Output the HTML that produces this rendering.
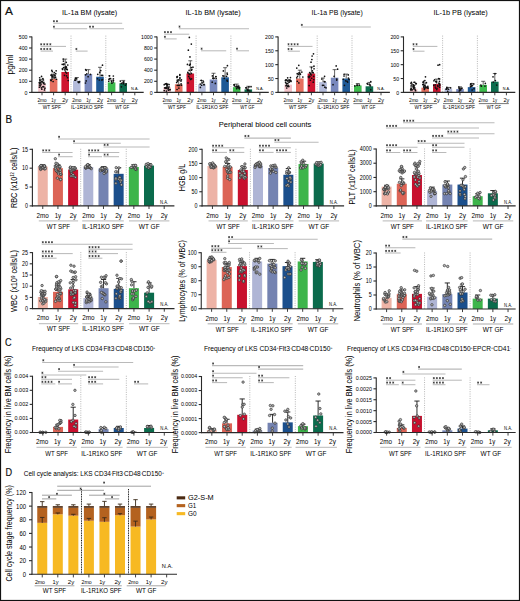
<!DOCTYPE html>
<html><head><meta charset="utf-8"><style>
html,body{margin:0;padding:0;background:#fff;}
svg{display:block;}
text{font-family:"Liberation Sans",sans-serif;}
</style></head><body>
<svg width="520" height="601" viewBox="0 0 520 601" font-family="Liberation Sans, sans-serif">
<rect x="0" y="0" width="520" height="601" fill="#fff"/>
<text x="5" y="14.6" font-size="11.6" fill="#111" textLength="7.9" lengthAdjust="spacingAndGlyphs" style="stroke:#111;stroke-width:0.2">A</text>
<text x="5.6" y="122.9" font-size="11.6" fill="#111" textLength="6.6" lengthAdjust="spacingAndGlyphs" style="stroke:#111;stroke-width:0.2">B</text>
<text x="5" y="346.4" font-size="11.6" fill="#111" textLength="6.6" lengthAdjust="spacingAndGlyphs" style="stroke:#111;stroke-width:0.2">C</text>
<text x="5.6" y="476.4" font-size="11.6" fill="#111" textLength="6.6" lengthAdjust="spacingAndGlyphs" style="stroke:#111;stroke-width:0.2">D</text>
<line x1="71" y1="35.6" x2="71" y2="92.4" stroke="#aaaaaa" stroke-width="0.85" stroke-dasharray="1 1.3"/>
<line x1="105.8" y1="35.6" x2="105.8" y2="92.4" stroke="#aaaaaa" stroke-width="0.85" stroke-dasharray="1 1.3"/>
<rect x="38.2" y="83.52" width="7.6" height="8.88" fill="#F4C3C9"/>
<rect x="49.8" y="78.86" width="7.6" height="13.54" fill="#E66F5F"/>
<rect x="61.4" y="71.98" width="7.6" height="20.42" fill="#CF1530"/>
<rect x="73" y="80.63" width="7.6" height="11.77" fill="#B4BCDB"/>
<rect x="84.6" y="74.09" width="7.6" height="18.31" fill="#7888BD"/>
<rect x="96.2" y="76.75" width="7.6" height="15.65" fill="#1E5996"/>
<rect x="107.8" y="82.41" width="7.6" height="9.99" fill="#3DBB4C"/>
<rect x="119.4" y="83.3" width="7.6" height="9.1" fill="#0D6C4D"/>
<line x1="42" y1="83.52" x2="42" y2="79.3" stroke="#222" stroke-width="0.7"/>
<line x1="40" y1="79.3" x2="44" y2="79.3" stroke="#222" stroke-width="0.7"/>
<line x1="53.6" y1="78.86" x2="53.6" y2="75.53" stroke="#222" stroke-width="0.7"/>
<line x1="51.6" y1="75.53" x2="55.6" y2="75.53" stroke="#222" stroke-width="0.7"/>
<line x1="65.2" y1="71.98" x2="65.2" y2="59.1" stroke="#222" stroke-width="0.7"/>
<line x1="63.2" y1="59.1" x2="67.2" y2="59.1" stroke="#222" stroke-width="0.7"/>
<line x1="76.8" y1="80.63" x2="76.8" y2="77.53" stroke="#222" stroke-width="0.7"/>
<line x1="74.8" y1="77.53" x2="78.8" y2="77.53" stroke="#222" stroke-width="0.7"/>
<line x1="88.4" y1="74.09" x2="88.4" y2="69.65" stroke="#222" stroke-width="0.7"/>
<line x1="86.4" y1="69.65" x2="90.4" y2="69.65" stroke="#222" stroke-width="0.7"/>
<line x1="100" y1="76.75" x2="100" y2="67.31" stroke="#222" stroke-width="0.7"/>
<line x1="98" y1="67.31" x2="102" y2="67.31" stroke="#222" stroke-width="0.7"/>
<line x1="111.6" y1="82.41" x2="111.6" y2="80.19" stroke="#222" stroke-width="0.7"/>
<line x1="109.6" y1="80.19" x2="113.6" y2="80.19" stroke="#222" stroke-width="0.7"/>
<line x1="123.2" y1="83.3" x2="123.2" y2="80.41" stroke="#222" stroke-width="0.7"/>
<line x1="121.2" y1="80.41" x2="125.2" y2="80.41" stroke="#222" stroke-width="0.7"/>
<circle cx="44.49" cy="89.96" r="0.85" fill="#111"/>
<circle cx="41.82" cy="89.17" r="0.85" fill="#111"/>
<circle cx="44.92" cy="88.2" r="0.85" fill="#111"/>
<circle cx="41.38" cy="87.82" r="0.85" fill="#111"/>
<circle cx="39.4" cy="87.15" r="0.85" fill="#111"/>
<circle cx="42.79" cy="86.87" r="0.85" fill="#111"/>
<circle cx="43.69" cy="86.69" r="0.85" fill="#111"/>
<circle cx="40.6" cy="85.8" r="0.85" fill="#111"/>
<circle cx="39.49" cy="85.07" r="0.85" fill="#111"/>
<circle cx="40.98" cy="84.16" r="0.85" fill="#111"/>
<circle cx="44.82" cy="84.05" r="0.85" fill="#111"/>
<circle cx="43.57" cy="83.57" r="0.85" fill="#111"/>
<circle cx="39.68" cy="83.49" r="0.85" fill="#111"/>
<circle cx="40.46" cy="82.85" r="0.85" fill="#111"/>
<circle cx="39.57" cy="82.79" r="0.85" fill="#111"/>
<circle cx="39.32" cy="82.62" r="0.85" fill="#111"/>
<circle cx="43.81" cy="82.39" r="0.85" fill="#111"/>
<circle cx="40.04" cy="82.17" r="0.85" fill="#111"/>
<circle cx="42.36" cy="81.97" r="0.85" fill="#111"/>
<circle cx="41.68" cy="81.53" r="0.85" fill="#111"/>
<circle cx="40.12" cy="80.62" r="0.85" fill="#111"/>
<circle cx="43.41" cy="80" r="0.85" fill="#111"/>
<circle cx="39.76" cy="79.93" r="0.85" fill="#111"/>
<circle cx="42.87" cy="78.5" r="0.85" fill="#111"/>
<circle cx="39.67" cy="77.76" r="0.85" fill="#111"/>
<circle cx="41.52" cy="76.45" r="0.85" fill="#111"/>
<circle cx="53.12" cy="81.51" r="0.85" fill="#111"/>
<circle cx="51.19" cy="80.53" r="0.85" fill="#111"/>
<circle cx="50.8" cy="80.09" r="0.85" fill="#111"/>
<circle cx="56.41" cy="79.26" r="0.85" fill="#111"/>
<circle cx="52.01" cy="79.12" r="0.85" fill="#111"/>
<circle cx="54.84" cy="77.98" r="0.85" fill="#111"/>
<circle cx="52.12" cy="77.6" r="0.85" fill="#111"/>
<circle cx="55.57" cy="77.19" r="0.85" fill="#111"/>
<circle cx="54.19" cy="77" r="0.85" fill="#111"/>
<circle cx="52.34" cy="76.16" r="0.85" fill="#111"/>
<circle cx="51.63" cy="75.86" r="0.85" fill="#111"/>
<circle cx="54.94" cy="75.29" r="0.85" fill="#111"/>
<circle cx="50.98" cy="75.07" r="0.85" fill="#111"/>
<circle cx="51.95" cy="74.39" r="0.85" fill="#111"/>
<circle cx="53.96" cy="74.24" r="0.85" fill="#111"/>
<circle cx="55.74" cy="73.66" r="0.85" fill="#111"/>
<circle cx="54.29" cy="72.51" r="0.85" fill="#111"/>
<circle cx="52.26" cy="71.61" r="0.85" fill="#111"/>
<circle cx="56.14" cy="70.81" r="0.85" fill="#111"/>
<circle cx="51.8" cy="70.33" r="0.85" fill="#111"/>
<circle cx="68.2" cy="80.52" r="0.85" fill="#111"/>
<circle cx="67.51" cy="77.64" r="0.85" fill="#111"/>
<circle cx="66.59" cy="75.9" r="0.85" fill="#111"/>
<circle cx="64.52" cy="75.32" r="0.85" fill="#111"/>
<circle cx="66.63" cy="73.11" r="0.85" fill="#111"/>
<circle cx="65.69" cy="72.09" r="0.85" fill="#111"/>
<circle cx="64.84" cy="69.86" r="0.85" fill="#111"/>
<circle cx="67.26" cy="69.71" r="0.85" fill="#111"/>
<circle cx="62.67" cy="69.4" r="0.85" fill="#111"/>
<circle cx="66.72" cy="69.18" r="0.85" fill="#111"/>
<circle cx="62.34" cy="68.74" r="0.85" fill="#111"/>
<circle cx="65.82" cy="68.34" r="0.85" fill="#111"/>
<circle cx="65.08" cy="68.06" r="0.85" fill="#111"/>
<circle cx="63.56" cy="67.65" r="0.85" fill="#111"/>
<circle cx="66.41" cy="67.18" r="0.85" fill="#111"/>
<circle cx="65.18" cy="67.11" r="0.85" fill="#111"/>
<circle cx="65.9" cy="66.64" r="0.85" fill="#111"/>
<circle cx="67.76" cy="65.01" r="0.85" fill="#111"/>
<circle cx="63.72" cy="64.54" r="0.85" fill="#111"/>
<circle cx="62.23" cy="64.3" r="0.85" fill="#111"/>
<circle cx="63.99" cy="63.9" r="0.85" fill="#111"/>
<circle cx="66.28" cy="62.28" r="0.85" fill="#111"/>
<circle cx="63.39" cy="61.09" r="0.85" fill="#111"/>
<circle cx="63.19" cy="59.11" r="0.85" fill="#111"/>
<circle cx="78.85" cy="82.55" r="0.85" fill="#111"/>
<circle cx="78.92" cy="82.15" r="0.85" fill="#111"/>
<circle cx="78.08" cy="81.89" r="0.85" fill="#111"/>
<circle cx="79.54" cy="81.67" r="0.85" fill="#111"/>
<circle cx="75.44" cy="80.2" r="0.85" fill="#111"/>
<circle cx="74.79" cy="80.06" r="0.85" fill="#111"/>
<circle cx="76.5" cy="78.66" r="0.85" fill="#111"/>
<circle cx="75.43" cy="78.46" r="0.85" fill="#111"/>
<circle cx="85.48" cy="83" r="0.85" fill="#111"/>
<circle cx="86.19" cy="80.89" r="0.85" fill="#111"/>
<circle cx="88.13" cy="76.63" r="0.85" fill="#111"/>
<circle cx="85.51" cy="74.84" r="0.85" fill="#111"/>
<circle cx="90.4" cy="74.46" r="0.85" fill="#111"/>
<circle cx="86.8" cy="73.78" r="0.85" fill="#111"/>
<circle cx="86.22" cy="70.34" r="0.85" fill="#111"/>
<circle cx="85.65" cy="69.55" r="0.85" fill="#111"/>
<circle cx="99.35" cy="80" r="0.85" fill="#111"/>
<circle cx="101.77" cy="79.99" r="0.85" fill="#111"/>
<circle cx="102.47" cy="79.55" r="0.85" fill="#111"/>
<circle cx="97.49" cy="78.75" r="0.85" fill="#111"/>
<circle cx="102.63" cy="75.38" r="0.85" fill="#111"/>
<circle cx="101.35" cy="75.37" r="0.85" fill="#111"/>
<circle cx="97.75" cy="74.37" r="0.85" fill="#111"/>
<circle cx="99.72" cy="72.38" r="0.85" fill="#111"/>
<circle cx="100.76" cy="70.62" r="0.85" fill="#111"/>
<circle cx="102.49" cy="65.16" r="0.85" fill="#111"/>
<circle cx="111.91" cy="83.14" r="0.85" fill="#111"/>
<circle cx="113.23" cy="82.01" r="0.85" fill="#111"/>
<circle cx="111.52" cy="81.47" r="0.85" fill="#111"/>
<circle cx="108.73" cy="81.27" r="0.85" fill="#111"/>
<circle cx="113.48" cy="80.59" r="0.85" fill="#111"/>
<circle cx="108.95" cy="79.45" r="0.85" fill="#111"/>
<circle cx="113.42" cy="78.78" r="0.85" fill="#111"/>
<circle cx="109.61" cy="78.72" r="0.85" fill="#111"/>
<circle cx="110.6" cy="78.5" r="0.85" fill="#111"/>
<circle cx="113.35" cy="76" r="0.85" fill="#111"/>
<circle cx="109.41" cy="75.86" r="0.85" fill="#111"/>
<circle cx="109.46" cy="75.74" r="0.85" fill="#111"/>
<circle cx="121.43" cy="86.8" r="0.85" fill="#111"/>
<circle cx="125.33" cy="85.26" r="0.85" fill="#111"/>
<circle cx="126.05" cy="83.81" r="0.85" fill="#111"/>
<circle cx="123.35" cy="83.64" r="0.85" fill="#111"/>
<circle cx="123.64" cy="83.47" r="0.85" fill="#111"/>
<circle cx="121.38" cy="83.28" r="0.85" fill="#111"/>
<circle cx="123.42" cy="82.6" r="0.85" fill="#111"/>
<circle cx="123.22" cy="82.4" r="0.85" fill="#111"/>
<circle cx="123.84" cy="81.79" r="0.85" fill="#111"/>
<circle cx="120.33" cy="81.07" r="0.85" fill="#111"/>
<line x1="31.9" y1="36.4" x2="31.9" y2="92.9" stroke="#2a2a2a" stroke-width="1.1"/>
<line x1="31.4" y1="92.4" x2="143.7" y2="92.4" stroke="#2a2a2a" stroke-width="1.1"/>
<line x1="29.1" y1="92.4" x2="31.9" y2="92.4" stroke="#2a2a2a" stroke-width="1.1"/>
<text x="27.5" y="94.56" font-size="6" text-anchor="end" textLength="2.9" lengthAdjust="spacingAndGlyphs">0</text>
<line x1="29.1" y1="81.3" x2="31.9" y2="81.3" stroke="#2a2a2a" stroke-width="1.1"/>
<text x="27.5" y="83.46" font-size="6" text-anchor="end" textLength="8.7" lengthAdjust="spacingAndGlyphs">100</text>
<line x1="29.1" y1="70.2" x2="31.9" y2="70.2" stroke="#2a2a2a" stroke-width="1.1"/>
<text x="27.5" y="72.36" font-size="6" text-anchor="end" textLength="8.7" lengthAdjust="spacingAndGlyphs">200</text>
<line x1="29.1" y1="59.1" x2="31.9" y2="59.1" stroke="#2a2a2a" stroke-width="1.1"/>
<text x="27.5" y="61.26" font-size="6" text-anchor="end" textLength="8.7" lengthAdjust="spacingAndGlyphs">300</text>
<line x1="29.1" y1="48" x2="31.9" y2="48" stroke="#2a2a2a" stroke-width="1.1"/>
<text x="27.5" y="50.16" font-size="6" text-anchor="end" textLength="8.7" lengthAdjust="spacingAndGlyphs">400</text>
<line x1="29.1" y1="36.9" x2="31.9" y2="36.9" stroke="#2a2a2a" stroke-width="1.1"/>
<text x="27.5" y="39.06" font-size="6" text-anchor="end" textLength="8.7" lengthAdjust="spacingAndGlyphs">500</text>
<line x1="42" y1="92.4" x2="42" y2="95.3" stroke="#2a2a2a" stroke-width="0.9"/>
<line x1="53.6" y1="92.4" x2="53.6" y2="95.3" stroke="#2a2a2a" stroke-width="0.9"/>
<line x1="65.2" y1="92.4" x2="65.2" y2="95.3" stroke="#2a2a2a" stroke-width="0.9"/>
<line x1="76.8" y1="92.4" x2="76.8" y2="95.3" stroke="#2a2a2a" stroke-width="0.9"/>
<line x1="88.4" y1="92.4" x2="88.4" y2="95.3" stroke="#2a2a2a" stroke-width="0.9"/>
<line x1="100" y1="92.4" x2="100" y2="95.3" stroke="#2a2a2a" stroke-width="0.9"/>
<line x1="111.6" y1="92.4" x2="111.6" y2="95.3" stroke="#2a2a2a" stroke-width="0.9"/>
<line x1="123.2" y1="92.4" x2="123.2" y2="95.3" stroke="#2a2a2a" stroke-width="0.9"/>
<line x1="134.8" y1="92.4" x2="134.8" y2="95.3" stroke="#2a2a2a" stroke-width="0.9"/>
<text x="42" y="101.7" font-size="6" text-anchor="middle" textLength="9.2" lengthAdjust="spacingAndGlyphs">2mo</text>
<text x="53.6" y="101.7" font-size="6" text-anchor="middle" textLength="4.5" lengthAdjust="spacingAndGlyphs">1y</text>
<text x="65.2" y="101.7" font-size="6" text-anchor="middle" textLength="5.9" lengthAdjust="spacingAndGlyphs">2y</text>
<text x="76.8" y="101.7" font-size="6" text-anchor="middle" textLength="9.2" lengthAdjust="spacingAndGlyphs">2mo</text>
<text x="88.4" y="101.7" font-size="6" text-anchor="middle" textLength="4.5" lengthAdjust="spacingAndGlyphs">1y</text>
<text x="100" y="101.7" font-size="6" text-anchor="middle" textLength="5.9" lengthAdjust="spacingAndGlyphs">2y</text>
<text x="111.6" y="101.7" font-size="6" text-anchor="middle" textLength="9.2" lengthAdjust="spacingAndGlyphs">2mo</text>
<text x="123.2" y="101.7" font-size="6" text-anchor="middle" textLength="4.5" lengthAdjust="spacingAndGlyphs">1y</text>
<text x="134.8" y="101.7" font-size="6" text-anchor="middle" textLength="5.9" lengthAdjust="spacingAndGlyphs">2y</text>
<line x1="38.2" y1="103.6" x2="65.5" y2="103.6" stroke="#4a4a4a" stroke-width="0.75"/>
<text x="51.85" y="109" font-size="5.3" text-anchor="middle" textLength="18.1" lengthAdjust="spacingAndGlyphs">WT SPF</text>
<line x1="71.4" y1="103.6" x2="103" y2="103.6" stroke="#4a4a4a" stroke-width="0.75"/>
<text x="87.2" y="109" font-size="5.3" text-anchor="middle" textLength="32.3" lengthAdjust="spacingAndGlyphs">IL-1R1KO SPF</text>
<line x1="107.2" y1="103.6" x2="137.2" y2="103.6" stroke="#4a4a4a" stroke-width="0.75"/>
<text x="122.2" y="109" font-size="5.3" text-anchor="middle" textLength="14" lengthAdjust="spacingAndGlyphs">WT GF</text>
<text x="134.8" y="90.2" font-size="4.2" text-anchor="middle" textLength="7.4" lengthAdjust="spacingAndGlyphs">N.A.</text>
<line x1="53.3" y1="23.3" x2="122.2" y2="23.3" stroke="#bababa" stroke-width="1.05"/>
<path d="M53.9 20.15V22.25M52.99 20.68L54.81 21.72M52.99 21.72L54.81 20.68" stroke="#333" stroke-width="0.7" fill="none"/>
<path d="M56.95 20.15V22.25M56.04 20.68L57.86 21.72M56.04 21.72L57.86 20.68" stroke="#333" stroke-width="0.7" fill="none"/>
<line x1="53.3" y1="28.8" x2="87.2" y2="28.8" stroke="#bababa" stroke-width="1.05"/>
<path d="M53.9 25.65V27.75M52.99 26.18L54.81 27.22M52.99 27.22L54.81 26.18" stroke="#333" stroke-width="0.7" fill="none"/>
<line x1="89.4" y1="28.8" x2="124" y2="28.8" stroke="#bababa" stroke-width="1.05"/>
<path d="M90 25.65V27.75M89.09 26.18L90.91 27.22M89.09 27.22L90.91 26.18" stroke="#333" stroke-width="0.7" fill="none"/>
<path d="M93.05 25.65V27.75M92.14 26.18L93.96 27.22M92.14 27.22L93.96 26.18" stroke="#333" stroke-width="0.7" fill="none"/>
<line x1="40.6" y1="46.4" x2="66" y2="46.4" stroke="#bababa" stroke-width="1.05"/>
<path d="M41.2 43.25V45.35M40.29 43.77L42.11 44.82M40.29 44.82L42.11 43.77" stroke="#333" stroke-width="0.7" fill="none"/>
<path d="M44.25 43.25V45.35M43.34 43.77L45.16 44.82M43.34 44.82L45.16 43.77" stroke="#333" stroke-width="0.7" fill="none"/>
<path d="M47.3 43.25V45.35M46.39 43.77L48.21 44.82M46.39 44.82L48.21 43.77" stroke="#333" stroke-width="0.7" fill="none"/>
<path d="M50.35 43.25V45.35M49.44 43.77L51.26 44.82M49.44 44.82L51.26 43.77" stroke="#333" stroke-width="0.7" fill="none"/>
<line x1="40.6" y1="51.1" x2="53" y2="51.1" stroke="#bababa" stroke-width="1.05"/>
<path d="M41.2 47.95V50.05M40.29 48.48L42.11 49.52M40.29 49.52L42.11 48.48" stroke="#333" stroke-width="0.7" fill="none"/>
<path d="M44.25 47.95V50.05M43.34 48.48L45.16 49.52M43.34 49.52L45.16 48.48" stroke="#333" stroke-width="0.7" fill="none"/>
<path d="M47.3 47.95V50.05M46.39 48.48L48.21 49.52M46.39 49.52L48.21 48.48" stroke="#333" stroke-width="0.7" fill="none"/>
<path d="M50.35 47.95V50.05M49.44 48.48L51.26 49.52M49.44 49.52L51.26 48.48" stroke="#333" stroke-width="0.7" fill="none"/>
<line x1="75.8" y1="51.1" x2="87.6" y2="51.1" stroke="#bababa" stroke-width="1.05"/>
<path d="M76.4 47.95V50.05M75.49 48.48L77.31 49.52M75.49 49.52L77.31 48.48" stroke="#333" stroke-width="0.7" fill="none"/>
<text x="89.6" y="14.6" font-size="7.3" text-anchor="middle" textLength="55" lengthAdjust="spacingAndGlyphs">IL-1a BM (lysate)</text>
<text x="12.8" y="64.4" font-size="9" text-anchor="middle" textLength="20" lengthAdjust="spacingAndGlyphs" transform="rotate(-90 12.8 64.4)">pg/ml</text>
<line x1="196.1" y1="35.6" x2="196.1" y2="92.4" stroke="#aaaaaa" stroke-width="0.85" stroke-dasharray="1 1.3"/>
<line x1="230.9" y1="35.6" x2="230.9" y2="92.4" stroke="#aaaaaa" stroke-width="0.85" stroke-dasharray="1 1.3"/>
<rect x="163.3" y="87.18" width="7.6" height="5.22" fill="#F4C3C9"/>
<rect x="174.9" y="84.3" width="7.6" height="8.1" fill="#E66F5F"/>
<rect x="186.5" y="73.53" width="7.6" height="18.87" fill="#CF1530"/>
<rect x="198.1" y="84.3" width="7.6" height="8.1" fill="#B4BCDB"/>
<rect x="209.7" y="79.52" width="7.6" height="12.88" fill="#7888BD"/>
<rect x="221.3" y="77.3" width="7.6" height="15.1" fill="#1E5996"/>
<rect x="232.9" y="87.18" width="7.6" height="5.22" fill="#3DBB4C"/>
<rect x="244.5" y="89.4" width="7.6" height="3" fill="#0D6C4D"/>
<line x1="167.1" y1="87.18" x2="167.1" y2="84.08" stroke="#222" stroke-width="0.7"/>
<line x1="165.1" y1="84.08" x2="169.1" y2="84.08" stroke="#222" stroke-width="0.7"/>
<line x1="178.7" y1="84.3" x2="178.7" y2="80.47" stroke="#222" stroke-width="0.7"/>
<line x1="176.7" y1="80.47" x2="180.7" y2="80.47" stroke="#222" stroke-width="0.7"/>
<line x1="190.3" y1="73.53" x2="190.3" y2="60.77" stroke="#222" stroke-width="0.7"/>
<line x1="188.3" y1="60.77" x2="192.3" y2="60.77" stroke="#222" stroke-width="0.7"/>
<line x1="201.9" y1="84.3" x2="201.9" y2="80.47" stroke="#222" stroke-width="0.7"/>
<line x1="199.9" y1="80.47" x2="203.9" y2="80.47" stroke="#222" stroke-width="0.7"/>
<line x1="213.5" y1="79.52" x2="213.5" y2="73.25" stroke="#222" stroke-width="0.7"/>
<line x1="211.5" y1="73.25" x2="215.5" y2="73.25" stroke="#222" stroke-width="0.7"/>
<line x1="225.1" y1="77.3" x2="225.1" y2="67.7" stroke="#222" stroke-width="0.7"/>
<line x1="223.1" y1="67.7" x2="227.1" y2="67.7" stroke="#222" stroke-width="0.7"/>
<line x1="236.7" y1="87.18" x2="236.7" y2="84.08" stroke="#222" stroke-width="0.7"/>
<line x1="234.7" y1="84.08" x2="238.7" y2="84.08" stroke="#222" stroke-width="0.7"/>
<line x1="248.3" y1="89.4" x2="248.3" y2="86.3" stroke="#222" stroke-width="0.7"/>
<line x1="246.3" y1="86.3" x2="250.3" y2="86.3" stroke="#222" stroke-width="0.7"/>
<circle cx="166.4" cy="91.08" r="0.85" fill="#111"/>
<circle cx="164.25" cy="90.57" r="0.85" fill="#111"/>
<circle cx="168.48" cy="90.15" r="0.85" fill="#111"/>
<circle cx="169.94" cy="89.72" r="0.85" fill="#111"/>
<circle cx="170" cy="89.57" r="0.85" fill="#111"/>
<circle cx="168.09" cy="89.07" r="0.85" fill="#111"/>
<circle cx="166.23" cy="88.52" r="0.85" fill="#111"/>
<circle cx="166.27" cy="88.25" r="0.85" fill="#111"/>
<circle cx="168.26" cy="88.21" r="0.85" fill="#111"/>
<circle cx="168.16" cy="88.09" r="0.85" fill="#111"/>
<circle cx="164.75" cy="87.94" r="0.85" fill="#111"/>
<circle cx="165.49" cy="87.94" r="0.85" fill="#111"/>
<circle cx="166.27" cy="87.31" r="0.85" fill="#111"/>
<circle cx="167.17" cy="86.99" r="0.85" fill="#111"/>
<circle cx="168.99" cy="86.97" r="0.85" fill="#111"/>
<circle cx="167.1" cy="85.74" r="0.85" fill="#111"/>
<circle cx="164.23" cy="84.65" r="0.85" fill="#111"/>
<circle cx="169.06" cy="84.6" r="0.85" fill="#111"/>
<circle cx="166.68" cy="84.57" r="0.85" fill="#111"/>
<circle cx="167.22" cy="84.55" r="0.85" fill="#111"/>
<circle cx="165.41" cy="83.8" r="0.85" fill="#111"/>
<circle cx="166.66" cy="83.72" r="0.85" fill="#111"/>
<circle cx="177.06" cy="89.49" r="0.85" fill="#111"/>
<circle cx="178.87" cy="88.11" r="0.85" fill="#111"/>
<circle cx="178.56" cy="85.46" r="0.85" fill="#111"/>
<circle cx="179.47" cy="85.35" r="0.85" fill="#111"/>
<circle cx="177.26" cy="85.33" r="0.85" fill="#111"/>
<circle cx="181.42" cy="85.24" r="0.85" fill="#111"/>
<circle cx="181.1" cy="83.88" r="0.85" fill="#111"/>
<circle cx="176.65" cy="82.49" r="0.85" fill="#111"/>
<circle cx="177.43" cy="81.31" r="0.85" fill="#111"/>
<circle cx="180.97" cy="81.08" r="0.85" fill="#111"/>
<circle cx="177.35" cy="80" r="0.85" fill="#111"/>
<circle cx="181.4" cy="79.83" r="0.85" fill="#111"/>
<circle cx="178.79" cy="79.73" r="0.85" fill="#111"/>
<circle cx="179.89" cy="78.81" r="0.85" fill="#111"/>
<circle cx="179.94" cy="77.65" r="0.85" fill="#111"/>
<circle cx="176.96" cy="77.39" r="0.85" fill="#111"/>
<circle cx="177.39" cy="76.61" r="0.85" fill="#111"/>
<circle cx="177.21" cy="76.53" r="0.85" fill="#111"/>
<circle cx="179.81" cy="75.26" r="0.85" fill="#111"/>
<circle cx="179.88" cy="74.55" r="0.85" fill="#111"/>
<circle cx="188.02" cy="82.92" r="0.85" fill="#111"/>
<circle cx="190.51" cy="79.43" r="0.85" fill="#111"/>
<circle cx="191.52" cy="78.84" r="0.85" fill="#111"/>
<circle cx="189.66" cy="78.11" r="0.85" fill="#111"/>
<circle cx="188.75" cy="76.39" r="0.85" fill="#111"/>
<circle cx="189.73" cy="74.29" r="0.85" fill="#111"/>
<circle cx="189.23" cy="74.03" r="0.85" fill="#111"/>
<circle cx="191.43" cy="73.38" r="0.85" fill="#111"/>
<circle cx="188.12" cy="73.34" r="0.85" fill="#111"/>
<circle cx="187.81" cy="72.26" r="0.85" fill="#111"/>
<circle cx="189.16" cy="70.33" r="0.85" fill="#111"/>
<circle cx="191.49" cy="70.14" r="0.85" fill="#111"/>
<circle cx="191.88" cy="69.36" r="0.85" fill="#111"/>
<circle cx="191.27" cy="67.5" r="0.85" fill="#111"/>
<circle cx="192.94" cy="67.19" r="0.85" fill="#111"/>
<circle cx="189.48" cy="65.15" r="0.85" fill="#111"/>
<circle cx="187.44" cy="64.47" r="0.85" fill="#111"/>
<circle cx="190.23" cy="64.13" r="0.85" fill="#111"/>
<circle cx="189.96" cy="56.88" r="0.85" fill="#111"/>
<circle cx="188.35" cy="50.22" r="0.85" fill="#111"/>
<circle cx="191.32" cy="44.12" r="0.85" fill="#111"/>
<circle cx="189.33" cy="37.45" r="0.85" fill="#111"/>
<circle cx="200.38" cy="87.44" r="0.85" fill="#111"/>
<circle cx="201.65" cy="85.23" r="0.85" fill="#111"/>
<circle cx="204.06" cy="84.85" r="0.85" fill="#111"/>
<circle cx="203.92" cy="84.36" r="0.85" fill="#111"/>
<circle cx="200.24" cy="84.09" r="0.85" fill="#111"/>
<circle cx="202.13" cy="82.87" r="0.85" fill="#111"/>
<circle cx="203.49" cy="81.97" r="0.85" fill="#111"/>
<circle cx="201.26" cy="80.31" r="0.85" fill="#111"/>
<circle cx="215.35" cy="83.44" r="0.85" fill="#111"/>
<circle cx="212.2" cy="82.19" r="0.85" fill="#111"/>
<circle cx="216.15" cy="78.51" r="0.85" fill="#111"/>
<circle cx="214.1" cy="78.27" r="0.85" fill="#111"/>
<circle cx="212.83" cy="78.18" r="0.85" fill="#111"/>
<circle cx="215.77" cy="76.75" r="0.85" fill="#111"/>
<circle cx="215.92" cy="76.52" r="0.85" fill="#111"/>
<circle cx="212.41" cy="75.89" r="0.85" fill="#111"/>
<circle cx="227.37" cy="81.18" r="0.85" fill="#111"/>
<circle cx="227.05" cy="80.2" r="0.85" fill="#111"/>
<circle cx="224.24" cy="78.3" r="0.85" fill="#111"/>
<circle cx="226.53" cy="76.35" r="0.85" fill="#111"/>
<circle cx="223.92" cy="76.05" r="0.85" fill="#111"/>
<circle cx="222.89" cy="75.86" r="0.85" fill="#111"/>
<circle cx="227.32" cy="74.33" r="0.85" fill="#111"/>
<circle cx="227.12" cy="73.11" r="0.85" fill="#111"/>
<circle cx="223.34" cy="70.89" r="0.85" fill="#111"/>
<circle cx="227.41" cy="65.71" r="0.85" fill="#111"/>
<circle cx="239.28" cy="88.85" r="0.85" fill="#111"/>
<circle cx="236.65" cy="88.7" r="0.85" fill="#111"/>
<circle cx="238.86" cy="87.78" r="0.85" fill="#111"/>
<circle cx="237.86" cy="87.76" r="0.85" fill="#111"/>
<circle cx="239.47" cy="87.43" r="0.85" fill="#111"/>
<circle cx="237.81" cy="86.93" r="0.85" fill="#111"/>
<circle cx="236.26" cy="86.69" r="0.85" fill="#111"/>
<circle cx="236.13" cy="86.62" r="0.85" fill="#111"/>
<circle cx="237.35" cy="86.46" r="0.85" fill="#111"/>
<circle cx="238.24" cy="86.42" r="0.85" fill="#111"/>
<circle cx="238.76" cy="86.02" r="0.85" fill="#111"/>
<circle cx="234.45" cy="85.81" r="0.85" fill="#111"/>
<circle cx="234.04" cy="84.86" r="0.85" fill="#111"/>
<circle cx="234.32" cy="84.62" r="0.85" fill="#111"/>
<circle cx="249.86" cy="91.01" r="0.85" fill="#111"/>
<circle cx="247.84" cy="90.64" r="0.85" fill="#111"/>
<circle cx="248.56" cy="90.04" r="0.85" fill="#111"/>
<circle cx="247.18" cy="89.53" r="0.85" fill="#111"/>
<circle cx="246.73" cy="87.88" r="0.85" fill="#111"/>
<circle cx="245.79" cy="87.87" r="0.85" fill="#111"/>
<circle cx="248.95" cy="86.88" r="0.85" fill="#111"/>
<circle cx="251.05" cy="86.66" r="0.85" fill="#111"/>
<line x1="157" y1="36.4" x2="157" y2="92.9" stroke="#2a2a2a" stroke-width="1.1"/>
<line x1="156.5" y1="92.4" x2="268.8" y2="92.4" stroke="#2a2a2a" stroke-width="1.1"/>
<line x1="154.2" y1="92.4" x2="157" y2="92.4" stroke="#2a2a2a" stroke-width="1.1"/>
<text x="152.6" y="94.56" font-size="6" text-anchor="end" textLength="2.9" lengthAdjust="spacingAndGlyphs">0</text>
<line x1="154.2" y1="81.3" x2="157" y2="81.3" stroke="#2a2a2a" stroke-width="1.1"/>
<text x="152.6" y="83.46" font-size="6" text-anchor="end" textLength="8.7" lengthAdjust="spacingAndGlyphs">200</text>
<line x1="154.2" y1="70.2" x2="157" y2="70.2" stroke="#2a2a2a" stroke-width="1.1"/>
<text x="152.6" y="72.36" font-size="6" text-anchor="end" textLength="8.7" lengthAdjust="spacingAndGlyphs">400</text>
<line x1="154.2" y1="59.1" x2="157" y2="59.1" stroke="#2a2a2a" stroke-width="1.1"/>
<text x="152.6" y="61.26" font-size="6" text-anchor="end" textLength="8.7" lengthAdjust="spacingAndGlyphs">600</text>
<line x1="154.2" y1="48" x2="157" y2="48" stroke="#2a2a2a" stroke-width="1.1"/>
<text x="152.6" y="50.16" font-size="6" text-anchor="end" textLength="8.7" lengthAdjust="spacingAndGlyphs">800</text>
<line x1="154.2" y1="36.9" x2="157" y2="36.9" stroke="#2a2a2a" stroke-width="1.1"/>
<text x="152.6" y="39.06" font-size="6" text-anchor="end" textLength="11.6" lengthAdjust="spacingAndGlyphs">1000</text>
<line x1="167.1" y1="92.4" x2="167.1" y2="95.3" stroke="#2a2a2a" stroke-width="0.9"/>
<line x1="178.7" y1="92.4" x2="178.7" y2="95.3" stroke="#2a2a2a" stroke-width="0.9"/>
<line x1="190.3" y1="92.4" x2="190.3" y2="95.3" stroke="#2a2a2a" stroke-width="0.9"/>
<line x1="201.9" y1="92.4" x2="201.9" y2="95.3" stroke="#2a2a2a" stroke-width="0.9"/>
<line x1="213.5" y1="92.4" x2="213.5" y2="95.3" stroke="#2a2a2a" stroke-width="0.9"/>
<line x1="225.1" y1="92.4" x2="225.1" y2="95.3" stroke="#2a2a2a" stroke-width="0.9"/>
<line x1="236.7" y1="92.4" x2="236.7" y2="95.3" stroke="#2a2a2a" stroke-width="0.9"/>
<line x1="248.3" y1="92.4" x2="248.3" y2="95.3" stroke="#2a2a2a" stroke-width="0.9"/>
<line x1="259.9" y1="92.4" x2="259.9" y2="95.3" stroke="#2a2a2a" stroke-width="0.9"/>
<text x="167.1" y="101.7" font-size="6" text-anchor="middle" textLength="9.2" lengthAdjust="spacingAndGlyphs">2mo</text>
<text x="178.7" y="101.7" font-size="6" text-anchor="middle" textLength="4.5" lengthAdjust="spacingAndGlyphs">1y</text>
<text x="190.3" y="101.7" font-size="6" text-anchor="middle" textLength="5.9" lengthAdjust="spacingAndGlyphs">2y</text>
<text x="201.9" y="101.7" font-size="6" text-anchor="middle" textLength="9.2" lengthAdjust="spacingAndGlyphs">2mo</text>
<text x="213.5" y="101.7" font-size="6" text-anchor="middle" textLength="4.5" lengthAdjust="spacingAndGlyphs">1y</text>
<text x="225.1" y="101.7" font-size="6" text-anchor="middle" textLength="5.9" lengthAdjust="spacingAndGlyphs">2y</text>
<text x="236.7" y="101.7" font-size="6" text-anchor="middle" textLength="9.2" lengthAdjust="spacingAndGlyphs">2mo</text>
<text x="248.3" y="101.7" font-size="6" text-anchor="middle" textLength="4.5" lengthAdjust="spacingAndGlyphs">1y</text>
<text x="259.9" y="101.7" font-size="6" text-anchor="middle" textLength="5.9" lengthAdjust="spacingAndGlyphs">2y</text>
<line x1="163.3" y1="103.6" x2="190.6" y2="103.6" stroke="#4a4a4a" stroke-width="0.75"/>
<text x="176.95" y="109" font-size="5.3" text-anchor="middle" textLength="18.1" lengthAdjust="spacingAndGlyphs">WT SPF</text>
<line x1="196.5" y1="103.6" x2="228.1" y2="103.6" stroke="#4a4a4a" stroke-width="0.75"/>
<text x="212.3" y="109" font-size="5.3" text-anchor="middle" textLength="32.3" lengthAdjust="spacingAndGlyphs">IL-1R1KO SPF</text>
<line x1="232.3" y1="103.6" x2="262.3" y2="103.6" stroke="#4a4a4a" stroke-width="0.75"/>
<text x="247.3" y="109" font-size="5.3" text-anchor="middle" textLength="14" lengthAdjust="spacingAndGlyphs">WT GF</text>
<text x="259.9" y="90.2" font-size="4.2" text-anchor="middle" textLength="7.4" lengthAdjust="spacingAndGlyphs">N.A.</text>
<line x1="178.9" y1="28.7" x2="249" y2="28.7" stroke="#bababa" stroke-width="1.05"/>
<path d="M179.5 25.55V27.65M178.59 26.07L180.41 27.12M178.59 27.12L180.41 26.07" stroke="#333" stroke-width="0.7" fill="none"/>
<line x1="164.3" y1="34.2" x2="189.3" y2="34.2" stroke="#bababa" stroke-width="1.05"/>
<path d="M164.9 31.05V33.15M163.99 31.58L165.81 32.62M163.99 32.62L165.81 31.58" stroke="#333" stroke-width="0.7" fill="none"/>
<path d="M167.95 31.05V33.15M167.04 31.58L168.86 32.62M167.04 32.62L168.86 31.58" stroke="#333" stroke-width="0.7" fill="none"/>
<path d="M171 31.05V33.15M170.09 31.58L171.91 32.62M170.09 32.62L171.91 31.58" stroke="#333" stroke-width="0.7" fill="none"/>
<line x1="164.3" y1="38.9" x2="176.7" y2="38.9" stroke="#bababa" stroke-width="1.05"/>
<path d="M164.9 35.75V37.85M163.99 36.27L165.81 37.32M163.99 37.32L165.81 36.27" stroke="#333" stroke-width="0.7" fill="none"/>
<line x1="201" y1="50.8" x2="226.2" y2="50.8" stroke="#bababa" stroke-width="1.05"/>
<path d="M201.6 47.65V49.75M200.69 48.17L202.51 49.22M200.69 49.22L202.51 48.17" stroke="#333" stroke-width="0.7" fill="none"/>
<line x1="236.4" y1="50.8" x2="249" y2="50.8" stroke="#bababa" stroke-width="1.05"/>
<path d="M237 47.65V49.75M236.09 48.17L237.91 49.22M236.09 49.22L237.91 48.17" stroke="#333" stroke-width="0.7" fill="none"/>
<text x="213.2" y="14.6" font-size="7.3" text-anchor="middle" textLength="55.2" lengthAdjust="spacingAndGlyphs">IL-1b BM (lysate)</text>
<line x1="317.2" y1="35.6" x2="317.2" y2="92.4" stroke="#aaaaaa" stroke-width="0.85" stroke-dasharray="1 1.3"/>
<line x1="352" y1="35.6" x2="352" y2="92.4" stroke="#aaaaaa" stroke-width="0.85" stroke-dasharray="1 1.3"/>
<rect x="284.4" y="84.63" width="7.6" height="7.77" fill="#F4C3C9"/>
<rect x="296" y="78.53" width="7.6" height="13.88" fill="#E66F5F"/>
<rect x="307.6" y="73.53" width="7.6" height="18.87" fill="#CF1530"/>
<rect x="319.2" y="82.13" width="7.6" height="10.27" fill="#B4BCDB"/>
<rect x="330.8" y="77.69" width="7.6" height="14.71" fill="#7888BD"/>
<rect x="342.4" y="78.53" width="7.6" height="13.88" fill="#1E5996"/>
<rect x="354" y="85.46" width="7.6" height="6.94" fill="#3DBB4C"/>
<rect x="365.6" y="86.3" width="7.6" height="6.11" fill="#0D6C4D"/>
<line x1="288.2" y1="84.63" x2="288.2" y2="79.91" stroke="#222" stroke-width="0.7"/>
<line x1="286.2" y1="79.91" x2="290.2" y2="79.91" stroke="#222" stroke-width="0.7"/>
<line x1="299.8" y1="78.53" x2="299.8" y2="70.2" stroke="#222" stroke-width="0.7"/>
<line x1="297.8" y1="70.2" x2="301.8" y2="70.2" stroke="#222" stroke-width="0.7"/>
<line x1="311.4" y1="73.53" x2="311.4" y2="66.87" stroke="#222" stroke-width="0.7"/>
<line x1="309.4" y1="66.87" x2="313.4" y2="66.87" stroke="#222" stroke-width="0.7"/>
<line x1="323" y1="82.13" x2="323" y2="77.97" stroke="#222" stroke-width="0.7"/>
<line x1="321" y1="77.97" x2="325" y2="77.97" stroke="#222" stroke-width="0.7"/>
<line x1="334.6" y1="77.69" x2="334.6" y2="69.65" stroke="#222" stroke-width="0.7"/>
<line x1="332.6" y1="69.65" x2="336.6" y2="69.65" stroke="#222" stroke-width="0.7"/>
<line x1="346.2" y1="78.53" x2="346.2" y2="74.09" stroke="#222" stroke-width="0.7"/>
<line x1="344.2" y1="74.09" x2="348.2" y2="74.09" stroke="#222" stroke-width="0.7"/>
<line x1="357.8" y1="85.46" x2="357.8" y2="83.52" stroke="#222" stroke-width="0.7"/>
<line x1="355.8" y1="83.52" x2="359.8" y2="83.52" stroke="#222" stroke-width="0.7"/>
<line x1="369.4" y1="86.3" x2="369.4" y2="82.41" stroke="#222" stroke-width="0.7"/>
<line x1="367.4" y1="82.41" x2="371.4" y2="82.41" stroke="#222" stroke-width="0.7"/>
<circle cx="286.7" cy="88" r="0.85" fill="#111"/>
<circle cx="287.95" cy="86.5" r="0.85" fill="#111"/>
<circle cx="288.84" cy="86.43" r="0.85" fill="#111"/>
<circle cx="287.57" cy="86.27" r="0.85" fill="#111"/>
<circle cx="285.96" cy="85.8" r="0.85" fill="#111"/>
<circle cx="288.14" cy="85.71" r="0.85" fill="#111"/>
<circle cx="286.59" cy="85.32" r="0.85" fill="#111"/>
<circle cx="286.59" cy="83.64" r="0.85" fill="#111"/>
<circle cx="286.34" cy="83.52" r="0.85" fill="#111"/>
<circle cx="287.39" cy="83.52" r="0.85" fill="#111"/>
<circle cx="285.61" cy="82.37" r="0.85" fill="#111"/>
<circle cx="289.12" cy="82.19" r="0.85" fill="#111"/>
<circle cx="290.96" cy="81.47" r="0.85" fill="#111"/>
<circle cx="287.53" cy="80.95" r="0.85" fill="#111"/>
<circle cx="289.53" cy="80.91" r="0.85" fill="#111"/>
<circle cx="290.83" cy="80.84" r="0.85" fill="#111"/>
<circle cx="285.42" cy="80.42" r="0.85" fill="#111"/>
<circle cx="286.02" cy="80.37" r="0.85" fill="#111"/>
<circle cx="290.06" cy="80.28" r="0.85" fill="#111"/>
<circle cx="290.26" cy="80.23" r="0.85" fill="#111"/>
<circle cx="289.05" cy="80.12" r="0.85" fill="#111"/>
<circle cx="286.13" cy="79.74" r="0.85" fill="#111"/>
<circle cx="287.67" cy="77.83" r="0.85" fill="#111"/>
<circle cx="290.44" cy="77.54" r="0.85" fill="#111"/>
<circle cx="298.85" cy="82.92" r="0.85" fill="#111"/>
<circle cx="297.32" cy="81.27" r="0.85" fill="#111"/>
<circle cx="296.78" cy="77.87" r="0.85" fill="#111"/>
<circle cx="302.83" cy="77" r="0.85" fill="#111"/>
<circle cx="297.5" cy="76.33" r="0.85" fill="#111"/>
<circle cx="298.59" cy="74.38" r="0.85" fill="#111"/>
<circle cx="298.4" cy="74.27" r="0.85" fill="#111"/>
<circle cx="300.39" cy="74.18" r="0.85" fill="#111"/>
<circle cx="297.23" cy="73.68" r="0.85" fill="#111"/>
<circle cx="299.62" cy="73.06" r="0.85" fill="#111"/>
<circle cx="298.99" cy="72.76" r="0.85" fill="#111"/>
<circle cx="301.83" cy="72.1" r="0.85" fill="#111"/>
<circle cx="296.79" cy="68.1" r="0.85" fill="#111"/>
<circle cx="298.8" cy="65.33" r="0.85" fill="#111"/>
<circle cx="309.15" cy="85.59" r="0.85" fill="#111"/>
<circle cx="313.25" cy="82.22" r="0.85" fill="#111"/>
<circle cx="310.32" cy="80.24" r="0.85" fill="#111"/>
<circle cx="313.79" cy="79.54" r="0.85" fill="#111"/>
<circle cx="311.68" cy="78.23" r="0.85" fill="#111"/>
<circle cx="309.12" cy="77.62" r="0.85" fill="#111"/>
<circle cx="308.39" cy="76.8" r="0.85" fill="#111"/>
<circle cx="309.87" cy="76.48" r="0.85" fill="#111"/>
<circle cx="313.64" cy="76.41" r="0.85" fill="#111"/>
<circle cx="309.27" cy="76.09" r="0.85" fill="#111"/>
<circle cx="311.27" cy="75" r="0.85" fill="#111"/>
<circle cx="310.62" cy="74.19" r="0.85" fill="#111"/>
<circle cx="310.46" cy="73.32" r="0.85" fill="#111"/>
<circle cx="313.23" cy="72.84" r="0.85" fill="#111"/>
<circle cx="309.66" cy="72.66" r="0.85" fill="#111"/>
<circle cx="312.73" cy="72.51" r="0.85" fill="#111"/>
<circle cx="312.41" cy="70.92" r="0.85" fill="#111"/>
<circle cx="314.05" cy="68.76" r="0.85" fill="#111"/>
<circle cx="311.52" cy="67.55" r="0.85" fill="#111"/>
<circle cx="313.96" cy="66.21" r="0.85" fill="#111"/>
<circle cx="311.04" cy="62.17" r="0.85" fill="#111"/>
<circle cx="311.85" cy="59.5" r="0.85" fill="#111"/>
<circle cx="312.13" cy="56.02" r="0.85" fill="#111"/>
<circle cx="313.47" cy="53.82" r="0.85" fill="#111"/>
<circle cx="326.04" cy="87.86" r="0.85" fill="#111"/>
<circle cx="324.88" cy="87.15" r="0.85" fill="#111"/>
<circle cx="322.54" cy="85.35" r="0.85" fill="#111"/>
<circle cx="323.74" cy="85.24" r="0.85" fill="#111"/>
<circle cx="325.03" cy="81.78" r="0.85" fill="#111"/>
<circle cx="324.31" cy="81.57" r="0.85" fill="#111"/>
<circle cx="321.73" cy="78.98" r="0.85" fill="#111"/>
<circle cx="324.59" cy="76.23" r="0.85" fill="#111"/>
<circle cx="333.06" cy="84.66" r="0.85" fill="#111"/>
<circle cx="336.73" cy="80.07" r="0.85" fill="#111"/>
<circle cx="336.75" cy="79.04" r="0.85" fill="#111"/>
<circle cx="334.09" cy="76.37" r="0.85" fill="#111"/>
<circle cx="337.6" cy="69.13" r="0.85" fill="#111"/>
<circle cx="336.19" cy="65.96" r="0.85" fill="#111"/>
<circle cx="344.46" cy="85.28" r="0.85" fill="#111"/>
<circle cx="347.69" cy="82.1" r="0.85" fill="#111"/>
<circle cx="347.11" cy="81.33" r="0.85" fill="#111"/>
<circle cx="345.76" cy="80.87" r="0.85" fill="#111"/>
<circle cx="348.99" cy="79.4" r="0.85" fill="#111"/>
<circle cx="343.29" cy="79.24" r="0.85" fill="#111"/>
<circle cx="348.4" cy="78.11" r="0.85" fill="#111"/>
<circle cx="344.03" cy="75.98" r="0.85" fill="#111"/>
<circle cx="348.27" cy="74.97" r="0.85" fill="#111"/>
<circle cx="344.09" cy="74.32" r="0.85" fill="#111"/>
<circle cx="354.82" cy="85.91" r="0.85" fill="#111"/>
<circle cx="357.49" cy="85.32" r="0.85" fill="#111"/>
<circle cx="359.38" cy="85.2" r="0.85" fill="#111"/>
<circle cx="356.83" cy="85.09" r="0.85" fill="#111"/>
<circle cx="370.74" cy="89.7" r="0.85" fill="#111"/>
<circle cx="370.42" cy="85.82" r="0.85" fill="#111"/>
<circle cx="369.95" cy="84.51" r="0.85" fill="#111"/>
<circle cx="367.92" cy="84.14" r="0.85" fill="#111"/>
<circle cx="367.17" cy="83.6" r="0.85" fill="#111"/>
<circle cx="370.78" cy="81.55" r="0.85" fill="#111"/>
<line x1="278.1" y1="36.4" x2="278.1" y2="92.9" stroke="#2a2a2a" stroke-width="1.1"/>
<line x1="277.6" y1="92.4" x2="389.9" y2="92.4" stroke="#2a2a2a" stroke-width="1.1"/>
<line x1="275.3" y1="92.4" x2="278.1" y2="92.4" stroke="#2a2a2a" stroke-width="1.1"/>
<text x="273.7" y="94.56" font-size="6" text-anchor="end" textLength="2.9" lengthAdjust="spacingAndGlyphs">0</text>
<line x1="275.3" y1="78.53" x2="278.1" y2="78.53" stroke="#2a2a2a" stroke-width="1.1"/>
<text x="273.7" y="80.69" font-size="6" text-anchor="end" textLength="5.8" lengthAdjust="spacingAndGlyphs">50</text>
<line x1="275.3" y1="64.65" x2="278.1" y2="64.65" stroke="#2a2a2a" stroke-width="1.1"/>
<text x="273.7" y="66.81" font-size="6" text-anchor="end" textLength="8.7" lengthAdjust="spacingAndGlyphs">100</text>
<line x1="275.3" y1="50.77" x2="278.1" y2="50.77" stroke="#2a2a2a" stroke-width="1.1"/>
<text x="273.7" y="52.94" font-size="6" text-anchor="end" textLength="8.7" lengthAdjust="spacingAndGlyphs">150</text>
<line x1="275.3" y1="36.9" x2="278.1" y2="36.9" stroke="#2a2a2a" stroke-width="1.1"/>
<text x="273.7" y="39.06" font-size="6" text-anchor="end" textLength="8.7" lengthAdjust="spacingAndGlyphs">200</text>
<line x1="288.2" y1="92.4" x2="288.2" y2="95.3" stroke="#2a2a2a" stroke-width="0.9"/>
<line x1="299.8" y1="92.4" x2="299.8" y2="95.3" stroke="#2a2a2a" stroke-width="0.9"/>
<line x1="311.4" y1="92.4" x2="311.4" y2="95.3" stroke="#2a2a2a" stroke-width="0.9"/>
<line x1="323" y1="92.4" x2="323" y2="95.3" stroke="#2a2a2a" stroke-width="0.9"/>
<line x1="334.6" y1="92.4" x2="334.6" y2="95.3" stroke="#2a2a2a" stroke-width="0.9"/>
<line x1="346.2" y1="92.4" x2="346.2" y2="95.3" stroke="#2a2a2a" stroke-width="0.9"/>
<line x1="357.8" y1="92.4" x2="357.8" y2="95.3" stroke="#2a2a2a" stroke-width="0.9"/>
<line x1="369.4" y1="92.4" x2="369.4" y2="95.3" stroke="#2a2a2a" stroke-width="0.9"/>
<line x1="381" y1="92.4" x2="381" y2="95.3" stroke="#2a2a2a" stroke-width="0.9"/>
<text x="288.2" y="101.7" font-size="6" text-anchor="middle" textLength="9.2" lengthAdjust="spacingAndGlyphs">2mo</text>
<text x="299.8" y="101.7" font-size="6" text-anchor="middle" textLength="4.5" lengthAdjust="spacingAndGlyphs">1y</text>
<text x="311.4" y="101.7" font-size="6" text-anchor="middle" textLength="5.9" lengthAdjust="spacingAndGlyphs">2y</text>
<text x="323" y="101.7" font-size="6" text-anchor="middle" textLength="9.2" lengthAdjust="spacingAndGlyphs">2mo</text>
<text x="334.6" y="101.7" font-size="6" text-anchor="middle" textLength="4.5" lengthAdjust="spacingAndGlyphs">1y</text>
<text x="346.2" y="101.7" font-size="6" text-anchor="middle" textLength="5.9" lengthAdjust="spacingAndGlyphs">2y</text>
<text x="357.8" y="101.7" font-size="6" text-anchor="middle" textLength="9.2" lengthAdjust="spacingAndGlyphs">2mo</text>
<text x="369.4" y="101.7" font-size="6" text-anchor="middle" textLength="4.5" lengthAdjust="spacingAndGlyphs">1y</text>
<text x="381" y="101.7" font-size="6" text-anchor="middle" textLength="5.9" lengthAdjust="spacingAndGlyphs">2y</text>
<line x1="284.4" y1="103.6" x2="311.7" y2="103.6" stroke="#4a4a4a" stroke-width="0.75"/>
<text x="298.05" y="109" font-size="5.3" text-anchor="middle" textLength="18.1" lengthAdjust="spacingAndGlyphs">WT SPF</text>
<line x1="317.6" y1="103.6" x2="349.2" y2="103.6" stroke="#4a4a4a" stroke-width="0.75"/>
<text x="333.4" y="109" font-size="5.3" text-anchor="middle" textLength="32.3" lengthAdjust="spacingAndGlyphs">IL-1R1KO SPF</text>
<line x1="353.4" y1="103.6" x2="383.4" y2="103.6" stroke="#4a4a4a" stroke-width="0.75"/>
<text x="368.4" y="109" font-size="5.3" text-anchor="middle" textLength="14" lengthAdjust="spacingAndGlyphs">WT GF</text>
<text x="381" y="90.2" font-size="4.2" text-anchor="middle" textLength="7.4" lengthAdjust="spacingAndGlyphs">N.A.</text>
<line x1="301.2" y1="27" x2="370.8" y2="27" stroke="#bababa" stroke-width="1.05"/>
<path d="M301.8 23.85V25.95M300.89 24.38L302.71 25.42M300.89 25.42L302.71 24.38" stroke="#333" stroke-width="0.7" fill="none"/>
<line x1="287.9" y1="46.4" x2="312.5" y2="46.4" stroke="#bababa" stroke-width="1.05"/>
<path d="M288.5 43.25V45.35M287.59 43.77L289.41 44.82M287.59 44.82L289.41 43.77" stroke="#333" stroke-width="0.7" fill="none"/>
<path d="M291.55 43.25V45.35M290.64 43.77L292.46 44.82M290.64 44.82L292.46 43.77" stroke="#333" stroke-width="0.7" fill="none"/>
<path d="M294.6 43.25V45.35M293.69 43.77L295.51 44.82M293.69 44.82L295.51 43.77" stroke="#333" stroke-width="0.7" fill="none"/>
<path d="M297.65 43.25V45.35M296.74 43.77L298.56 44.82M296.74 44.82L298.56 43.77" stroke="#333" stroke-width="0.7" fill="none"/>
<line x1="287.9" y1="51.2" x2="299.9" y2="51.2" stroke="#bababa" stroke-width="1.05"/>
<path d="M288.5 48.05V50.15M287.59 48.58L289.41 49.62M287.59 49.62L289.41 48.58" stroke="#333" stroke-width="0.7" fill="none"/>
<path d="M291.55 48.05V50.15M290.64 48.58L292.46 49.62M290.64 49.62L292.46 48.58" stroke="#333" stroke-width="0.7" fill="none"/>
<text x="337.1" y="14.6" font-size="7.3" text-anchor="middle" textLength="51.2" lengthAdjust="spacingAndGlyphs">IL-1a PB (lysate)</text>
<line x1="442.6" y1="35.6" x2="442.6" y2="92.4" stroke="#aaaaaa" stroke-width="0.85" stroke-dasharray="1 1.3"/>
<line x1="477.4" y1="35.6" x2="477.4" y2="92.4" stroke="#aaaaaa" stroke-width="0.85" stroke-dasharray="1 1.3"/>
<rect x="409.8" y="88.79" width="7.6" height="3.61" fill="#F4C3C9"/>
<rect x="421.4" y="87.68" width="7.6" height="4.72" fill="#E66F5F"/>
<rect x="433" y="84.08" width="7.6" height="8.33" fill="#CF1530"/>
<rect x="444.6" y="88.52" width="7.6" height="3.89" fill="#B4BCDB"/>
<rect x="456.2" y="89.07" width="7.6" height="3.33" fill="#7888BD"/>
<rect x="467.8" y="87.13" width="7.6" height="5.27" fill="#1E5996"/>
<rect x="479.4" y="84.91" width="7.6" height="7.49" fill="#3DBB4C"/>
<rect x="491" y="81.72" width="7.6" height="10.68" fill="#0D6C4D"/>
<line x1="413.6" y1="88.79" x2="413.6" y2="85.19" stroke="#222" stroke-width="0.7"/>
<line x1="411.6" y1="85.19" x2="415.6" y2="85.19" stroke="#222" stroke-width="0.7"/>
<line x1="425.2" y1="87.68" x2="425.2" y2="82.97" stroke="#222" stroke-width="0.7"/>
<line x1="423.2" y1="82.97" x2="427.2" y2="82.97" stroke="#222" stroke-width="0.7"/>
<line x1="436.8" y1="84.08" x2="436.8" y2="79.08" stroke="#222" stroke-width="0.7"/>
<line x1="434.8" y1="79.08" x2="438.8" y2="79.08" stroke="#222" stroke-width="0.7"/>
<line x1="448.4" y1="88.52" x2="448.4" y2="87.41" stroke="#222" stroke-width="0.7"/>
<line x1="446.4" y1="87.41" x2="450.4" y2="87.41" stroke="#222" stroke-width="0.7"/>
<line x1="460" y1="89.07" x2="460" y2="86.85" stroke="#222" stroke-width="0.7"/>
<line x1="458" y1="86.85" x2="462" y2="86.85" stroke="#222" stroke-width="0.7"/>
<line x1="471.6" y1="87.13" x2="471.6" y2="85.19" stroke="#222" stroke-width="0.7"/>
<line x1="469.6" y1="85.19" x2="473.6" y2="85.19" stroke="#222" stroke-width="0.7"/>
<line x1="483.2" y1="84.91" x2="483.2" y2="81.3" stroke="#222" stroke-width="0.7"/>
<line x1="481.2" y1="81.3" x2="485.2" y2="81.3" stroke="#222" stroke-width="0.7"/>
<line x1="494.8" y1="81.72" x2="494.8" y2="73.53" stroke="#222" stroke-width="0.7"/>
<line x1="492.8" y1="73.53" x2="496.8" y2="73.53" stroke="#222" stroke-width="0.7"/>
<circle cx="415.53" cy="90.72" r="0.85" fill="#111"/>
<circle cx="411.1" cy="89.94" r="0.85" fill="#111"/>
<circle cx="412.27" cy="89.85" r="0.85" fill="#111"/>
<circle cx="410.73" cy="89.54" r="0.85" fill="#111"/>
<circle cx="415.06" cy="89.41" r="0.85" fill="#111"/>
<circle cx="411.25" cy="89.18" r="0.85" fill="#111"/>
<circle cx="413.76" cy="88.79" r="0.85" fill="#111"/>
<circle cx="411.13" cy="88.19" r="0.85" fill="#111"/>
<circle cx="413.48" cy="87.89" r="0.85" fill="#111"/>
<circle cx="414.73" cy="87.82" r="0.85" fill="#111"/>
<circle cx="413.81" cy="87.65" r="0.85" fill="#111"/>
<circle cx="413.33" cy="87.12" r="0.85" fill="#111"/>
<circle cx="413.51" cy="86.44" r="0.85" fill="#111"/>
<circle cx="413.22" cy="86.17" r="0.85" fill="#111"/>
<circle cx="414.18" cy="85.95" r="0.85" fill="#111"/>
<circle cx="411.14" cy="85.9" r="0.85" fill="#111"/>
<circle cx="413.45" cy="84.79" r="0.85" fill="#111"/>
<circle cx="412" cy="84.07" r="0.85" fill="#111"/>
<circle cx="415.82" cy="83.68" r="0.85" fill="#111"/>
<circle cx="416.27" cy="83.6" r="0.85" fill="#111"/>
<circle cx="410.96" cy="83.46" r="0.85" fill="#111"/>
<circle cx="411.43" cy="82.44" r="0.85" fill="#111"/>
<circle cx="414.84" cy="82.32" r="0.85" fill="#111"/>
<circle cx="414.03" cy="82.25" r="0.85" fill="#111"/>
<circle cx="424.39" cy="89.49" r="0.85" fill="#111"/>
<circle cx="424.5" cy="88.81" r="0.85" fill="#111"/>
<circle cx="428" cy="88.14" r="0.85" fill="#111"/>
<circle cx="425.48" cy="87.81" r="0.85" fill="#111"/>
<circle cx="426.86" cy="87.71" r="0.85" fill="#111"/>
<circle cx="424.07" cy="87.7" r="0.85" fill="#111"/>
<circle cx="427.72" cy="87.48" r="0.85" fill="#111"/>
<circle cx="425.89" cy="86.82" r="0.85" fill="#111"/>
<circle cx="423.66" cy="86.82" r="0.85" fill="#111"/>
<circle cx="427.84" cy="86.34" r="0.85" fill="#111"/>
<circle cx="425.01" cy="85.9" r="0.85" fill="#111"/>
<circle cx="424.22" cy="85.6" r="0.85" fill="#111"/>
<circle cx="423.76" cy="84.72" r="0.85" fill="#111"/>
<circle cx="422.79" cy="84.61" r="0.85" fill="#111"/>
<circle cx="423.38" cy="82.68" r="0.85" fill="#111"/>
<circle cx="426.37" cy="82.62" r="0.85" fill="#111"/>
<circle cx="423.02" cy="82.12" r="0.85" fill="#111"/>
<circle cx="423.73" cy="81.3" r="0.85" fill="#111"/>
<circle cx="424.88" cy="80.5" r="0.85" fill="#111"/>
<circle cx="425.47" cy="76.78" r="0.85" fill="#111"/>
<circle cx="436.77" cy="89.6" r="0.85" fill="#111"/>
<circle cx="436.97" cy="88.27" r="0.85" fill="#111"/>
<circle cx="435.56" cy="88.03" r="0.85" fill="#111"/>
<circle cx="439.67" cy="87.22" r="0.85" fill="#111"/>
<circle cx="435.27" cy="87.02" r="0.85" fill="#111"/>
<circle cx="437.9" cy="86.29" r="0.85" fill="#111"/>
<circle cx="437.69" cy="85.62" r="0.85" fill="#111"/>
<circle cx="433.76" cy="85.37" r="0.85" fill="#111"/>
<circle cx="439.82" cy="85.24" r="0.85" fill="#111"/>
<circle cx="435.19" cy="84.88" r="0.85" fill="#111"/>
<circle cx="439.77" cy="84.05" r="0.85" fill="#111"/>
<circle cx="439.4" cy="83.97" r="0.85" fill="#111"/>
<circle cx="439.24" cy="83.86" r="0.85" fill="#111"/>
<circle cx="438.96" cy="83.06" r="0.85" fill="#111"/>
<circle cx="436.18" cy="81.83" r="0.85" fill="#111"/>
<circle cx="436.47" cy="81.82" r="0.85" fill="#111"/>
<circle cx="435.86" cy="81.32" r="0.85" fill="#111"/>
<circle cx="439.45" cy="81.31" r="0.85" fill="#111"/>
<circle cx="433.94" cy="80.86" r="0.85" fill="#111"/>
<circle cx="434.59" cy="79.75" r="0.85" fill="#111"/>
<circle cx="439.57" cy="78.88" r="0.85" fill="#111"/>
<circle cx="438.66" cy="78.55" r="0.85" fill="#111"/>
<circle cx="438.05" cy="65.2" r="0.85" fill="#111"/>
<circle cx="439.64" cy="64.65" r="0.85" fill="#111"/>
<circle cx="447.72" cy="91.41" r="0.85" fill="#111"/>
<circle cx="448.52" cy="89.26" r="0.85" fill="#111"/>
<circle cx="446.09" cy="89.15" r="0.85" fill="#111"/>
<circle cx="446.71" cy="89" r="0.85" fill="#111"/>
<circle cx="446.79" cy="88.4" r="0.85" fill="#111"/>
<circle cx="446.91" cy="87.99" r="0.85" fill="#111"/>
<circle cx="450.59" cy="87.81" r="0.85" fill="#111"/>
<circle cx="446.86" cy="87.47" r="0.85" fill="#111"/>
<circle cx="459.3" cy="90.94" r="0.85" fill="#111"/>
<circle cx="460.62" cy="89.97" r="0.85" fill="#111"/>
<circle cx="459.84" cy="89.8" r="0.85" fill="#111"/>
<circle cx="461.55" cy="88.58" r="0.85" fill="#111"/>
<circle cx="459.08" cy="88.38" r="0.85" fill="#111"/>
<circle cx="459.99" cy="88.37" r="0.85" fill="#111"/>
<circle cx="462" cy="88.07" r="0.85" fill="#111"/>
<circle cx="458.85" cy="87" r="0.85" fill="#111"/>
<circle cx="472.14" cy="89.92" r="0.85" fill="#111"/>
<circle cx="474.06" cy="88.7" r="0.85" fill="#111"/>
<circle cx="470.44" cy="86.79" r="0.85" fill="#111"/>
<circle cx="471.01" cy="86.24" r="0.85" fill="#111"/>
<circle cx="471.45" cy="86" r="0.85" fill="#111"/>
<circle cx="472.24" cy="85.71" r="0.85" fill="#111"/>
<circle cx="470.69" cy="84.37" r="0.85" fill="#111"/>
<circle cx="470.7" cy="83.88" r="0.85" fill="#111"/>
<circle cx="473.75" cy="83.88" r="0.85" fill="#111"/>
<circle cx="471.94" cy="83.49" r="0.85" fill="#111"/>
<circle cx="481.37" cy="86.2" r="0.85" fill="#111"/>
<circle cx="484.98" cy="86.12" r="0.85" fill="#111"/>
<circle cx="480.86" cy="85.01" r="0.85" fill="#111"/>
<circle cx="485.32" cy="83.39" r="0.85" fill="#111"/>
<circle cx="496.75" cy="85.03" r="0.85" fill="#111"/>
<circle cx="493.23" cy="82.09" r="0.85" fill="#111"/>
<circle cx="495.36" cy="80.53" r="0.85" fill="#111"/>
<circle cx="493.01" cy="76.87" r="0.85" fill="#111"/>
<circle cx="495.03" cy="73.65" r="0.85" fill="#111"/>
<line x1="403.5" y1="36.4" x2="403.5" y2="92.9" stroke="#2a2a2a" stroke-width="1.1"/>
<line x1="403" y1="92.4" x2="515.3" y2="92.4" stroke="#2a2a2a" stroke-width="1.1"/>
<line x1="400.7" y1="92.4" x2="403.5" y2="92.4" stroke="#2a2a2a" stroke-width="1.1"/>
<text x="399.1" y="94.56" font-size="6" text-anchor="end" textLength="2.9" lengthAdjust="spacingAndGlyphs">0</text>
<line x1="400.7" y1="78.53" x2="403.5" y2="78.53" stroke="#2a2a2a" stroke-width="1.1"/>
<text x="399.1" y="80.69" font-size="6" text-anchor="end" textLength="5.8" lengthAdjust="spacingAndGlyphs">50</text>
<line x1="400.7" y1="64.65" x2="403.5" y2="64.65" stroke="#2a2a2a" stroke-width="1.1"/>
<text x="399.1" y="66.81" font-size="6" text-anchor="end" textLength="8.7" lengthAdjust="spacingAndGlyphs">100</text>
<line x1="400.7" y1="50.77" x2="403.5" y2="50.77" stroke="#2a2a2a" stroke-width="1.1"/>
<text x="399.1" y="52.94" font-size="6" text-anchor="end" textLength="8.7" lengthAdjust="spacingAndGlyphs">150</text>
<line x1="400.7" y1="36.9" x2="403.5" y2="36.9" stroke="#2a2a2a" stroke-width="1.1"/>
<text x="399.1" y="39.06" font-size="6" text-anchor="end" textLength="8.7" lengthAdjust="spacingAndGlyphs">200</text>
<line x1="413.6" y1="92.4" x2="413.6" y2="95.3" stroke="#2a2a2a" stroke-width="0.9"/>
<line x1="425.2" y1="92.4" x2="425.2" y2="95.3" stroke="#2a2a2a" stroke-width="0.9"/>
<line x1="436.8" y1="92.4" x2="436.8" y2="95.3" stroke="#2a2a2a" stroke-width="0.9"/>
<line x1="448.4" y1="92.4" x2="448.4" y2="95.3" stroke="#2a2a2a" stroke-width="0.9"/>
<line x1="460" y1="92.4" x2="460" y2="95.3" stroke="#2a2a2a" stroke-width="0.9"/>
<line x1="471.6" y1="92.4" x2="471.6" y2="95.3" stroke="#2a2a2a" stroke-width="0.9"/>
<line x1="483.2" y1="92.4" x2="483.2" y2="95.3" stroke="#2a2a2a" stroke-width="0.9"/>
<line x1="494.8" y1="92.4" x2="494.8" y2="95.3" stroke="#2a2a2a" stroke-width="0.9"/>
<line x1="506.4" y1="92.4" x2="506.4" y2="95.3" stroke="#2a2a2a" stroke-width="0.9"/>
<text x="413.6" y="101.7" font-size="6" text-anchor="middle" textLength="9.2" lengthAdjust="spacingAndGlyphs">2mo</text>
<text x="425.2" y="101.7" font-size="6" text-anchor="middle" textLength="4.5" lengthAdjust="spacingAndGlyphs">1y</text>
<text x="436.8" y="101.7" font-size="6" text-anchor="middle" textLength="5.9" lengthAdjust="spacingAndGlyphs">2y</text>
<text x="448.4" y="101.7" font-size="6" text-anchor="middle" textLength="9.2" lengthAdjust="spacingAndGlyphs">2mo</text>
<text x="460" y="101.7" font-size="6" text-anchor="middle" textLength="4.5" lengthAdjust="spacingAndGlyphs">1y</text>
<text x="471.6" y="101.7" font-size="6" text-anchor="middle" textLength="5.9" lengthAdjust="spacingAndGlyphs">2y</text>
<text x="483.2" y="101.7" font-size="6" text-anchor="middle" textLength="9.2" lengthAdjust="spacingAndGlyphs">2mo</text>
<text x="494.8" y="101.7" font-size="6" text-anchor="middle" textLength="4.5" lengthAdjust="spacingAndGlyphs">1y</text>
<text x="506.4" y="101.7" font-size="6" text-anchor="middle" textLength="5.9" lengthAdjust="spacingAndGlyphs">2y</text>
<line x1="409.8" y1="103.6" x2="437.1" y2="103.6" stroke="#4a4a4a" stroke-width="0.75"/>
<text x="423.45" y="109" font-size="5.3" text-anchor="middle" textLength="18.1" lengthAdjust="spacingAndGlyphs">WT SPF</text>
<line x1="443" y1="103.6" x2="474.6" y2="103.6" stroke="#4a4a4a" stroke-width="0.75"/>
<text x="458.8" y="109" font-size="5.3" text-anchor="middle" textLength="32.3" lengthAdjust="spacingAndGlyphs">IL-1R1KO SPF</text>
<line x1="478.8" y1="103.6" x2="508.8" y2="103.6" stroke="#4a4a4a" stroke-width="0.75"/>
<text x="493.8" y="109" font-size="5.3" text-anchor="middle" textLength="14" lengthAdjust="spacingAndGlyphs">WT GF</text>
<text x="506.4" y="90.2" font-size="4.2" text-anchor="middle" textLength="7.4" lengthAdjust="spacingAndGlyphs">N.A.</text>
<line x1="412.9" y1="46.4" x2="437.4" y2="46.4" stroke="#bababa" stroke-width="1.05"/>
<path d="M413.5 43.25V45.35M412.59 43.77L414.41 44.82M412.59 44.82L414.41 43.77" stroke="#333" stroke-width="0.7" fill="none"/>
<path d="M416.55 43.25V45.35M415.64 43.77L417.46 44.82M415.64 44.82L417.46 43.77" stroke="#333" stroke-width="0.7" fill="none"/>
<line x1="412.9" y1="51.2" x2="424.5" y2="51.2" stroke="#bababa" stroke-width="1.05"/>
<path d="M413.5 48.05V50.15M412.59 48.58L414.41 49.62M412.59 49.62L414.41 48.58" stroke="#333" stroke-width="0.7" fill="none"/>
<text x="460.6" y="14.6" font-size="7.3" text-anchor="middle" textLength="54.4" lengthAdjust="spacingAndGlyphs">IL-1b PB (lysate)</text>
<text x="265" y="126.5" font-size="8" text-anchor="middle" textLength="92.6" lengthAdjust="spacingAndGlyphs">Peripheral blood cell counts</text>
<line x1="80.7" y1="148.8" x2="80.7" y2="205.9" stroke="#aaaaaa" stroke-width="0.85" stroke-dasharray="1 1.3"/>
<line x1="126.24" y1="148.8" x2="126.24" y2="205.9" stroke="#aaaaaa" stroke-width="0.85" stroke-dasharray="1 1.3"/>
<rect x="37.75" y="166.66" width="10" height="39.24" fill="#EDB3A6"/>
<rect x="52.93" y="168.17" width="10" height="37.73" fill="#DC6456"/>
<rect x="68.11" y="169.68" width="10" height="36.22" fill="#C8102E"/>
<rect x="83.29" y="167.03" width="10" height="38.87" fill="#AFB5D5"/>
<rect x="98.47" y="168.54" width="10" height="37.36" fill="#7483B1"/>
<rect x="113.65" y="173.83" width="10" height="32.07" fill="#1B4F8C"/>
<rect x="128.83" y="167.03" width="10" height="38.87" fill="#3DB54B"/>
<rect x="144.01" y="165.53" width="10" height="40.37" fill="#0B6B4C"/>
<line x1="42.75" y1="166.66" x2="42.75" y2="164.77" stroke="#151515" stroke-width="0.9"/>
<line x1="40.15" y1="164.77" x2="45.35" y2="164.77" stroke="#151515" stroke-width="0.9"/>
<line x1="57.93" y1="168.17" x2="57.93" y2="164.77" stroke="#151515" stroke-width="0.9"/>
<line x1="55.33" y1="164.77" x2="60.53" y2="164.77" stroke="#151515" stroke-width="0.9"/>
<line x1="73.11" y1="169.68" x2="73.11" y2="167.03" stroke="#151515" stroke-width="0.9"/>
<line x1="70.51" y1="167.03" x2="75.71" y2="167.03" stroke="#151515" stroke-width="0.9"/>
<line x1="88.29" y1="167.03" x2="88.29" y2="164.77" stroke="#151515" stroke-width="0.9"/>
<line x1="85.69" y1="164.77" x2="90.89" y2="164.77" stroke="#151515" stroke-width="0.9"/>
<line x1="103.47" y1="168.54" x2="103.47" y2="166.66" stroke="#151515" stroke-width="0.9"/>
<line x1="100.87" y1="166.66" x2="106.07" y2="166.66" stroke="#151515" stroke-width="0.9"/>
<line x1="118.65" y1="173.83" x2="118.65" y2="167.79" stroke="#151515" stroke-width="0.9"/>
<line x1="116.05" y1="167.79" x2="121.25" y2="167.79" stroke="#151515" stroke-width="0.9"/>
<line x1="133.83" y1="167.03" x2="133.83" y2="164.77" stroke="#151515" stroke-width="0.9"/>
<line x1="131.23" y1="164.77" x2="136.43" y2="164.77" stroke="#151515" stroke-width="0.9"/>
<line x1="149.01" y1="165.53" x2="149.01" y2="163.64" stroke="#151515" stroke-width="0.9"/>
<line x1="146.41" y1="163.64" x2="151.61" y2="163.64" stroke="#151515" stroke-width="0.9"/>
<circle cx="40.68" cy="169.45" r="1.22" fill="#b8b8b8" stroke="#222" stroke-width="0.6"/>
<circle cx="44.66" cy="169.06" r="1.22" fill="#b8b8b8" stroke="#222" stroke-width="0.6"/>
<circle cx="40.5" cy="168.6" r="1.22" fill="#b8b8b8" stroke="#222" stroke-width="0.6"/>
<circle cx="45.32" cy="168.43" r="1.22" fill="#b8b8b8" stroke="#222" stroke-width="0.6"/>
<circle cx="42.47" cy="167.94" r="1.22" fill="#b8b8b8" stroke="#222" stroke-width="0.6"/>
<circle cx="43.06" cy="167.72" r="1.22" fill="#b8b8b8" stroke="#222" stroke-width="0.6"/>
<circle cx="41.81" cy="167.7" r="1.22" fill="#b8b8b8" stroke="#222" stroke-width="0.6"/>
<circle cx="42.66" cy="167.19" r="1.22" fill="#b8b8b8" stroke="#222" stroke-width="0.6"/>
<circle cx="40.87" cy="166.84" r="1.22" fill="#b8b8b8" stroke="#222" stroke-width="0.6"/>
<circle cx="39.97" cy="166.75" r="1.22" fill="#b8b8b8" stroke="#222" stroke-width="0.6"/>
<circle cx="44.95" cy="166.46" r="1.22" fill="#b8b8b8" stroke="#222" stroke-width="0.6"/>
<circle cx="41.16" cy="166.1" r="1.22" fill="#b8b8b8" stroke="#222" stroke-width="0.6"/>
<circle cx="44.43" cy="166.03" r="1.22" fill="#b8b8b8" stroke="#222" stroke-width="0.6"/>
<circle cx="41" cy="165.49" r="1.22" fill="#b8b8b8" stroke="#222" stroke-width="0.6"/>
<circle cx="60.32" cy="179.61" r="1.22" fill="#b8b8b8" stroke="#222" stroke-width="0.6"/>
<circle cx="60.68" cy="179.42" r="1.22" fill="#b8b8b8" stroke="#222" stroke-width="0.6"/>
<circle cx="57.37" cy="178.16" r="1.22" fill="#b8b8b8" stroke="#222" stroke-width="0.6"/>
<circle cx="60.86" cy="174.48" r="1.22" fill="#b8b8b8" stroke="#222" stroke-width="0.6"/>
<circle cx="60.7" cy="174.09" r="1.22" fill="#b8b8b8" stroke="#222" stroke-width="0.6"/>
<circle cx="58.47" cy="173.81" r="1.22" fill="#b8b8b8" stroke="#222" stroke-width="0.6"/>
<circle cx="60.23" cy="172.39" r="1.22" fill="#b8b8b8" stroke="#222" stroke-width="0.6"/>
<circle cx="57.88" cy="172.1" r="1.22" fill="#b8b8b8" stroke="#222" stroke-width="0.6"/>
<circle cx="57.18" cy="171.04" r="1.22" fill="#b8b8b8" stroke="#222" stroke-width="0.6"/>
<circle cx="56.41" cy="170.88" r="1.22" fill="#b8b8b8" stroke="#222" stroke-width="0.6"/>
<circle cx="60.19" cy="170.11" r="1.22" fill="#b8b8b8" stroke="#222" stroke-width="0.6"/>
<circle cx="55.9" cy="169.89" r="1.22" fill="#b8b8b8" stroke="#222" stroke-width="0.6"/>
<circle cx="55.35" cy="168.06" r="1.22" fill="#b8b8b8" stroke="#222" stroke-width="0.6"/>
<circle cx="59.76" cy="167.5" r="1.22" fill="#b8b8b8" stroke="#222" stroke-width="0.6"/>
<circle cx="59.57" cy="166.96" r="1.22" fill="#b8b8b8" stroke="#222" stroke-width="0.6"/>
<circle cx="57.83" cy="166.78" r="1.22" fill="#b8b8b8" stroke="#222" stroke-width="0.6"/>
<circle cx="59.95" cy="166.64" r="1.22" fill="#b8b8b8" stroke="#222" stroke-width="0.6"/>
<circle cx="55.24" cy="166.02" r="1.22" fill="#b8b8b8" stroke="#222" stroke-width="0.6"/>
<circle cx="56.48" cy="165.34" r="1.22" fill="#b8b8b8" stroke="#222" stroke-width="0.6"/>
<circle cx="56.67" cy="165.25" r="1.22" fill="#b8b8b8" stroke="#222" stroke-width="0.6"/>
<circle cx="57.45" cy="163.88" r="1.22" fill="#b8b8b8" stroke="#222" stroke-width="0.6"/>
<circle cx="55.95" cy="163.22" r="1.22" fill="#b8b8b8" stroke="#222" stroke-width="0.6"/>
<circle cx="55.35" cy="158.73" r="1.22" fill="#b8b8b8" stroke="#222" stroke-width="0.6"/>
<circle cx="75.31" cy="177.3" r="1.22" fill="#b8b8b8" stroke="#222" stroke-width="0.6"/>
<circle cx="74.04" cy="176.49" r="1.22" fill="#b8b8b8" stroke="#222" stroke-width="0.6"/>
<circle cx="70.87" cy="176.05" r="1.22" fill="#b8b8b8" stroke="#222" stroke-width="0.6"/>
<circle cx="73.34" cy="175.95" r="1.22" fill="#b8b8b8" stroke="#222" stroke-width="0.6"/>
<circle cx="72.06" cy="175.9" r="1.22" fill="#b8b8b8" stroke="#222" stroke-width="0.6"/>
<circle cx="73.07" cy="174.65" r="1.22" fill="#b8b8b8" stroke="#222" stroke-width="0.6"/>
<circle cx="71.43" cy="172.86" r="1.22" fill="#b8b8b8" stroke="#222" stroke-width="0.6"/>
<circle cx="71.11" cy="171.35" r="1.22" fill="#b8b8b8" stroke="#222" stroke-width="0.6"/>
<circle cx="71.21" cy="170.99" r="1.22" fill="#b8b8b8" stroke="#222" stroke-width="0.6"/>
<circle cx="72.38" cy="170.26" r="1.22" fill="#b8b8b8" stroke="#222" stroke-width="0.6"/>
<circle cx="74.37" cy="169.86" r="1.22" fill="#b8b8b8" stroke="#222" stroke-width="0.6"/>
<circle cx="73.41" cy="169.58" r="1.22" fill="#b8b8b8" stroke="#222" stroke-width="0.6"/>
<circle cx="70.39" cy="169.47" r="1.22" fill="#b8b8b8" stroke="#222" stroke-width="0.6"/>
<circle cx="74.38" cy="168.85" r="1.22" fill="#b8b8b8" stroke="#222" stroke-width="0.6"/>
<circle cx="75.35" cy="168.61" r="1.22" fill="#b8b8b8" stroke="#222" stroke-width="0.6"/>
<circle cx="74.76" cy="168.17" r="1.22" fill="#b8b8b8" stroke="#222" stroke-width="0.6"/>
<circle cx="74.85" cy="167.92" r="1.22" fill="#b8b8b8" stroke="#222" stroke-width="0.6"/>
<circle cx="70.16" cy="167.79" r="1.22" fill="#b8b8b8" stroke="#222" stroke-width="0.6"/>
<circle cx="72.89" cy="167.7" r="1.22" fill="#b8b8b8" stroke="#222" stroke-width="0.6"/>
<circle cx="70.49" cy="167.08" r="1.22" fill="#b8b8b8" stroke="#222" stroke-width="0.6"/>
<circle cx="91.25" cy="168.64" r="1.22" fill="#b8b8b8" stroke="#222" stroke-width="0.6"/>
<circle cx="85.94" cy="168" r="1.22" fill="#b8b8b8" stroke="#222" stroke-width="0.6"/>
<circle cx="85.75" cy="167.96" r="1.22" fill="#b8b8b8" stroke="#222" stroke-width="0.6"/>
<circle cx="85.73" cy="167.62" r="1.22" fill="#b8b8b8" stroke="#222" stroke-width="0.6"/>
<circle cx="90.18" cy="167.62" r="1.22" fill="#b8b8b8" stroke="#222" stroke-width="0.6"/>
<circle cx="89.85" cy="167.4" r="1.22" fill="#b8b8b8" stroke="#222" stroke-width="0.6"/>
<circle cx="87.98" cy="167.38" r="1.22" fill="#b8b8b8" stroke="#222" stroke-width="0.6"/>
<circle cx="89.02" cy="167.02" r="1.22" fill="#b8b8b8" stroke="#222" stroke-width="0.6"/>
<circle cx="85.41" cy="166.71" r="1.22" fill="#b8b8b8" stroke="#222" stroke-width="0.6"/>
<circle cx="89.16" cy="166.5" r="1.22" fill="#b8b8b8" stroke="#222" stroke-width="0.6"/>
<circle cx="87.95" cy="165.8" r="1.22" fill="#b8b8b8" stroke="#222" stroke-width="0.6"/>
<circle cx="88.39" cy="164.92" r="1.22" fill="#b8b8b8" stroke="#222" stroke-width="0.6"/>
<circle cx="87.63" cy="164.9" r="1.22" fill="#b8b8b8" stroke="#222" stroke-width="0.6"/>
<circle cx="87.7" cy="164.67" r="1.22" fill="#b8b8b8" stroke="#222" stroke-width="0.6"/>
<circle cx="104.16" cy="173.46" r="1.22" fill="#b8b8b8" stroke="#222" stroke-width="0.6"/>
<circle cx="105.42" cy="171.98" r="1.22" fill="#b8b8b8" stroke="#222" stroke-width="0.6"/>
<circle cx="106.25" cy="171.96" r="1.22" fill="#b8b8b8" stroke="#222" stroke-width="0.6"/>
<circle cx="106.41" cy="170.92" r="1.22" fill="#b8b8b8" stroke="#222" stroke-width="0.6"/>
<circle cx="100.51" cy="170.7" r="1.22" fill="#b8b8b8" stroke="#222" stroke-width="0.6"/>
<circle cx="102.35" cy="170.11" r="1.22" fill="#b8b8b8" stroke="#222" stroke-width="0.6"/>
<circle cx="102.34" cy="169.9" r="1.22" fill="#b8b8b8" stroke="#222" stroke-width="0.6"/>
<circle cx="102.82" cy="169.56" r="1.22" fill="#b8b8b8" stroke="#222" stroke-width="0.6"/>
<circle cx="101.34" cy="169.06" r="1.22" fill="#b8b8b8" stroke="#222" stroke-width="0.6"/>
<circle cx="103.79" cy="168.83" r="1.22" fill="#b8b8b8" stroke="#222" stroke-width="0.6"/>
<circle cx="100.95" cy="168.67" r="1.22" fill="#b8b8b8" stroke="#222" stroke-width="0.6"/>
<circle cx="102.29" cy="168.55" r="1.22" fill="#b8b8b8" stroke="#222" stroke-width="0.6"/>
<circle cx="106.13" cy="168.05" r="1.22" fill="#b8b8b8" stroke="#222" stroke-width="0.6"/>
<circle cx="104.92" cy="167.65" r="1.22" fill="#b8b8b8" stroke="#222" stroke-width="0.6"/>
<circle cx="121.41" cy="184.83" r="1.22" fill="#b8b8b8" stroke="#222" stroke-width="0.6"/>
<circle cx="115.86" cy="183.19" r="1.22" fill="#b8b8b8" stroke="#222" stroke-width="0.6"/>
<circle cx="120.51" cy="181.85" r="1.22" fill="#b8b8b8" stroke="#222" stroke-width="0.6"/>
<circle cx="121.26" cy="180.2" r="1.22" fill="#b8b8b8" stroke="#222" stroke-width="0.6"/>
<circle cx="119.88" cy="179.9" r="1.22" fill="#b8b8b8" stroke="#222" stroke-width="0.6"/>
<circle cx="115.76" cy="179.2" r="1.22" fill="#b8b8b8" stroke="#222" stroke-width="0.6"/>
<circle cx="118.66" cy="178.89" r="1.22" fill="#b8b8b8" stroke="#222" stroke-width="0.6"/>
<circle cx="115.89" cy="178.13" r="1.22" fill="#b8b8b8" stroke="#222" stroke-width="0.6"/>
<circle cx="119.3" cy="177.43" r="1.22" fill="#b8b8b8" stroke="#222" stroke-width="0.6"/>
<circle cx="119.85" cy="177.38" r="1.22" fill="#b8b8b8" stroke="#222" stroke-width="0.6"/>
<circle cx="117.09" cy="171.99" r="1.22" fill="#b8b8b8" stroke="#222" stroke-width="0.6"/>
<circle cx="115.7" cy="171.74" r="1.22" fill="#b8b8b8" stroke="#222" stroke-width="0.6"/>
<circle cx="118.92" cy="167.86" r="1.22" fill="#b8b8b8" stroke="#222" stroke-width="0.6"/>
<circle cx="116.22" cy="167.65" r="1.22" fill="#b8b8b8" stroke="#222" stroke-width="0.6"/>
<circle cx="136.23" cy="169.47" r="1.22" fill="#b8b8b8" stroke="#222" stroke-width="0.6"/>
<circle cx="135.31" cy="168.99" r="1.22" fill="#b8b8b8" stroke="#222" stroke-width="0.6"/>
<circle cx="135.39" cy="168.81" r="1.22" fill="#b8b8b8" stroke="#222" stroke-width="0.6"/>
<circle cx="131.96" cy="167.48" r="1.22" fill="#b8b8b8" stroke="#222" stroke-width="0.6"/>
<circle cx="131.19" cy="167.39" r="1.22" fill="#b8b8b8" stroke="#222" stroke-width="0.6"/>
<circle cx="135.72" cy="166.93" r="1.22" fill="#b8b8b8" stroke="#222" stroke-width="0.6"/>
<circle cx="134.47" cy="166.86" r="1.22" fill="#b8b8b8" stroke="#222" stroke-width="0.6"/>
<circle cx="134.55" cy="165.57" r="1.22" fill="#b8b8b8" stroke="#222" stroke-width="0.6"/>
<circle cx="133.66" cy="165.51" r="1.22" fill="#b8b8b8" stroke="#222" stroke-width="0.6"/>
<circle cx="135.63" cy="165.37" r="1.22" fill="#b8b8b8" stroke="#222" stroke-width="0.6"/>
<circle cx="149.24" cy="167.98" r="1.22" fill="#b8b8b8" stroke="#222" stroke-width="0.6"/>
<circle cx="148.46" cy="167.83" r="1.22" fill="#b8b8b8" stroke="#222" stroke-width="0.6"/>
<circle cx="150.16" cy="166.84" r="1.22" fill="#b8b8b8" stroke="#222" stroke-width="0.6"/>
<circle cx="150.38" cy="166.84" r="1.22" fill="#b8b8b8" stroke="#222" stroke-width="0.6"/>
<circle cx="149.16" cy="166.7" r="1.22" fill="#b8b8b8" stroke="#222" stroke-width="0.6"/>
<circle cx="146.48" cy="166.66" r="1.22" fill="#b8b8b8" stroke="#222" stroke-width="0.6"/>
<circle cx="150.97" cy="164.84" r="1.22" fill="#b8b8b8" stroke="#222" stroke-width="0.6"/>
<circle cx="147.29" cy="164.83" r="1.22" fill="#b8b8b8" stroke="#222" stroke-width="0.6"/>
<circle cx="146.25" cy="164.29" r="1.22" fill="#b8b8b8" stroke="#222" stroke-width="0.6"/>
<circle cx="148.12" cy="163.6" r="1.22" fill="#b8b8b8" stroke="#222" stroke-width="0.6"/>
<line x1="32.4" y1="148.8" x2="32.4" y2="206.4" stroke="#2a2a2a" stroke-width="1.1"/>
<line x1="31.9" y1="205.9" x2="174.4" y2="205.9" stroke="#2a2a2a" stroke-width="1.1"/>
<line x1="29.6" y1="205.9" x2="32.4" y2="205.9" stroke="#2a2a2a" stroke-width="1.1"/>
<text x="27.9" y="208.17" font-size="6.3" text-anchor="end" textLength="3" lengthAdjust="spacingAndGlyphs">0</text>
<line x1="29.6" y1="187.03" x2="32.4" y2="187.03" stroke="#2a2a2a" stroke-width="1.1"/>
<text x="27.9" y="189.3" font-size="6.3" text-anchor="end" textLength="3" lengthAdjust="spacingAndGlyphs">5</text>
<line x1="29.6" y1="168.17" x2="32.4" y2="168.17" stroke="#2a2a2a" stroke-width="1.1"/>
<text x="27.9" y="170.43" font-size="6.3" text-anchor="end" textLength="6" lengthAdjust="spacingAndGlyphs">10</text>
<line x1="29.6" y1="149.3" x2="32.4" y2="149.3" stroke="#2a2a2a" stroke-width="1.1"/>
<text x="27.9" y="151.57" font-size="6.3" text-anchor="end" textLength="6" lengthAdjust="spacingAndGlyphs">15</text>
<line x1="42.75" y1="205.9" x2="42.75" y2="209" stroke="#2a2a2a" stroke-width="0.9"/>
<line x1="57.93" y1="205.9" x2="57.93" y2="209" stroke="#2a2a2a" stroke-width="0.9"/>
<line x1="73.11" y1="205.9" x2="73.11" y2="209" stroke="#2a2a2a" stroke-width="0.9"/>
<line x1="88.29" y1="205.9" x2="88.29" y2="209" stroke="#2a2a2a" stroke-width="0.9"/>
<line x1="103.47" y1="205.9" x2="103.47" y2="209" stroke="#2a2a2a" stroke-width="0.9"/>
<line x1="118.65" y1="205.9" x2="118.65" y2="209" stroke="#2a2a2a" stroke-width="0.9"/>
<line x1="133.83" y1="205.9" x2="133.83" y2="209" stroke="#2a2a2a" stroke-width="0.9"/>
<line x1="149.01" y1="205.9" x2="149.01" y2="209" stroke="#2a2a2a" stroke-width="0.9"/>
<line x1="164.19" y1="205.9" x2="164.19" y2="209" stroke="#2a2a2a" stroke-width="0.9"/>
<text x="42.75" y="217.7" font-size="6.7" text-anchor="middle" textLength="12.3" lengthAdjust="spacingAndGlyphs">2mo</text>
<text x="57.93" y="217.7" font-size="6.7" text-anchor="middle" textLength="6.4" lengthAdjust="spacingAndGlyphs">1y</text>
<text x="73.11" y="217.7" font-size="6.7" text-anchor="middle" textLength="6.9" lengthAdjust="spacingAndGlyphs">2y</text>
<text x="88.29" y="217.7" font-size="6.7" text-anchor="middle" textLength="12.3" lengthAdjust="spacingAndGlyphs">2mo</text>
<text x="103.47" y="217.7" font-size="6.7" text-anchor="middle" textLength="6.4" lengthAdjust="spacingAndGlyphs">1y</text>
<text x="118.65" y="217.7" font-size="6.7" text-anchor="middle" textLength="6.9" lengthAdjust="spacingAndGlyphs">2y</text>
<text x="133.83" y="217.7" font-size="6.7" text-anchor="middle" textLength="12.3" lengthAdjust="spacingAndGlyphs">2mo</text>
<text x="149.01" y="217.7" font-size="6.7" text-anchor="middle" textLength="6.4" lengthAdjust="spacingAndGlyphs">1y</text>
<text x="164.19" y="217.7" font-size="6.7" text-anchor="middle" textLength="6.9" lengthAdjust="spacingAndGlyphs">2y</text>
<line x1="38.8" y1="220.9" x2="78.1" y2="220.9" stroke="#c6c6c6" stroke-width="1.35"/>
<text x="58.45" y="228.7" font-size="6.7" text-anchor="middle" textLength="23.2" lengthAdjust="spacingAndGlyphs">WT SPF</text>
<line x1="82.2" y1="220.9" x2="123.8" y2="220.9" stroke="#c6c6c6" stroke-width="1.35"/>
<text x="103" y="228.7" font-size="6.7" text-anchor="middle" textLength="41.5" lengthAdjust="spacingAndGlyphs">IL-1R1KO SPF</text>
<line x1="129" y1="220.9" x2="169.4" y2="220.9" stroke="#c6c6c6" stroke-width="1.35"/>
<text x="149.2" y="228.7" font-size="6.7" text-anchor="middle" textLength="20.8" lengthAdjust="spacingAndGlyphs">WT GF</text>
<text x="164.19" y="203.5" font-size="4.6" text-anchor="middle" textLength="8.2" lengthAdjust="spacingAndGlyphs">N.A.</text>
<line x1="58" y1="138.9" x2="149.6" y2="138.9" stroke="#bababa" stroke-width="1.05"/>
<path d="M59.1 135.75V137.85M58.19 136.28L60.01 137.33M58.19 137.33L60.01 136.28" stroke="#333" stroke-width="0.7" fill="none"/>
<line x1="73" y1="143.3" x2="120.8" y2="143.3" stroke="#bababa" stroke-width="1.05"/>
<path d="M74.1 140.15V142.25M73.19 140.68L75.01 141.73M73.19 141.73L75.01 140.68" stroke="#333" stroke-width="0.7" fill="none"/>
<line x1="103.5" y1="146.9" x2="149.6" y2="146.9" stroke="#bababa" stroke-width="1.05"/>
<path d="M104.6 143.75V145.85M103.69 144.28L105.51 145.33M103.69 145.33L105.51 144.28" stroke="#333" stroke-width="0.7" fill="none"/>
<path d="M107.65 143.75V145.85M106.74 144.28L108.56 145.33M106.74 145.33L108.56 144.28" stroke="#333" stroke-width="0.7" fill="none"/>
<line x1="42.1" y1="152.5" x2="72.6" y2="152.5" stroke="#bababa" stroke-width="1.05"/>
<path d="M43.2 149.35V151.45M42.29 149.88L44.11 150.93M42.29 150.93L44.11 149.88" stroke="#333" stroke-width="0.7" fill="none"/>
<path d="M46.25 149.35V151.45M45.34 149.88L47.16 150.93M45.34 150.93L47.16 149.88" stroke="#333" stroke-width="0.7" fill="none"/>
<path d="M49.3 149.35V151.45M48.39 149.88L50.21 150.93M48.39 150.93L50.21 149.88" stroke="#333" stroke-width="0.7" fill="none"/>
<line x1="58" y1="156.7" x2="72.6" y2="156.7" stroke="#bababa" stroke-width="1.05"/>
<path d="M59.1 153.55V155.65M58.19 154.07L60.01 155.12M58.19 155.12L60.01 154.07" stroke="#333" stroke-width="0.7" fill="none"/>
<line x1="88" y1="152.5" x2="119.3" y2="152.5" stroke="#bababa" stroke-width="1.05"/>
<path d="M89.1 149.35V151.45M88.19 149.88L90.01 150.93M88.19 150.93L90.01 149.88" stroke="#333" stroke-width="0.7" fill="none"/>
<path d="M92.15 149.35V151.45M91.24 149.88L93.06 150.93M91.24 150.93L93.06 149.88" stroke="#333" stroke-width="0.7" fill="none"/>
<path d="M95.2 149.35V151.45M94.29 149.88L96.11 150.93M94.29 150.93L96.11 149.88" stroke="#333" stroke-width="0.7" fill="none"/>
<path d="M98.25 149.35V151.45M97.34 149.88L99.16 150.93M97.34 150.93L99.16 149.88" stroke="#333" stroke-width="0.7" fill="none"/>
<line x1="88" y1="156.7" x2="102" y2="156.7" stroke="#bababa" stroke-width="1.05"/>
<path d="M89.1 153.55V155.65M88.19 154.07L90.01 155.12M88.19 155.12L90.01 154.07" stroke="#333" stroke-width="0.7" fill="none"/>
<line x1="103.5" y1="156.7" x2="119" y2="156.7" stroke="#bababa" stroke-width="1.05"/>
<path d="M104.6 153.55V155.65M103.69 154.07L105.51 155.12M103.69 155.12L105.51 154.07" stroke="#333" stroke-width="0.7" fill="none"/>
<path d="M107.65 153.55V155.65M106.74 154.07L108.56 155.12M106.74 155.12L108.56 154.07" stroke="#333" stroke-width="0.7" fill="none"/>
<text x="16.5" y="177.75" font-size="8.8" text-anchor="middle" textLength="60.5" lengthAdjust="spacingAndGlyphs" transform="rotate(-90 16.5 177.75)">RBC (x10<tspan font-size="5" dy="-2.5">12</tspan><tspan dy="2.5"> cells/L)</tspan></text>
<line x1="250.4" y1="148.8" x2="250.4" y2="205.9" stroke="#aaaaaa" stroke-width="0.85" stroke-dasharray="1 1.3"/>
<line x1="295.94" y1="148.8" x2="295.94" y2="205.9" stroke="#aaaaaa" stroke-width="0.85" stroke-dasharray="1 1.3"/>
<rect x="207.45" y="166" width="10" height="39.9" fill="#EDB3A6"/>
<rect x="222.63" y="166.85" width="10" height="39.05" fill="#DC6456"/>
<rect x="237.81" y="169.96" width="10" height="35.94" fill="#C8102E"/>
<rect x="252.99" y="165.43" width="10" height="40.47" fill="#AFB5D5"/>
<rect x="268.17" y="167.98" width="10" height="37.92" fill="#7483B1"/>
<rect x="283.35" y="174.77" width="10" height="31.13" fill="#1B4F8C"/>
<rect x="298.53" y="164.02" width="10" height="41.88" fill="#3DB54B"/>
<rect x="313.71" y="163.59" width="10" height="42.31" fill="#0B6B4C"/>
<line x1="212.45" y1="166" x2="212.45" y2="164.3" stroke="#151515" stroke-width="0.9"/>
<line x1="209.85" y1="164.3" x2="215.05" y2="164.3" stroke="#151515" stroke-width="0.9"/>
<line x1="227.63" y1="166.85" x2="227.63" y2="163.45" stroke="#151515" stroke-width="0.9"/>
<line x1="225.03" y1="163.45" x2="230.23" y2="163.45" stroke="#151515" stroke-width="0.9"/>
<line x1="242.81" y1="169.96" x2="242.81" y2="166.28" stroke="#151515" stroke-width="0.9"/>
<line x1="240.21" y1="166.28" x2="245.41" y2="166.28" stroke="#151515" stroke-width="0.9"/>
<line x1="257.99" y1="165.43" x2="257.99" y2="163.17" stroke="#151515" stroke-width="0.9"/>
<line x1="255.39" y1="163.17" x2="260.59" y2="163.17" stroke="#151515" stroke-width="0.9"/>
<line x1="273.17" y1="167.98" x2="273.17" y2="165.71" stroke="#151515" stroke-width="0.9"/>
<line x1="270.57" y1="165.71" x2="275.77" y2="165.71" stroke="#151515" stroke-width="0.9"/>
<line x1="288.35" y1="174.77" x2="288.35" y2="168.54" stroke="#151515" stroke-width="0.9"/>
<line x1="285.75" y1="168.54" x2="290.95" y2="168.54" stroke="#151515" stroke-width="0.9"/>
<line x1="303.53" y1="164.02" x2="303.53" y2="161.19" stroke="#151515" stroke-width="0.9"/>
<line x1="300.93" y1="161.19" x2="306.13" y2="161.19" stroke="#151515" stroke-width="0.9"/>
<line x1="318.71" y1="163.59" x2="318.71" y2="162.04" stroke="#151515" stroke-width="0.9"/>
<line x1="316.11" y1="162.04" x2="321.31" y2="162.04" stroke="#151515" stroke-width="0.9"/>
<circle cx="213.64" cy="167.86" r="1.22" fill="#b8b8b8" stroke="#222" stroke-width="0.6"/>
<circle cx="213.12" cy="167.58" r="1.22" fill="#b8b8b8" stroke="#222" stroke-width="0.6"/>
<circle cx="211" cy="167.47" r="1.22" fill="#b8b8b8" stroke="#222" stroke-width="0.6"/>
<circle cx="215.19" cy="166.9" r="1.22" fill="#b8b8b8" stroke="#222" stroke-width="0.6"/>
<circle cx="211.32" cy="166.43" r="1.22" fill="#b8b8b8" stroke="#222" stroke-width="0.6"/>
<circle cx="214.14" cy="166.07" r="1.22" fill="#b8b8b8" stroke="#222" stroke-width="0.6"/>
<circle cx="215.18" cy="165.97" r="1.22" fill="#b8b8b8" stroke="#222" stroke-width="0.6"/>
<circle cx="213.36" cy="165.24" r="1.22" fill="#b8b8b8" stroke="#222" stroke-width="0.6"/>
<circle cx="210.3" cy="165.2" r="1.22" fill="#b8b8b8" stroke="#222" stroke-width="0.6"/>
<circle cx="214.4" cy="165.18" r="1.22" fill="#b8b8b8" stroke="#222" stroke-width="0.6"/>
<circle cx="213.46" cy="164.59" r="1.22" fill="#b8b8b8" stroke="#222" stroke-width="0.6"/>
<circle cx="210.56" cy="163.87" r="1.22" fill="#b8b8b8" stroke="#222" stroke-width="0.6"/>
<circle cx="209.74" cy="163.82" r="1.22" fill="#b8b8b8" stroke="#222" stroke-width="0.6"/>
<circle cx="212.64" cy="162.89" r="1.22" fill="#b8b8b8" stroke="#222" stroke-width="0.6"/>
<circle cx="229.71" cy="179.59" r="1.22" fill="#b8b8b8" stroke="#222" stroke-width="0.6"/>
<circle cx="227.62" cy="178.24" r="1.22" fill="#b8b8b8" stroke="#222" stroke-width="0.6"/>
<circle cx="227.77" cy="175.96" r="1.22" fill="#b8b8b8" stroke="#222" stroke-width="0.6"/>
<circle cx="228.14" cy="172.53" r="1.22" fill="#b8b8b8" stroke="#222" stroke-width="0.6"/>
<circle cx="230.58" cy="172.34" r="1.22" fill="#b8b8b8" stroke="#222" stroke-width="0.6"/>
<circle cx="229.09" cy="172.31" r="1.22" fill="#b8b8b8" stroke="#222" stroke-width="0.6"/>
<circle cx="227.47" cy="171.63" r="1.22" fill="#b8b8b8" stroke="#222" stroke-width="0.6"/>
<circle cx="228.99" cy="170.65" r="1.22" fill="#b8b8b8" stroke="#222" stroke-width="0.6"/>
<circle cx="228.49" cy="170.62" r="1.22" fill="#b8b8b8" stroke="#222" stroke-width="0.6"/>
<circle cx="226.75" cy="169.56" r="1.22" fill="#b8b8b8" stroke="#222" stroke-width="0.6"/>
<circle cx="229.34" cy="168.72" r="1.22" fill="#b8b8b8" stroke="#222" stroke-width="0.6"/>
<circle cx="229.55" cy="167.24" r="1.22" fill="#b8b8b8" stroke="#222" stroke-width="0.6"/>
<circle cx="228.28" cy="167.12" r="1.22" fill="#b8b8b8" stroke="#222" stroke-width="0.6"/>
<circle cx="230.29" cy="166.94" r="1.22" fill="#b8b8b8" stroke="#222" stroke-width="0.6"/>
<circle cx="224.74" cy="166.4" r="1.22" fill="#b8b8b8" stroke="#222" stroke-width="0.6"/>
<circle cx="227.63" cy="166.18" r="1.22" fill="#b8b8b8" stroke="#222" stroke-width="0.6"/>
<circle cx="228.44" cy="165.46" r="1.22" fill="#b8b8b8" stroke="#222" stroke-width="0.6"/>
<circle cx="226.67" cy="162.41" r="1.22" fill="#b8b8b8" stroke="#222" stroke-width="0.6"/>
<circle cx="225.66" cy="161.68" r="1.22" fill="#b8b8b8" stroke="#222" stroke-width="0.6"/>
<circle cx="228.78" cy="159.49" r="1.22" fill="#b8b8b8" stroke="#222" stroke-width="0.6"/>
<circle cx="227.24" cy="159.39" r="1.22" fill="#b8b8b8" stroke="#222" stroke-width="0.6"/>
<circle cx="226.24" cy="157.87" r="1.22" fill="#b8b8b8" stroke="#222" stroke-width="0.6"/>
<circle cx="244.41" cy="178.55" r="1.22" fill="#b8b8b8" stroke="#222" stroke-width="0.6"/>
<circle cx="239.83" cy="178" r="1.22" fill="#b8b8b8" stroke="#222" stroke-width="0.6"/>
<circle cx="243.6" cy="177.5" r="1.22" fill="#b8b8b8" stroke="#222" stroke-width="0.6"/>
<circle cx="245.72" cy="177.18" r="1.22" fill="#b8b8b8" stroke="#222" stroke-width="0.6"/>
<circle cx="244.89" cy="176.57" r="1.22" fill="#b8b8b8" stroke="#222" stroke-width="0.6"/>
<circle cx="241.21" cy="176.24" r="1.22" fill="#b8b8b8" stroke="#222" stroke-width="0.6"/>
<circle cx="243.02" cy="175.78" r="1.22" fill="#b8b8b8" stroke="#222" stroke-width="0.6"/>
<circle cx="240.65" cy="175.42" r="1.22" fill="#b8b8b8" stroke="#222" stroke-width="0.6"/>
<circle cx="241.86" cy="175.05" r="1.22" fill="#b8b8b8" stroke="#222" stroke-width="0.6"/>
<circle cx="244.99" cy="173.66" r="1.22" fill="#b8b8b8" stroke="#222" stroke-width="0.6"/>
<circle cx="244.72" cy="173.29" r="1.22" fill="#b8b8b8" stroke="#222" stroke-width="0.6"/>
<circle cx="239.86" cy="173.14" r="1.22" fill="#b8b8b8" stroke="#222" stroke-width="0.6"/>
<circle cx="242.09" cy="171.39" r="1.22" fill="#b8b8b8" stroke="#222" stroke-width="0.6"/>
<circle cx="243.65" cy="171.25" r="1.22" fill="#b8b8b8" stroke="#222" stroke-width="0.6"/>
<circle cx="240.86" cy="169.83" r="1.22" fill="#b8b8b8" stroke="#222" stroke-width="0.6"/>
<circle cx="244.63" cy="168.18" r="1.22" fill="#b8b8b8" stroke="#222" stroke-width="0.6"/>
<circle cx="245.17" cy="167.58" r="1.22" fill="#b8b8b8" stroke="#222" stroke-width="0.6"/>
<circle cx="243.12" cy="167.34" r="1.22" fill="#b8b8b8" stroke="#222" stroke-width="0.6"/>
<circle cx="241.98" cy="166.62" r="1.22" fill="#b8b8b8" stroke="#222" stroke-width="0.6"/>
<circle cx="244.9" cy="163.96" r="1.22" fill="#b8b8b8" stroke="#222" stroke-width="0.6"/>
<circle cx="255.12" cy="167.41" r="1.22" fill="#b8b8b8" stroke="#222" stroke-width="0.6"/>
<circle cx="260.68" cy="166.79" r="1.22" fill="#b8b8b8" stroke="#222" stroke-width="0.6"/>
<circle cx="259.11" cy="166.63" r="1.22" fill="#b8b8b8" stroke="#222" stroke-width="0.6"/>
<circle cx="259.83" cy="166.36" r="1.22" fill="#b8b8b8" stroke="#222" stroke-width="0.6"/>
<circle cx="259.94" cy="165.78" r="1.22" fill="#b8b8b8" stroke="#222" stroke-width="0.6"/>
<circle cx="255.58" cy="165.76" r="1.22" fill="#b8b8b8" stroke="#222" stroke-width="0.6"/>
<circle cx="255.39" cy="164.97" r="1.22" fill="#b8b8b8" stroke="#222" stroke-width="0.6"/>
<circle cx="256.06" cy="164.56" r="1.22" fill="#b8b8b8" stroke="#222" stroke-width="0.6"/>
<circle cx="258.02" cy="164.54" r="1.22" fill="#b8b8b8" stroke="#222" stroke-width="0.6"/>
<circle cx="260.62" cy="164.3" r="1.22" fill="#b8b8b8" stroke="#222" stroke-width="0.6"/>
<circle cx="260.45" cy="163.56" r="1.22" fill="#b8b8b8" stroke="#222" stroke-width="0.6"/>
<circle cx="257.46" cy="163.35" r="1.22" fill="#b8b8b8" stroke="#222" stroke-width="0.6"/>
<circle cx="258.72" cy="162.75" r="1.22" fill="#b8b8b8" stroke="#222" stroke-width="0.6"/>
<circle cx="259.43" cy="162.21" r="1.22" fill="#b8b8b8" stroke="#222" stroke-width="0.6"/>
<circle cx="270.41" cy="173.15" r="1.22" fill="#b8b8b8" stroke="#222" stroke-width="0.6"/>
<circle cx="275.87" cy="172.48" r="1.22" fill="#b8b8b8" stroke="#222" stroke-width="0.6"/>
<circle cx="273.25" cy="171.33" r="1.22" fill="#b8b8b8" stroke="#222" stroke-width="0.6"/>
<circle cx="271.48" cy="170.53" r="1.22" fill="#b8b8b8" stroke="#222" stroke-width="0.6"/>
<circle cx="270.94" cy="170.35" r="1.22" fill="#b8b8b8" stroke="#222" stroke-width="0.6"/>
<circle cx="271.6" cy="169.42" r="1.22" fill="#b8b8b8" stroke="#222" stroke-width="0.6"/>
<circle cx="272.03" cy="169.33" r="1.22" fill="#b8b8b8" stroke="#222" stroke-width="0.6"/>
<circle cx="271" cy="169.31" r="1.22" fill="#b8b8b8" stroke="#222" stroke-width="0.6"/>
<circle cx="270.46" cy="169.01" r="1.22" fill="#b8b8b8" stroke="#222" stroke-width="0.6"/>
<circle cx="276.14" cy="167.29" r="1.22" fill="#b8b8b8" stroke="#222" stroke-width="0.6"/>
<circle cx="275.09" cy="166.94" r="1.22" fill="#b8b8b8" stroke="#222" stroke-width="0.6"/>
<circle cx="270.85" cy="165.9" r="1.22" fill="#b8b8b8" stroke="#222" stroke-width="0.6"/>
<circle cx="273.05" cy="165.49" r="1.22" fill="#b8b8b8" stroke="#222" stroke-width="0.6"/>
<circle cx="274.98" cy="165.12" r="1.22" fill="#b8b8b8" stroke="#222" stroke-width="0.6"/>
<circle cx="288.69" cy="185.94" r="1.22" fill="#b8b8b8" stroke="#222" stroke-width="0.6"/>
<circle cx="286.4" cy="185.65" r="1.22" fill="#b8b8b8" stroke="#222" stroke-width="0.6"/>
<circle cx="287.79" cy="184.7" r="1.22" fill="#b8b8b8" stroke="#222" stroke-width="0.6"/>
<circle cx="290.86" cy="182.09" r="1.22" fill="#b8b8b8" stroke="#222" stroke-width="0.6"/>
<circle cx="288.69" cy="181.03" r="1.22" fill="#b8b8b8" stroke="#222" stroke-width="0.6"/>
<circle cx="290.29" cy="178.89" r="1.22" fill="#b8b8b8" stroke="#222" stroke-width="0.6"/>
<circle cx="286.92" cy="178.49" r="1.22" fill="#b8b8b8" stroke="#222" stroke-width="0.6"/>
<circle cx="290.56" cy="178.37" r="1.22" fill="#b8b8b8" stroke="#222" stroke-width="0.6"/>
<circle cx="290.05" cy="177.24" r="1.22" fill="#b8b8b8" stroke="#222" stroke-width="0.6"/>
<circle cx="286.7" cy="173.23" r="1.22" fill="#b8b8b8" stroke="#222" stroke-width="0.6"/>
<circle cx="288.53" cy="173.11" r="1.22" fill="#b8b8b8" stroke="#222" stroke-width="0.6"/>
<circle cx="289.44" cy="172.54" r="1.22" fill="#b8b8b8" stroke="#222" stroke-width="0.6"/>
<circle cx="288.79" cy="172.51" r="1.22" fill="#b8b8b8" stroke="#222" stroke-width="0.6"/>
<circle cx="288.96" cy="171.97" r="1.22" fill="#b8b8b8" stroke="#222" stroke-width="0.6"/>
<circle cx="286.79" cy="171.45" r="1.22" fill="#b8b8b8" stroke="#222" stroke-width="0.6"/>
<circle cx="288.67" cy="167.8" r="1.22" fill="#b8b8b8" stroke="#222" stroke-width="0.6"/>
<circle cx="302.1" cy="167.95" r="1.22" fill="#b8b8b8" stroke="#222" stroke-width="0.6"/>
<circle cx="300.58" cy="167.93" r="1.22" fill="#b8b8b8" stroke="#222" stroke-width="0.6"/>
<circle cx="303.18" cy="167.74" r="1.22" fill="#b8b8b8" stroke="#222" stroke-width="0.6"/>
<circle cx="305.38" cy="166.83" r="1.22" fill="#b8b8b8" stroke="#222" stroke-width="0.6"/>
<circle cx="301.48" cy="166.05" r="1.22" fill="#b8b8b8" stroke="#222" stroke-width="0.6"/>
<circle cx="306.17" cy="165.56" r="1.22" fill="#b8b8b8" stroke="#222" stroke-width="0.6"/>
<circle cx="303.58" cy="163.48" r="1.22" fill="#b8b8b8" stroke="#222" stroke-width="0.6"/>
<circle cx="301.49" cy="163.23" r="1.22" fill="#b8b8b8" stroke="#222" stroke-width="0.6"/>
<circle cx="301.13" cy="161.88" r="1.22" fill="#b8b8b8" stroke="#222" stroke-width="0.6"/>
<circle cx="302.75" cy="160.24" r="1.22" fill="#b8b8b8" stroke="#222" stroke-width="0.6"/>
<circle cx="318.29" cy="165.76" r="1.22" fill="#b8b8b8" stroke="#222" stroke-width="0.6"/>
<circle cx="320.1" cy="165.53" r="1.22" fill="#b8b8b8" stroke="#222" stroke-width="0.6"/>
<circle cx="317.1" cy="164.71" r="1.22" fill="#b8b8b8" stroke="#222" stroke-width="0.6"/>
<circle cx="320.53" cy="164.39" r="1.22" fill="#b8b8b8" stroke="#222" stroke-width="0.6"/>
<circle cx="318.16" cy="164.38" r="1.22" fill="#b8b8b8" stroke="#222" stroke-width="0.6"/>
<circle cx="315.96" cy="164.15" r="1.22" fill="#b8b8b8" stroke="#222" stroke-width="0.6"/>
<circle cx="317.77" cy="163.32" r="1.22" fill="#b8b8b8" stroke="#222" stroke-width="0.6"/>
<circle cx="319.07" cy="162.77" r="1.22" fill="#b8b8b8" stroke="#222" stroke-width="0.6"/>
<circle cx="316.59" cy="162.63" r="1.22" fill="#b8b8b8" stroke="#222" stroke-width="0.6"/>
<circle cx="321.14" cy="162.36" r="1.22" fill="#b8b8b8" stroke="#222" stroke-width="0.6"/>
<line x1="202.1" y1="148.8" x2="202.1" y2="206.4" stroke="#2a2a2a" stroke-width="1.1"/>
<line x1="201.6" y1="205.9" x2="344.1" y2="205.9" stroke="#2a2a2a" stroke-width="1.1"/>
<line x1="199.3" y1="205.9" x2="202.1" y2="205.9" stroke="#2a2a2a" stroke-width="1.1"/>
<text x="197.6" y="208.17" font-size="6.3" text-anchor="end" textLength="3" lengthAdjust="spacingAndGlyphs">0</text>
<line x1="199.3" y1="191.75" x2="202.1" y2="191.75" stroke="#2a2a2a" stroke-width="1.1"/>
<text x="197.6" y="194.02" font-size="6.3" text-anchor="end" textLength="6" lengthAdjust="spacingAndGlyphs">50</text>
<line x1="199.3" y1="177.6" x2="202.1" y2="177.6" stroke="#2a2a2a" stroke-width="1.1"/>
<text x="197.6" y="179.87" font-size="6.3" text-anchor="end" textLength="9" lengthAdjust="spacingAndGlyphs">100</text>
<line x1="199.3" y1="163.45" x2="202.1" y2="163.45" stroke="#2a2a2a" stroke-width="1.1"/>
<text x="197.6" y="165.72" font-size="6.3" text-anchor="end" textLength="9" lengthAdjust="spacingAndGlyphs">150</text>
<line x1="199.3" y1="149.3" x2="202.1" y2="149.3" stroke="#2a2a2a" stroke-width="1.1"/>
<text x="197.6" y="151.57" font-size="6.3" text-anchor="end" textLength="9" lengthAdjust="spacingAndGlyphs">200</text>
<line x1="212.45" y1="205.9" x2="212.45" y2="209" stroke="#2a2a2a" stroke-width="0.9"/>
<line x1="227.63" y1="205.9" x2="227.63" y2="209" stroke="#2a2a2a" stroke-width="0.9"/>
<line x1="242.81" y1="205.9" x2="242.81" y2="209" stroke="#2a2a2a" stroke-width="0.9"/>
<line x1="257.99" y1="205.9" x2="257.99" y2="209" stroke="#2a2a2a" stroke-width="0.9"/>
<line x1="273.17" y1="205.9" x2="273.17" y2="209" stroke="#2a2a2a" stroke-width="0.9"/>
<line x1="288.35" y1="205.9" x2="288.35" y2="209" stroke="#2a2a2a" stroke-width="0.9"/>
<line x1="303.53" y1="205.9" x2="303.53" y2="209" stroke="#2a2a2a" stroke-width="0.9"/>
<line x1="318.71" y1="205.9" x2="318.71" y2="209" stroke="#2a2a2a" stroke-width="0.9"/>
<line x1="333.89" y1="205.9" x2="333.89" y2="209" stroke="#2a2a2a" stroke-width="0.9"/>
<text x="212.45" y="217.7" font-size="6.7" text-anchor="middle" textLength="12.3" lengthAdjust="spacingAndGlyphs">2mo</text>
<text x="227.63" y="217.7" font-size="6.7" text-anchor="middle" textLength="6.4" lengthAdjust="spacingAndGlyphs">1y</text>
<text x="242.81" y="217.7" font-size="6.7" text-anchor="middle" textLength="6.9" lengthAdjust="spacingAndGlyphs">2y</text>
<text x="257.99" y="217.7" font-size="6.7" text-anchor="middle" textLength="12.3" lengthAdjust="spacingAndGlyphs">2mo</text>
<text x="273.17" y="217.7" font-size="6.7" text-anchor="middle" textLength="6.4" lengthAdjust="spacingAndGlyphs">1y</text>
<text x="288.35" y="217.7" font-size="6.7" text-anchor="middle" textLength="6.9" lengthAdjust="spacingAndGlyphs">2y</text>
<text x="303.53" y="217.7" font-size="6.7" text-anchor="middle" textLength="12.3" lengthAdjust="spacingAndGlyphs">2mo</text>
<text x="318.71" y="217.7" font-size="6.7" text-anchor="middle" textLength="6.4" lengthAdjust="spacingAndGlyphs">1y</text>
<text x="333.89" y="217.7" font-size="6.7" text-anchor="middle" textLength="6.9" lengthAdjust="spacingAndGlyphs">2y</text>
<line x1="208.5" y1="220.9" x2="247.8" y2="220.9" stroke="#c6c6c6" stroke-width="1.35"/>
<text x="228.15" y="228.7" font-size="6.7" text-anchor="middle" textLength="23.2" lengthAdjust="spacingAndGlyphs">WT SPF</text>
<line x1="251.9" y1="220.9" x2="293.5" y2="220.9" stroke="#c6c6c6" stroke-width="1.35"/>
<text x="272.7" y="228.7" font-size="6.7" text-anchor="middle" textLength="41.5" lengthAdjust="spacingAndGlyphs">IL-1R1KO SPF</text>
<line x1="298.7" y1="220.9" x2="339.1" y2="220.9" stroke="#c6c6c6" stroke-width="1.35"/>
<text x="318.9" y="228.7" font-size="6.7" text-anchor="middle" textLength="20.8" lengthAdjust="spacingAndGlyphs">WT GF</text>
<text x="333.89" y="203.5" font-size="4.6" text-anchor="middle" textLength="8.2" lengthAdjust="spacingAndGlyphs">N.A.</text>
<line x1="244.3" y1="138.1" x2="290.9" y2="138.1" stroke="#bababa" stroke-width="1.05"/>
<path d="M245.4 134.95V137.05M244.49 135.47L246.31 136.53M244.49 136.53L246.31 135.47" stroke="#333" stroke-width="0.7" fill="none"/>
<path d="M248.45 134.95V137.05M247.54 135.47L249.36 136.53M247.54 136.53L249.36 135.47" stroke="#333" stroke-width="0.7" fill="none"/>
<line x1="274.3" y1="142.2" x2="318.6" y2="142.2" stroke="#bababa" stroke-width="1.05"/>
<path d="M275.4 139.05V141.15M274.49 139.57L276.31 140.62M274.49 140.62L276.31 139.57" stroke="#333" stroke-width="0.7" fill="none"/>
<path d="M278.45 139.05V141.15M277.54 139.57L279.36 140.62M277.54 140.62L279.36 139.57" stroke="#333" stroke-width="0.7" fill="none"/>
<line x1="212" y1="147.8" x2="244.3" y2="147.8" stroke="#bababa" stroke-width="1.05"/>
<path d="M213.1 144.65V146.75M212.19 145.18L214.01 146.23M212.19 146.23L214.01 145.18" stroke="#333" stroke-width="0.7" fill="none"/>
<path d="M216.15 144.65V146.75M215.24 145.18L217.06 146.23M215.24 146.23L217.06 145.18" stroke="#333" stroke-width="0.7" fill="none"/>
<path d="M219.2 144.65V146.75M218.29 145.18L220.11 146.23M218.29 146.23L220.11 145.18" stroke="#333" stroke-width="0.7" fill="none"/>
<path d="M222.25 144.65V146.75M221.34 145.18L223.16 146.23M221.34 146.23L223.16 145.18" stroke="#333" stroke-width="0.7" fill="none"/>
<line x1="212" y1="152.4" x2="227" y2="152.4" stroke="#bababa" stroke-width="1.05"/>
<path d="M213.1 149.25V151.35M212.19 149.78L214.01 150.83M212.19 150.83L214.01 149.78" stroke="#333" stroke-width="0.7" fill="none"/>
<path d="M216.15 149.25V151.35M215.24 149.78L217.06 150.83M215.24 150.83L217.06 149.78" stroke="#333" stroke-width="0.7" fill="none"/>
<line x1="229.2" y1="152.4" x2="244.3" y2="152.4" stroke="#bababa" stroke-width="1.05"/>
<path d="M230.3 149.25V151.35M229.39 149.78L231.21 150.83M229.39 150.83L231.21 149.78" stroke="#333" stroke-width="0.7" fill="none"/>
<path d="M233.35 149.25V151.35M232.44 149.78L234.26 150.83M232.44 150.83L234.26 149.78" stroke="#333" stroke-width="0.7" fill="none"/>
<line x1="258.8" y1="147.8" x2="290.9" y2="147.8" stroke="#bababa" stroke-width="1.05"/>
<path d="M259.9 144.65V146.75M258.99 145.18L260.81 146.23M258.99 146.23L260.81 145.18" stroke="#333" stroke-width="0.7" fill="none"/>
<path d="M262.95 144.65V146.75M262.04 145.18L263.86 146.23M262.04 146.23L263.86 145.18" stroke="#333" stroke-width="0.7" fill="none"/>
<path d="M266 144.65V146.75M265.09 145.18L266.91 146.23M265.09 146.23L266.91 145.18" stroke="#333" stroke-width="0.7" fill="none"/>
<path d="M269.05 144.65V146.75M268.14 145.18L269.96 146.23M268.14 146.23L269.96 145.18" stroke="#333" stroke-width="0.7" fill="none"/>
<line x1="258.8" y1="152.4" x2="273.6" y2="152.4" stroke="#bababa" stroke-width="1.05"/>
<path d="M259.9 149.25V151.35M258.99 149.78L260.81 150.83M258.99 150.83L260.81 149.78" stroke="#333" stroke-width="0.7" fill="none"/>
<path d="M262.95 149.25V151.35M262.04 149.78L263.86 150.83M262.04 150.83L263.86 149.78" stroke="#333" stroke-width="0.7" fill="none"/>
<line x1="275.9" y1="152.4" x2="290.9" y2="152.4" stroke="#bababa" stroke-width="1.05"/>
<path d="M277 149.25V151.35M276.09 149.78L277.91 150.83M276.09 150.83L277.91 149.78" stroke="#333" stroke-width="0.7" fill="none"/>
<path d="M280.05 149.25V151.35M279.14 149.78L280.96 150.83M279.14 150.83L280.96 149.78" stroke="#333" stroke-width="0.7" fill="none"/>
<path d="M283.1 149.25V151.35M282.19 149.78L284.01 150.83M282.19 150.83L284.01 149.78" stroke="#333" stroke-width="0.7" fill="none"/>
<path d="M286.15 149.25V151.35M285.24 149.78L287.06 150.83M285.24 150.83L287.06 149.78" stroke="#333" stroke-width="0.7" fill="none"/>
<text x="184.8" y="177.5" font-size="8.8" text-anchor="middle" textLength="27.5" lengthAdjust="spacingAndGlyphs" transform="rotate(-90 184.8 177.5)">HGB g/L</text>
<line x1="424.55" y1="148.5" x2="424.55" y2="205.9" stroke="#aaaaaa" stroke-width="0.85" stroke-dasharray="1 1.3"/>
<line x1="470.09" y1="148.5" x2="470.09" y2="205.9" stroke="#aaaaaa" stroke-width="0.85" stroke-dasharray="1 1.3"/>
<rect x="381.6" y="186.63" width="10" height="19.27" fill="#EDB3A6"/>
<rect x="396.78" y="183.71" width="10" height="22.19" fill="#DC6456"/>
<rect x="411.96" y="175.03" width="10" height="30.87" fill="#C8102E"/>
<rect x="427.14" y="190.96" width="10" height="14.94" fill="#AFB5D5"/>
<rect x="442.32" y="184.56" width="10" height="21.34" fill="#7483B1"/>
<rect x="457.5" y="184.56" width="10" height="21.34" fill="#1B4F8C"/>
<rect x="472.68" y="196.23" width="10" height="9.67" fill="#3DB54B"/>
<rect x="487.86" y="193.31" width="10" height="12.59" fill="#0B6B4C"/>
<line x1="386.6" y1="186.63" x2="386.6" y2="185.27" stroke="#151515" stroke-width="0.9"/>
<line x1="384" y1="185.27" x2="389.2" y2="185.27" stroke="#151515" stroke-width="0.9"/>
<line x1="401.78" y1="183.71" x2="401.78" y2="178.87" stroke="#151515" stroke-width="0.9"/>
<line x1="399.18" y1="178.87" x2="404.38" y2="178.87" stroke="#151515" stroke-width="0.9"/>
<line x1="416.96" y1="175.03" x2="416.96" y2="166.78" stroke="#151515" stroke-width="0.9"/>
<line x1="414.36" y1="166.78" x2="419.56" y2="166.78" stroke="#151515" stroke-width="0.9"/>
<line x1="432.14" y1="190.96" x2="432.14" y2="187.12" stroke="#151515" stroke-width="0.9"/>
<line x1="429.54" y1="187.12" x2="434.74" y2="187.12" stroke="#151515" stroke-width="0.9"/>
<line x1="447.32" y1="184.56" x2="447.32" y2="181.01" stroke="#151515" stroke-width="0.9"/>
<line x1="444.72" y1="181.01" x2="449.92" y2="181.01" stroke="#151515" stroke-width="0.9"/>
<line x1="462.5" y1="184.56" x2="462.5" y2="178.16" stroke="#151515" stroke-width="0.9"/>
<line x1="459.9" y1="178.16" x2="465.1" y2="178.16" stroke="#151515" stroke-width="0.9"/>
<line x1="477.68" y1="196.23" x2="477.68" y2="193.81" stroke="#151515" stroke-width="0.9"/>
<line x1="475.08" y1="193.81" x2="480.28" y2="193.81" stroke="#151515" stroke-width="0.9"/>
<line x1="492.86" y1="193.31" x2="492.86" y2="190.54" stroke="#151515" stroke-width="0.9"/>
<line x1="490.26" y1="190.54" x2="495.46" y2="190.54" stroke="#151515" stroke-width="0.9"/>
<circle cx="387.45" cy="193.95" r="1.22" fill="#b8b8b8" stroke="#222" stroke-width="0.6"/>
<circle cx="384.69" cy="193.67" r="1.22" fill="#b8b8b8" stroke="#222" stroke-width="0.6"/>
<circle cx="384.67" cy="193.67" r="1.22" fill="#b8b8b8" stroke="#222" stroke-width="0.6"/>
<circle cx="385.54" cy="193.22" r="1.22" fill="#b8b8b8" stroke="#222" stroke-width="0.6"/>
<circle cx="388.5" cy="191.95" r="1.22" fill="#b8b8b8" stroke="#222" stroke-width="0.6"/>
<circle cx="384.77" cy="190.09" r="1.22" fill="#b8b8b8" stroke="#222" stroke-width="0.6"/>
<circle cx="384.29" cy="189.99" r="1.22" fill="#b8b8b8" stroke="#222" stroke-width="0.6"/>
<circle cx="384.19" cy="189.16" r="1.22" fill="#b8b8b8" stroke="#222" stroke-width="0.6"/>
<circle cx="383.83" cy="189.11" r="1.22" fill="#b8b8b8" stroke="#222" stroke-width="0.6"/>
<circle cx="385.25" cy="188.74" r="1.22" fill="#b8b8b8" stroke="#222" stroke-width="0.6"/>
<circle cx="387.04" cy="188.72" r="1.22" fill="#b8b8b8" stroke="#222" stroke-width="0.6"/>
<circle cx="388.52" cy="188.56" r="1.22" fill="#b8b8b8" stroke="#222" stroke-width="0.6"/>
<circle cx="385.58" cy="187.68" r="1.22" fill="#b8b8b8" stroke="#222" stroke-width="0.6"/>
<circle cx="385.82" cy="187.5" r="1.22" fill="#b8b8b8" stroke="#222" stroke-width="0.6"/>
<circle cx="385.33" cy="187.37" r="1.22" fill="#b8b8b8" stroke="#222" stroke-width="0.6"/>
<circle cx="385.43" cy="187.28" r="1.22" fill="#b8b8b8" stroke="#222" stroke-width="0.6"/>
<circle cx="388.27" cy="187.21" r="1.22" fill="#b8b8b8" stroke="#222" stroke-width="0.6"/>
<circle cx="386.89" cy="185.57" r="1.22" fill="#b8b8b8" stroke="#222" stroke-width="0.6"/>
<circle cx="402.94" cy="193.68" r="1.22" fill="#b8b8b8" stroke="#222" stroke-width="0.6"/>
<circle cx="403.76" cy="192.85" r="1.22" fill="#b8b8b8" stroke="#222" stroke-width="0.6"/>
<circle cx="402.62" cy="192.74" r="1.22" fill="#b8b8b8" stroke="#222" stroke-width="0.6"/>
<circle cx="400.21" cy="190.87" r="1.22" fill="#b8b8b8" stroke="#222" stroke-width="0.6"/>
<circle cx="400.55" cy="190.07" r="1.22" fill="#b8b8b8" stroke="#222" stroke-width="0.6"/>
<circle cx="401.24" cy="185.64" r="1.22" fill="#b8b8b8" stroke="#222" stroke-width="0.6"/>
<circle cx="403.41" cy="183.51" r="1.22" fill="#b8b8b8" stroke="#222" stroke-width="0.6"/>
<circle cx="402.12" cy="183.51" r="1.22" fill="#b8b8b8" stroke="#222" stroke-width="0.6"/>
<circle cx="402.08" cy="183.34" r="1.22" fill="#b8b8b8" stroke="#222" stroke-width="0.6"/>
<circle cx="403.74" cy="182.97" r="1.22" fill="#b8b8b8" stroke="#222" stroke-width="0.6"/>
<circle cx="399.43" cy="182.37" r="1.22" fill="#b8b8b8" stroke="#222" stroke-width="0.6"/>
<circle cx="402.57" cy="181.86" r="1.22" fill="#b8b8b8" stroke="#222" stroke-width="0.6"/>
<circle cx="400.78" cy="177.5" r="1.22" fill="#b8b8b8" stroke="#222" stroke-width="0.6"/>
<circle cx="402.14" cy="172.91" r="1.22" fill="#b8b8b8" stroke="#222" stroke-width="0.6"/>
<circle cx="403.79" cy="171.76" r="1.22" fill="#b8b8b8" stroke="#222" stroke-width="0.6"/>
<circle cx="400.27" cy="171.66" r="1.22" fill="#b8b8b8" stroke="#222" stroke-width="0.6"/>
<circle cx="404.49" cy="171" r="1.22" fill="#b8b8b8" stroke="#222" stroke-width="0.6"/>
<circle cx="399.25" cy="170.85" r="1.22" fill="#b8b8b8" stroke="#222" stroke-width="0.6"/>
<circle cx="402.15" cy="170.77" r="1.22" fill="#b8b8b8" stroke="#222" stroke-width="0.6"/>
<circle cx="402.03" cy="169.49" r="1.22" fill="#b8b8b8" stroke="#222" stroke-width="0.6"/>
<circle cx="400.19" cy="169.29" r="1.22" fill="#b8b8b8" stroke="#222" stroke-width="0.6"/>
<circle cx="402.15" cy="168.5" r="1.22" fill="#b8b8b8" stroke="#222" stroke-width="0.6"/>
<circle cx="401.6" cy="166.82" r="1.22" fill="#b8b8b8" stroke="#222" stroke-width="0.6"/>
<circle cx="401.48" cy="166.42" r="1.22" fill="#b8b8b8" stroke="#222" stroke-width="0.6"/>
<circle cx="417.36" cy="186.21" r="1.22" fill="#b8b8b8" stroke="#222" stroke-width="0.6"/>
<circle cx="416.61" cy="185.2" r="1.22" fill="#b8b8b8" stroke="#222" stroke-width="0.6"/>
<circle cx="419.11" cy="184.42" r="1.22" fill="#b8b8b8" stroke="#222" stroke-width="0.6"/>
<circle cx="415.52" cy="184.14" r="1.22" fill="#b8b8b8" stroke="#222" stroke-width="0.6"/>
<circle cx="419.07" cy="181.54" r="1.22" fill="#b8b8b8" stroke="#222" stroke-width="0.6"/>
<circle cx="415.45" cy="179.89" r="1.22" fill="#b8b8b8" stroke="#222" stroke-width="0.6"/>
<circle cx="419.86" cy="177.96" r="1.22" fill="#b8b8b8" stroke="#222" stroke-width="0.6"/>
<circle cx="417.77" cy="177.09" r="1.22" fill="#b8b8b8" stroke="#222" stroke-width="0.6"/>
<circle cx="414.22" cy="176.93" r="1.22" fill="#b8b8b8" stroke="#222" stroke-width="0.6"/>
<circle cx="418.8" cy="175.26" r="1.22" fill="#b8b8b8" stroke="#222" stroke-width="0.6"/>
<circle cx="415.61" cy="174.16" r="1.22" fill="#b8b8b8" stroke="#222" stroke-width="0.6"/>
<circle cx="416.13" cy="173.92" r="1.22" fill="#b8b8b8" stroke="#222" stroke-width="0.6"/>
<circle cx="414.84" cy="173.54" r="1.22" fill="#b8b8b8" stroke="#222" stroke-width="0.6"/>
<circle cx="418.98" cy="173.35" r="1.22" fill="#b8b8b8" stroke="#222" stroke-width="0.6"/>
<circle cx="414.5" cy="172.44" r="1.22" fill="#b8b8b8" stroke="#222" stroke-width="0.6"/>
<circle cx="418.39" cy="171.3" r="1.22" fill="#b8b8b8" stroke="#222" stroke-width="0.6"/>
<circle cx="416.33" cy="169" r="1.22" fill="#b8b8b8" stroke="#222" stroke-width="0.6"/>
<circle cx="418.04" cy="166.17" r="1.22" fill="#b8b8b8" stroke="#222" stroke-width="0.6"/>
<circle cx="415.72" cy="165.34" r="1.22" fill="#b8b8b8" stroke="#222" stroke-width="0.6"/>
<circle cx="414.43" cy="164.37" r="1.22" fill="#b8b8b8" stroke="#222" stroke-width="0.6"/>
<circle cx="419.45" cy="163.96" r="1.22" fill="#b8b8b8" stroke="#222" stroke-width="0.6"/>
<circle cx="417.89" cy="163.71" r="1.22" fill="#b8b8b8" stroke="#222" stroke-width="0.6"/>
<circle cx="414.98" cy="163.12" r="1.22" fill="#b8b8b8" stroke="#222" stroke-width="0.6"/>
<circle cx="419.82" cy="161.47" r="1.22" fill="#b8b8b8" stroke="#222" stroke-width="0.6"/>
<circle cx="431.01" cy="196.31" r="1.22" fill="#b8b8b8" stroke="#222" stroke-width="0.6"/>
<circle cx="434.46" cy="193.76" r="1.22" fill="#b8b8b8" stroke="#222" stroke-width="0.6"/>
<circle cx="435.03" cy="193.6" r="1.22" fill="#b8b8b8" stroke="#222" stroke-width="0.6"/>
<circle cx="435.03" cy="193.36" r="1.22" fill="#b8b8b8" stroke="#222" stroke-width="0.6"/>
<circle cx="429.92" cy="192.33" r="1.22" fill="#b8b8b8" stroke="#222" stroke-width="0.6"/>
<circle cx="431.42" cy="191.54" r="1.22" fill="#b8b8b8" stroke="#222" stroke-width="0.6"/>
<circle cx="433.78" cy="190.93" r="1.22" fill="#b8b8b8" stroke="#222" stroke-width="0.6"/>
<circle cx="434.13" cy="190.52" r="1.22" fill="#b8b8b8" stroke="#222" stroke-width="0.6"/>
<circle cx="429.38" cy="190.41" r="1.22" fill="#b8b8b8" stroke="#222" stroke-width="0.6"/>
<circle cx="431.51" cy="189.95" r="1.22" fill="#b8b8b8" stroke="#222" stroke-width="0.6"/>
<circle cx="433.48" cy="189.43" r="1.22" fill="#b8b8b8" stroke="#222" stroke-width="0.6"/>
<circle cx="433.69" cy="189.3" r="1.22" fill="#b8b8b8" stroke="#222" stroke-width="0.6"/>
<circle cx="432.35" cy="189.04" r="1.22" fill="#b8b8b8" stroke="#222" stroke-width="0.6"/>
<circle cx="430.4" cy="187.95" r="1.22" fill="#b8b8b8" stroke="#222" stroke-width="0.6"/>
<circle cx="444.52" cy="193.63" r="1.22" fill="#b8b8b8" stroke="#222" stroke-width="0.6"/>
<circle cx="446.66" cy="193.6" r="1.22" fill="#b8b8b8" stroke="#222" stroke-width="0.6"/>
<circle cx="450.17" cy="193.54" r="1.22" fill="#b8b8b8" stroke="#222" stroke-width="0.6"/>
<circle cx="448.76" cy="191.81" r="1.22" fill="#b8b8b8" stroke="#222" stroke-width="0.6"/>
<circle cx="448.57" cy="190.67" r="1.22" fill="#b8b8b8" stroke="#222" stroke-width="0.6"/>
<circle cx="448.33" cy="187.83" r="1.22" fill="#b8b8b8" stroke="#222" stroke-width="0.6"/>
<circle cx="445.96" cy="186.94" r="1.22" fill="#b8b8b8" stroke="#222" stroke-width="0.6"/>
<circle cx="445.33" cy="186.59" r="1.22" fill="#b8b8b8" stroke="#222" stroke-width="0.6"/>
<circle cx="447.93" cy="185.64" r="1.22" fill="#b8b8b8" stroke="#222" stroke-width="0.6"/>
<circle cx="444.7" cy="185.32" r="1.22" fill="#b8b8b8" stroke="#222" stroke-width="0.6"/>
<circle cx="447.85" cy="185.22" r="1.22" fill="#b8b8b8" stroke="#222" stroke-width="0.6"/>
<circle cx="447.41" cy="184.63" r="1.22" fill="#b8b8b8" stroke="#222" stroke-width="0.6"/>
<circle cx="447.57" cy="184.02" r="1.22" fill="#b8b8b8" stroke="#222" stroke-width="0.6"/>
<circle cx="445.05" cy="181.69" r="1.22" fill="#b8b8b8" stroke="#222" stroke-width="0.6"/>
<circle cx="465.03" cy="198.68" r="1.22" fill="#b8b8b8" stroke="#222" stroke-width="0.6"/>
<circle cx="465.32" cy="196.58" r="1.22" fill="#b8b8b8" stroke="#222" stroke-width="0.6"/>
<circle cx="460.16" cy="194.98" r="1.22" fill="#b8b8b8" stroke="#222" stroke-width="0.6"/>
<circle cx="464.46" cy="194.35" r="1.22" fill="#b8b8b8" stroke="#222" stroke-width="0.6"/>
<circle cx="459.98" cy="193.87" r="1.22" fill="#b8b8b8" stroke="#222" stroke-width="0.6"/>
<circle cx="459.99" cy="190.86" r="1.22" fill="#b8b8b8" stroke="#222" stroke-width="0.6"/>
<circle cx="464.27" cy="189.52" r="1.22" fill="#b8b8b8" stroke="#222" stroke-width="0.6"/>
<circle cx="463.82" cy="187.65" r="1.22" fill="#b8b8b8" stroke="#222" stroke-width="0.6"/>
<circle cx="465.24" cy="186.66" r="1.22" fill="#b8b8b8" stroke="#222" stroke-width="0.6"/>
<circle cx="463.29" cy="186.19" r="1.22" fill="#b8b8b8" stroke="#222" stroke-width="0.6"/>
<circle cx="462.57" cy="185.74" r="1.22" fill="#b8b8b8" stroke="#222" stroke-width="0.6"/>
<circle cx="461.13" cy="185.21" r="1.22" fill="#b8b8b8" stroke="#222" stroke-width="0.6"/>
<circle cx="462.94" cy="179.75" r="1.22" fill="#b8b8b8" stroke="#222" stroke-width="0.6"/>
<circle cx="465.45" cy="176.59" r="1.22" fill="#b8b8b8" stroke="#222" stroke-width="0.6"/>
<circle cx="463.38" cy="168.91" r="1.22" fill="#b8b8b8" stroke="#222" stroke-width="0.6"/>
<circle cx="464.75" cy="167.49" r="1.22" fill="#b8b8b8" stroke="#222" stroke-width="0.6"/>
<circle cx="479.47" cy="198.75" r="1.22" fill="#b8b8b8" stroke="#222" stroke-width="0.6"/>
<circle cx="478.5" cy="198.27" r="1.22" fill="#b8b8b8" stroke="#222" stroke-width="0.6"/>
<circle cx="475.52" cy="197.18" r="1.22" fill="#b8b8b8" stroke="#222" stroke-width="0.6"/>
<circle cx="479.46" cy="196.51" r="1.22" fill="#b8b8b8" stroke="#222" stroke-width="0.6"/>
<circle cx="476.8" cy="196.26" r="1.22" fill="#b8b8b8" stroke="#222" stroke-width="0.6"/>
<circle cx="478.18" cy="194.2" r="1.22" fill="#b8b8b8" stroke="#222" stroke-width="0.6"/>
<circle cx="477.75" cy="193.21" r="1.22" fill="#b8b8b8" stroke="#222" stroke-width="0.6"/>
<circle cx="480.1" cy="192.51" r="1.22" fill="#b8b8b8" stroke="#222" stroke-width="0.6"/>
<circle cx="493.42" cy="200.04" r="1.22" fill="#b8b8b8" stroke="#222" stroke-width="0.6"/>
<circle cx="495.45" cy="197.92" r="1.22" fill="#b8b8b8" stroke="#222" stroke-width="0.6"/>
<circle cx="494.66" cy="197.61" r="1.22" fill="#b8b8b8" stroke="#222" stroke-width="0.6"/>
<circle cx="494.89" cy="195.87" r="1.22" fill="#b8b8b8" stroke="#222" stroke-width="0.6"/>
<circle cx="491.46" cy="195.52" r="1.22" fill="#b8b8b8" stroke="#222" stroke-width="0.6"/>
<circle cx="493.46" cy="194.74" r="1.22" fill="#b8b8b8" stroke="#222" stroke-width="0.6"/>
<circle cx="494.8" cy="193.51" r="1.22" fill="#b8b8b8" stroke="#222" stroke-width="0.6"/>
<circle cx="494.17" cy="192.42" r="1.22" fill="#b8b8b8" stroke="#222" stroke-width="0.6"/>
<circle cx="495.57" cy="191.92" r="1.22" fill="#b8b8b8" stroke="#222" stroke-width="0.6"/>
<circle cx="495.35" cy="191.38" r="1.22" fill="#b8b8b8" stroke="#222" stroke-width="0.6"/>
<line x1="376.25" y1="148.5" x2="376.25" y2="206.4" stroke="#2a2a2a" stroke-width="1.1"/>
<line x1="375.75" y1="205.9" x2="515.65" y2="205.9" stroke="#2a2a2a" stroke-width="1.1"/>
<line x1="373.45" y1="205.9" x2="376.25" y2="205.9" stroke="#2a2a2a" stroke-width="1.1"/>
<text x="371.75" y="208.17" font-size="6.3" text-anchor="end" textLength="3" lengthAdjust="spacingAndGlyphs">0</text>
<line x1="373.45" y1="191.68" x2="376.25" y2="191.68" stroke="#2a2a2a" stroke-width="1.1"/>
<text x="371.75" y="193.94" font-size="6.3" text-anchor="end" textLength="12" lengthAdjust="spacingAndGlyphs">1000</text>
<line x1="373.45" y1="177.45" x2="376.25" y2="177.45" stroke="#2a2a2a" stroke-width="1.1"/>
<text x="371.75" y="179.72" font-size="6.3" text-anchor="end" textLength="12" lengthAdjust="spacingAndGlyphs">2000</text>
<line x1="373.45" y1="163.22" x2="376.25" y2="163.22" stroke="#2a2a2a" stroke-width="1.1"/>
<text x="371.75" y="165.49" font-size="6.3" text-anchor="end" textLength="12" lengthAdjust="spacingAndGlyphs">3000</text>
<line x1="373.45" y1="149" x2="376.25" y2="149" stroke="#2a2a2a" stroke-width="1.1"/>
<text x="371.75" y="151.27" font-size="6.3" text-anchor="end" textLength="12" lengthAdjust="spacingAndGlyphs">4000</text>
<line x1="386.6" y1="205.9" x2="386.6" y2="209" stroke="#2a2a2a" stroke-width="0.9"/>
<line x1="401.78" y1="205.9" x2="401.78" y2="209" stroke="#2a2a2a" stroke-width="0.9"/>
<line x1="416.96" y1="205.9" x2="416.96" y2="209" stroke="#2a2a2a" stroke-width="0.9"/>
<line x1="432.14" y1="205.9" x2="432.14" y2="209" stroke="#2a2a2a" stroke-width="0.9"/>
<line x1="447.32" y1="205.9" x2="447.32" y2="209" stroke="#2a2a2a" stroke-width="0.9"/>
<line x1="462.5" y1="205.9" x2="462.5" y2="209" stroke="#2a2a2a" stroke-width="0.9"/>
<line x1="477.68" y1="205.9" x2="477.68" y2="209" stroke="#2a2a2a" stroke-width="0.9"/>
<line x1="492.86" y1="205.9" x2="492.86" y2="209" stroke="#2a2a2a" stroke-width="0.9"/>
<line x1="508.04" y1="205.9" x2="508.04" y2="209" stroke="#2a2a2a" stroke-width="0.9"/>
<text x="386.6" y="217.7" font-size="6.7" text-anchor="middle" textLength="12.3" lengthAdjust="spacingAndGlyphs">2mo</text>
<text x="401.78" y="217.7" font-size="6.7" text-anchor="middle" textLength="6.4" lengthAdjust="spacingAndGlyphs">1y</text>
<text x="416.96" y="217.7" font-size="6.7" text-anchor="middle" textLength="6.9" lengthAdjust="spacingAndGlyphs">2y</text>
<text x="432.14" y="217.7" font-size="6.7" text-anchor="middle" textLength="12.3" lengthAdjust="spacingAndGlyphs">2mo</text>
<text x="447.32" y="217.7" font-size="6.7" text-anchor="middle" textLength="6.4" lengthAdjust="spacingAndGlyphs">1y</text>
<text x="462.5" y="217.7" font-size="6.7" text-anchor="middle" textLength="6.9" lengthAdjust="spacingAndGlyphs">2y</text>
<text x="477.68" y="217.7" font-size="6.7" text-anchor="middle" textLength="12.3" lengthAdjust="spacingAndGlyphs">2mo</text>
<text x="492.86" y="217.7" font-size="6.7" text-anchor="middle" textLength="6.4" lengthAdjust="spacingAndGlyphs">1y</text>
<text x="508.04" y="217.7" font-size="6.7" text-anchor="middle" textLength="6.9" lengthAdjust="spacingAndGlyphs">2y</text>
<line x1="382.65" y1="220.9" x2="421.95" y2="220.9" stroke="#c6c6c6" stroke-width="1.35"/>
<text x="402.3" y="228.7" font-size="6.7" text-anchor="middle" textLength="23.2" lengthAdjust="spacingAndGlyphs">WT SPF</text>
<line x1="426.05" y1="220.9" x2="467.65" y2="220.9" stroke="#c6c6c6" stroke-width="1.35"/>
<text x="446.85" y="228.7" font-size="6.7" text-anchor="middle" textLength="41.5" lengthAdjust="spacingAndGlyphs">IL-1R1KO SPF</text>
<line x1="472.85" y1="220.9" x2="513.25" y2="220.9" stroke="#c6c6c6" stroke-width="1.35"/>
<text x="493.05" y="228.7" font-size="6.7" text-anchor="middle" textLength="20.8" lengthAdjust="spacingAndGlyphs">WT GF</text>
<text x="508.04" y="203.5" font-size="4.6" text-anchor="middle" textLength="8.2" lengthAdjust="spacingAndGlyphs">N.A.</text>
<line x1="403" y1="122.8" x2="494.5" y2="122.8" stroke="#bababa" stroke-width="1.05"/>
<path d="M404.1 119.65V121.75M403.19 120.17L405.01 121.23M403.19 121.23L405.01 120.17" stroke="#333" stroke-width="0.7" fill="none"/>
<path d="M407.15 119.65V121.75M406.24 120.17L408.06 121.23M406.24 121.23L408.06 120.17" stroke="#333" stroke-width="0.7" fill="none"/>
<path d="M410.2 119.65V121.75M409.29 120.17L411.11 121.23M409.29 121.23L411.11 120.17" stroke="#333" stroke-width="0.7" fill="none"/>
<path d="M413.25 119.65V121.75M412.34 120.17L414.16 121.23M412.34 121.23L414.16 120.17" stroke="#333" stroke-width="0.7" fill="none"/>
<line x1="385.9" y1="128" x2="479" y2="128" stroke="#bababa" stroke-width="1.05"/>
<path d="M387 124.85V126.95M386.09 125.38L387.91 126.43M386.09 126.43L387.91 125.38" stroke="#333" stroke-width="0.7" fill="none"/>
<path d="M390.05 124.85V126.95M389.14 125.38L390.96 126.43M389.14 126.43L390.96 125.38" stroke="#333" stroke-width="0.7" fill="none"/>
<path d="M393.1 124.85V126.95M392.19 125.38L394.01 126.43M392.19 126.43L394.01 125.38" stroke="#333" stroke-width="0.7" fill="none"/>
<path d="M396.15 124.85V126.95M395.24 125.38L397.06 126.43M395.24 126.43L397.06 125.38" stroke="#333" stroke-width="0.7" fill="none"/>
<line x1="447.2" y1="133.7" x2="494.5" y2="133.7" stroke="#bababa" stroke-width="1.05"/>
<path d="M448.3 130.55V132.65M447.39 131.07L449.21 132.12M447.39 132.12L449.21 131.07" stroke="#333" stroke-width="0.7" fill="none"/>
<path d="M451.35 130.55V132.65M450.44 131.07L452.26 132.12M450.44 132.12L452.26 131.07" stroke="#333" stroke-width="0.7" fill="none"/>
<path d="M454.4 130.55V132.65M453.49 131.07L455.31 132.12M453.49 132.12L455.31 131.07" stroke="#333" stroke-width="0.7" fill="none"/>
<path d="M457.45 130.55V132.65M456.54 131.07L458.36 132.12M456.54 132.12L458.36 131.07" stroke="#333" stroke-width="0.7" fill="none"/>
<line x1="432" y1="138" x2="479" y2="138" stroke="#bababa" stroke-width="1.05"/>
<path d="M433.1 134.85V136.95M432.19 135.38L434.01 136.43M432.19 136.43L434.01 135.38" stroke="#333" stroke-width="0.7" fill="none"/>
<path d="M436.15 134.85V136.95M435.24 135.38L437.06 136.43M435.24 136.43L437.06 135.38" stroke="#333" stroke-width="0.7" fill="none"/>
<path d="M439.2 134.85V136.95M438.29 135.38L440.11 136.43M438.29 136.43L440.11 135.38" stroke="#333" stroke-width="0.7" fill="none"/>
<path d="M442.25 134.85V136.95M441.34 135.38L443.16 136.43M441.34 136.43L443.16 135.38" stroke="#333" stroke-width="0.7" fill="none"/>
<line x1="417.5" y1="143.2" x2="464.5" y2="143.2" stroke="#bababa" stroke-width="1.05"/>
<path d="M418.6 140.05V142.15M417.69 140.57L419.51 141.62M417.69 141.62L419.51 140.57" stroke="#333" stroke-width="0.7" fill="none"/>
<path d="M421.65 140.05V142.15M420.74 140.57L422.56 141.62M420.74 141.62L422.56 140.57" stroke="#333" stroke-width="0.7" fill="none"/>
<path d="M424.7 140.05V142.15M423.79 140.57L425.61 141.62M423.79 141.62L425.61 140.57" stroke="#333" stroke-width="0.7" fill="none"/>
<line x1="385.9" y1="147.3" x2="417.5" y2="147.3" stroke="#bababa" stroke-width="1.05"/>
<path d="M387 144.15V146.25M386.09 144.68L387.91 145.73M386.09 145.73L387.91 144.68" stroke="#333" stroke-width="0.7" fill="none"/>
<path d="M390.05 144.15V146.25M389.14 144.68L390.96 145.73M389.14 145.73L390.96 144.68" stroke="#333" stroke-width="0.7" fill="none"/>
<path d="M393.1 144.15V146.25M392.19 144.68L394.01 145.73M392.19 145.73L394.01 144.68" stroke="#333" stroke-width="0.7" fill="none"/>
<path d="M396.15 144.15V146.25M395.24 144.68L397.06 145.73M395.24 145.73L397.06 144.68" stroke="#333" stroke-width="0.7" fill="none"/>
<line x1="432" y1="147.3" x2="464.5" y2="147.3" stroke="#bababa" stroke-width="1.05"/>
<path d="M433.1 144.15V146.25M432.19 144.68L434.01 145.73M432.19 145.73L434.01 144.68" stroke="#333" stroke-width="0.7" fill="none"/>
<path d="M436.15 144.15V146.25M435.24 144.68L437.06 145.73M435.24 145.73L437.06 144.68" stroke="#333" stroke-width="0.7" fill="none"/>
<line x1="385.9" y1="152.5" x2="400.3" y2="152.5" stroke="#bababa" stroke-width="1.05"/>
<path d="M387 149.35V151.45M386.09 149.88L387.91 150.93M386.09 150.93L387.91 149.88" stroke="#333" stroke-width="0.7" fill="none"/>
<path d="M390.05 149.35V151.45M389.14 149.88L390.96 150.93M389.14 150.93L390.96 149.88" stroke="#333" stroke-width="0.7" fill="none"/>
<line x1="403" y1="152.5" x2="417.5" y2="152.5" stroke="#bababa" stroke-width="1.05"/>
<path d="M404.1 149.35V151.45M403.19 149.88L405.01 150.93M403.19 150.93L405.01 149.88" stroke="#333" stroke-width="0.7" fill="none"/>
<path d="M407.15 149.35V151.45M406.24 149.88L408.06 150.93M406.24 150.93L408.06 149.88" stroke="#333" stroke-width="0.7" fill="none"/>
<path d="M410.2 149.35V151.45M409.29 149.88L411.11 150.93M409.29 150.93L411.11 149.88" stroke="#333" stroke-width="0.7" fill="none"/>
<line x1="432" y1="152.5" x2="446.4" y2="152.5" stroke="#bababa" stroke-width="1.05"/>
<path d="M433.1 149.35V151.45M432.19 149.88L434.01 150.93M432.19 150.93L434.01 149.88" stroke="#333" stroke-width="0.7" fill="none"/>
<path d="M436.15 149.35V151.45M435.24 149.88L437.06 150.93M435.24 150.93L437.06 149.88" stroke="#333" stroke-width="0.7" fill="none"/>
<text x="354.7" y="176.9" font-size="8.8" text-anchor="middle" textLength="55" lengthAdjust="spacingAndGlyphs" transform="rotate(-90 354.7 176.9)">PLT (x10<tspan font-size="5" dy="-2.5">9</tspan><tspan dy="2.5"> cells/L)</tspan></text>
<line x1="80.8" y1="252.1" x2="80.8" y2="308.6" stroke="#aaaaaa" stroke-width="0.85" stroke-dasharray="1 1.3"/>
<line x1="126.34" y1="252.1" x2="126.34" y2="308.6" stroke="#aaaaaa" stroke-width="0.85" stroke-dasharray="1 1.3"/>
<rect x="37.85" y="296.95" width="10" height="11.65" fill="#EDB3A6"/>
<rect x="53.03" y="291.8" width="10" height="16.8" fill="#DC6456"/>
<rect x="68.21" y="289.34" width="10" height="19.26" fill="#C8102E"/>
<rect x="83.39" y="298.07" width="10" height="10.53" fill="#AFB5D5"/>
<rect x="98.57" y="288.22" width="10" height="20.38" fill="#7483B1"/>
<rect x="113.75" y="288.89" width="10" height="19.71" fill="#1B4F8C"/>
<rect x="128.93" y="288.22" width="10" height="20.38" fill="#3DB54B"/>
<rect x="144.11" y="292.7" width="10" height="15.9" fill="#0B6B4C"/>
<line x1="42.85" y1="296.95" x2="42.85" y2="293.37" stroke="#151515" stroke-width="0.9"/>
<line x1="40.25" y1="293.37" x2="45.45" y2="293.37" stroke="#151515" stroke-width="0.9"/>
<line x1="58.03" y1="291.8" x2="58.03" y2="285.75" stroke="#151515" stroke-width="0.9"/>
<line x1="55.43" y1="285.75" x2="60.63" y2="285.75" stroke="#151515" stroke-width="0.9"/>
<line x1="73.21" y1="289.34" x2="73.21" y2="279.48" stroke="#151515" stroke-width="0.9"/>
<line x1="70.61" y1="279.48" x2="75.81" y2="279.48" stroke="#151515" stroke-width="0.9"/>
<line x1="88.39" y1="298.07" x2="88.39" y2="293.37" stroke="#151515" stroke-width="0.9"/>
<line x1="85.79" y1="293.37" x2="90.99" y2="293.37" stroke="#151515" stroke-width="0.9"/>
<line x1="103.57" y1="288.22" x2="103.57" y2="279.48" stroke="#151515" stroke-width="0.9"/>
<line x1="100.97" y1="279.48" x2="106.17" y2="279.48" stroke="#151515" stroke-width="0.9"/>
<line x1="118.75" y1="288.89" x2="118.75" y2="278.36" stroke="#151515" stroke-width="0.9"/>
<line x1="116.15" y1="278.36" x2="121.35" y2="278.36" stroke="#151515" stroke-width="0.9"/>
<line x1="133.93" y1="288.22" x2="133.93" y2="281.72" stroke="#151515" stroke-width="0.9"/>
<line x1="131.33" y1="281.72" x2="136.53" y2="281.72" stroke="#151515" stroke-width="0.9"/>
<line x1="149.11" y1="292.7" x2="149.11" y2="282.84" stroke="#151515" stroke-width="0.9"/>
<line x1="146.51" y1="282.84" x2="151.71" y2="282.84" stroke="#151515" stroke-width="0.9"/>
<circle cx="42.73" cy="303.83" r="1.22" fill="#b8b8b8" stroke="#222" stroke-width="0.6"/>
<circle cx="43.87" cy="303.16" r="1.22" fill="#b8b8b8" stroke="#222" stroke-width="0.6"/>
<circle cx="45.69" cy="301.51" r="1.22" fill="#b8b8b8" stroke="#222" stroke-width="0.6"/>
<circle cx="40.64" cy="300.88" r="1.22" fill="#b8b8b8" stroke="#222" stroke-width="0.6"/>
<circle cx="42.88" cy="300.79" r="1.22" fill="#b8b8b8" stroke="#222" stroke-width="0.6"/>
<circle cx="45.83" cy="299.9" r="1.22" fill="#b8b8b8" stroke="#222" stroke-width="0.6"/>
<circle cx="44.44" cy="299.57" r="1.22" fill="#b8b8b8" stroke="#222" stroke-width="0.6"/>
<circle cx="43.04" cy="298.04" r="1.22" fill="#b8b8b8" stroke="#222" stroke-width="0.6"/>
<circle cx="41.31" cy="297.92" r="1.22" fill="#b8b8b8" stroke="#222" stroke-width="0.6"/>
<circle cx="43.64" cy="295.47" r="1.22" fill="#b8b8b8" stroke="#222" stroke-width="0.6"/>
<circle cx="41.42" cy="295.3" r="1.22" fill="#b8b8b8" stroke="#222" stroke-width="0.6"/>
<circle cx="43.71" cy="294.96" r="1.22" fill="#b8b8b8" stroke="#222" stroke-width="0.6"/>
<circle cx="43.74" cy="294.95" r="1.22" fill="#b8b8b8" stroke="#222" stroke-width="0.6"/>
<circle cx="42.2" cy="294.5" r="1.22" fill="#b8b8b8" stroke="#222" stroke-width="0.6"/>
<circle cx="44.62" cy="294.21" r="1.22" fill="#b8b8b8" stroke="#222" stroke-width="0.6"/>
<circle cx="42.27" cy="294.17" r="1.22" fill="#b8b8b8" stroke="#222" stroke-width="0.6"/>
<circle cx="42.66" cy="293.3" r="1.22" fill="#b8b8b8" stroke="#222" stroke-width="0.6"/>
<circle cx="44.84" cy="293.3" r="1.22" fill="#b8b8b8" stroke="#222" stroke-width="0.6"/>
<circle cx="41.35" cy="292.63" r="1.22" fill="#b8b8b8" stroke="#222" stroke-width="0.6"/>
<circle cx="40.96" cy="292.21" r="1.22" fill="#b8b8b8" stroke="#222" stroke-width="0.6"/>
<circle cx="43.3" cy="291.54" r="1.22" fill="#b8b8b8" stroke="#222" stroke-width="0.6"/>
<circle cx="42.46" cy="291.36" r="1.22" fill="#b8b8b8" stroke="#222" stroke-width="0.6"/>
<circle cx="45.09" cy="291.29" r="1.22" fill="#b8b8b8" stroke="#222" stroke-width="0.6"/>
<circle cx="41.34" cy="290.71" r="1.22" fill="#b8b8b8" stroke="#222" stroke-width="0.6"/>
<circle cx="42.08" cy="285.53" r="1.22" fill="#b8b8b8" stroke="#222" stroke-width="0.6"/>
<circle cx="55.5" cy="301.34" r="1.22" fill="#b8b8b8" stroke="#222" stroke-width="0.6"/>
<circle cx="59.82" cy="300.52" r="1.22" fill="#b8b8b8" stroke="#222" stroke-width="0.6"/>
<circle cx="58.01" cy="299.97" r="1.22" fill="#b8b8b8" stroke="#222" stroke-width="0.6"/>
<circle cx="59.25" cy="298.63" r="1.22" fill="#b8b8b8" stroke="#222" stroke-width="0.6"/>
<circle cx="56.56" cy="298.14" r="1.22" fill="#b8b8b8" stroke="#222" stroke-width="0.6"/>
<circle cx="58.95" cy="298.04" r="1.22" fill="#b8b8b8" stroke="#222" stroke-width="0.6"/>
<circle cx="57.75" cy="296.76" r="1.22" fill="#b8b8b8" stroke="#222" stroke-width="0.6"/>
<circle cx="58.92" cy="295.7" r="1.22" fill="#b8b8b8" stroke="#222" stroke-width="0.6"/>
<circle cx="57.49" cy="294.53" r="1.22" fill="#b8b8b8" stroke="#222" stroke-width="0.6"/>
<circle cx="60.97" cy="293.65" r="1.22" fill="#b8b8b8" stroke="#222" stroke-width="0.6"/>
<circle cx="60.11" cy="293.19" r="1.22" fill="#b8b8b8" stroke="#222" stroke-width="0.6"/>
<circle cx="60.03" cy="291.09" r="1.22" fill="#b8b8b8" stroke="#222" stroke-width="0.6"/>
<circle cx="57.08" cy="289.4" r="1.22" fill="#b8b8b8" stroke="#222" stroke-width="0.6"/>
<circle cx="56.18" cy="289.32" r="1.22" fill="#b8b8b8" stroke="#222" stroke-width="0.6"/>
<circle cx="55.95" cy="289.26" r="1.22" fill="#b8b8b8" stroke="#222" stroke-width="0.6"/>
<circle cx="55.82" cy="289.09" r="1.22" fill="#b8b8b8" stroke="#222" stroke-width="0.6"/>
<circle cx="60.83" cy="288.79" r="1.22" fill="#b8b8b8" stroke="#222" stroke-width="0.6"/>
<circle cx="56.72" cy="287.77" r="1.22" fill="#b8b8b8" stroke="#222" stroke-width="0.6"/>
<circle cx="60.25" cy="287.3" r="1.22" fill="#b8b8b8" stroke="#222" stroke-width="0.6"/>
<circle cx="56.42" cy="285.91" r="1.22" fill="#b8b8b8" stroke="#222" stroke-width="0.6"/>
<circle cx="58.75" cy="284.17" r="1.22" fill="#b8b8b8" stroke="#222" stroke-width="0.6"/>
<circle cx="56.53" cy="284.05" r="1.22" fill="#b8b8b8" stroke="#222" stroke-width="0.6"/>
<circle cx="56.87" cy="282.7" r="1.22" fill="#b8b8b8" stroke="#222" stroke-width="0.6"/>
<circle cx="59.52" cy="282.5" r="1.22" fill="#b8b8b8" stroke="#222" stroke-width="0.6"/>
<circle cx="58.68" cy="281.68" r="1.22" fill="#b8b8b8" stroke="#222" stroke-width="0.6"/>
<circle cx="60.71" cy="280.59" r="1.22" fill="#b8b8b8" stroke="#222" stroke-width="0.6"/>
<circle cx="56.45" cy="276.7" r="1.22" fill="#b8b8b8" stroke="#222" stroke-width="0.6"/>
<circle cx="56.65" cy="276.48" r="1.22" fill="#b8b8b8" stroke="#222" stroke-width="0.6"/>
<circle cx="75.18" cy="305.46" r="1.22" fill="#b8b8b8" stroke="#222" stroke-width="0.6"/>
<circle cx="75.52" cy="302.74" r="1.22" fill="#b8b8b8" stroke="#222" stroke-width="0.6"/>
<circle cx="73.31" cy="302.5" r="1.22" fill="#b8b8b8" stroke="#222" stroke-width="0.6"/>
<circle cx="73.88" cy="298.13" r="1.22" fill="#b8b8b8" stroke="#222" stroke-width="0.6"/>
<circle cx="74.45" cy="297.5" r="1.22" fill="#b8b8b8" stroke="#222" stroke-width="0.6"/>
<circle cx="71.15" cy="294.47" r="1.22" fill="#b8b8b8" stroke="#222" stroke-width="0.6"/>
<circle cx="73.33" cy="294.08" r="1.22" fill="#b8b8b8" stroke="#222" stroke-width="0.6"/>
<circle cx="72.9" cy="294.06" r="1.22" fill="#b8b8b8" stroke="#222" stroke-width="0.6"/>
<circle cx="75.43" cy="293.11" r="1.22" fill="#b8b8b8" stroke="#222" stroke-width="0.6"/>
<circle cx="71.19" cy="292.95" r="1.22" fill="#b8b8b8" stroke="#222" stroke-width="0.6"/>
<circle cx="75.29" cy="292.59" r="1.22" fill="#b8b8b8" stroke="#222" stroke-width="0.6"/>
<circle cx="71.06" cy="292.01" r="1.22" fill="#b8b8b8" stroke="#222" stroke-width="0.6"/>
<circle cx="73.87" cy="290.65" r="1.22" fill="#b8b8b8" stroke="#222" stroke-width="0.6"/>
<circle cx="75.56" cy="290.6" r="1.22" fill="#b8b8b8" stroke="#222" stroke-width="0.6"/>
<circle cx="70.67" cy="288.07" r="1.22" fill="#b8b8b8" stroke="#222" stroke-width="0.6"/>
<circle cx="73.11" cy="285.86" r="1.22" fill="#b8b8b8" stroke="#222" stroke-width="0.6"/>
<circle cx="70.24" cy="282.83" r="1.22" fill="#b8b8b8" stroke="#222" stroke-width="0.6"/>
<circle cx="73.26" cy="282.42" r="1.22" fill="#b8b8b8" stroke="#222" stroke-width="0.6"/>
<circle cx="73.12" cy="280.55" r="1.22" fill="#b8b8b8" stroke="#222" stroke-width="0.6"/>
<circle cx="75.97" cy="279.85" r="1.22" fill="#b8b8b8" stroke="#222" stroke-width="0.6"/>
<circle cx="73.13" cy="277.49" r="1.22" fill="#b8b8b8" stroke="#222" stroke-width="0.6"/>
<circle cx="75.67" cy="276.75" r="1.22" fill="#b8b8b8" stroke="#222" stroke-width="0.6"/>
<circle cx="74.59" cy="272.51" r="1.22" fill="#b8b8b8" stroke="#222" stroke-width="0.6"/>
<circle cx="75.26" cy="272" r="1.22" fill="#b8b8b8" stroke="#222" stroke-width="0.6"/>
<circle cx="72.31" cy="271.79" r="1.22" fill="#b8b8b8" stroke="#222" stroke-width="0.6"/>
<circle cx="70.78" cy="271.06" r="1.22" fill="#b8b8b8" stroke="#222" stroke-width="0.6"/>
<circle cx="74.03" cy="266.17" r="1.22" fill="#b8b8b8" stroke="#222" stroke-width="0.6"/>
<circle cx="70.88" cy="265.23" r="1.22" fill="#b8b8b8" stroke="#222" stroke-width="0.6"/>
<circle cx="86.35" cy="302.56" r="1.22" fill="#b8b8b8" stroke="#222" stroke-width="0.6"/>
<circle cx="89.33" cy="301.82" r="1.22" fill="#b8b8b8" stroke="#222" stroke-width="0.6"/>
<circle cx="87.92" cy="301.65" r="1.22" fill="#b8b8b8" stroke="#222" stroke-width="0.6"/>
<circle cx="86.52" cy="301.3" r="1.22" fill="#b8b8b8" stroke="#222" stroke-width="0.6"/>
<circle cx="91.21" cy="300.53" r="1.22" fill="#b8b8b8" stroke="#222" stroke-width="0.6"/>
<circle cx="86.78" cy="300.03" r="1.22" fill="#b8b8b8" stroke="#222" stroke-width="0.6"/>
<circle cx="90.95" cy="299.79" r="1.22" fill="#b8b8b8" stroke="#222" stroke-width="0.6"/>
<circle cx="89.12" cy="298.99" r="1.22" fill="#b8b8b8" stroke="#222" stroke-width="0.6"/>
<circle cx="91.12" cy="298" r="1.22" fill="#b8b8b8" stroke="#222" stroke-width="0.6"/>
<circle cx="90.04" cy="297.11" r="1.22" fill="#b8b8b8" stroke="#222" stroke-width="0.6"/>
<circle cx="86.6" cy="296.91" r="1.22" fill="#b8b8b8" stroke="#222" stroke-width="0.6"/>
<circle cx="86.76" cy="296.81" r="1.22" fill="#b8b8b8" stroke="#222" stroke-width="0.6"/>
<circle cx="90.57" cy="296.6" r="1.22" fill="#b8b8b8" stroke="#222" stroke-width="0.6"/>
<circle cx="88" cy="295.81" r="1.22" fill="#b8b8b8" stroke="#222" stroke-width="0.6"/>
<circle cx="88.41" cy="294.89" r="1.22" fill="#b8b8b8" stroke="#222" stroke-width="0.6"/>
<circle cx="89.87" cy="294.44" r="1.22" fill="#b8b8b8" stroke="#222" stroke-width="0.6"/>
<circle cx="89.01" cy="294.43" r="1.22" fill="#b8b8b8" stroke="#222" stroke-width="0.6"/>
<circle cx="89.71" cy="294.35" r="1.22" fill="#b8b8b8" stroke="#222" stroke-width="0.6"/>
<circle cx="88.52" cy="294.25" r="1.22" fill="#b8b8b8" stroke="#222" stroke-width="0.6"/>
<circle cx="87.04" cy="292.06" r="1.22" fill="#b8b8b8" stroke="#222" stroke-width="0.6"/>
<circle cx="105.86" cy="301.81" r="1.22" fill="#b8b8b8" stroke="#222" stroke-width="0.6"/>
<circle cx="102.27" cy="298.54" r="1.22" fill="#b8b8b8" stroke="#222" stroke-width="0.6"/>
<circle cx="104.97" cy="294.79" r="1.22" fill="#b8b8b8" stroke="#222" stroke-width="0.6"/>
<circle cx="104.17" cy="294.36" r="1.22" fill="#b8b8b8" stroke="#222" stroke-width="0.6"/>
<circle cx="103.17" cy="293.44" r="1.22" fill="#b8b8b8" stroke="#222" stroke-width="0.6"/>
<circle cx="102.91" cy="293.27" r="1.22" fill="#b8b8b8" stroke="#222" stroke-width="0.6"/>
<circle cx="101.52" cy="292.46" r="1.22" fill="#b8b8b8" stroke="#222" stroke-width="0.6"/>
<circle cx="101.45" cy="286.69" r="1.22" fill="#b8b8b8" stroke="#222" stroke-width="0.6"/>
<circle cx="102.35" cy="285.96" r="1.22" fill="#b8b8b8" stroke="#222" stroke-width="0.6"/>
<circle cx="106.5" cy="283.85" r="1.22" fill="#b8b8b8" stroke="#222" stroke-width="0.6"/>
<circle cx="105.48" cy="282.63" r="1.22" fill="#b8b8b8" stroke="#222" stroke-width="0.6"/>
<circle cx="100.62" cy="282.34" r="1.22" fill="#b8b8b8" stroke="#222" stroke-width="0.6"/>
<circle cx="105.11" cy="277.58" r="1.22" fill="#b8b8b8" stroke="#222" stroke-width="0.6"/>
<circle cx="101.42" cy="277.23" r="1.22" fill="#b8b8b8" stroke="#222" stroke-width="0.6"/>
<circle cx="104.03" cy="277.16" r="1.22" fill="#b8b8b8" stroke="#222" stroke-width="0.6"/>
<circle cx="106.09" cy="275.68" r="1.22" fill="#b8b8b8" stroke="#222" stroke-width="0.6"/>
<circle cx="119.56" cy="298.4" r="1.22" fill="#b8b8b8" stroke="#222" stroke-width="0.6"/>
<circle cx="115.91" cy="298.22" r="1.22" fill="#b8b8b8" stroke="#222" stroke-width="0.6"/>
<circle cx="120.08" cy="297.9" r="1.22" fill="#b8b8b8" stroke="#222" stroke-width="0.6"/>
<circle cx="119.27" cy="297.09" r="1.22" fill="#b8b8b8" stroke="#222" stroke-width="0.6"/>
<circle cx="119.62" cy="296.7" r="1.22" fill="#b8b8b8" stroke="#222" stroke-width="0.6"/>
<circle cx="119.8" cy="295.84" r="1.22" fill="#b8b8b8" stroke="#222" stroke-width="0.6"/>
<circle cx="116.33" cy="293.75" r="1.22" fill="#b8b8b8" stroke="#222" stroke-width="0.6"/>
<circle cx="121.04" cy="291.97" r="1.22" fill="#b8b8b8" stroke="#222" stroke-width="0.6"/>
<circle cx="120.34" cy="291.85" r="1.22" fill="#b8b8b8" stroke="#222" stroke-width="0.6"/>
<circle cx="121.11" cy="290.23" r="1.22" fill="#b8b8b8" stroke="#222" stroke-width="0.6"/>
<circle cx="117.14" cy="288.58" r="1.22" fill="#b8b8b8" stroke="#222" stroke-width="0.6"/>
<circle cx="117.12" cy="288.56" r="1.22" fill="#b8b8b8" stroke="#222" stroke-width="0.6"/>
<circle cx="120.09" cy="288.27" r="1.22" fill="#b8b8b8" stroke="#222" stroke-width="0.6"/>
<circle cx="121.28" cy="287.67" r="1.22" fill="#b8b8b8" stroke="#222" stroke-width="0.6"/>
<circle cx="119.16" cy="286.98" r="1.22" fill="#b8b8b8" stroke="#222" stroke-width="0.6"/>
<circle cx="117.21" cy="286.8" r="1.22" fill="#b8b8b8" stroke="#222" stroke-width="0.6"/>
<circle cx="118.4" cy="286.23" r="1.22" fill="#b8b8b8" stroke="#222" stroke-width="0.6"/>
<circle cx="117.19" cy="286.02" r="1.22" fill="#b8b8b8" stroke="#222" stroke-width="0.6"/>
<circle cx="118.65" cy="282.02" r="1.22" fill="#b8b8b8" stroke="#222" stroke-width="0.6"/>
<circle cx="121.5" cy="278.85" r="1.22" fill="#b8b8b8" stroke="#222" stroke-width="0.6"/>
<circle cx="119.82" cy="278.55" r="1.22" fill="#b8b8b8" stroke="#222" stroke-width="0.6"/>
<circle cx="116.97" cy="275.23" r="1.22" fill="#b8b8b8" stroke="#222" stroke-width="0.6"/>
<circle cx="121.24" cy="261.11" r="1.22" fill="#b8b8b8" stroke="#222" stroke-width="0.6"/>
<circle cx="121.01" cy="261.11" r="1.22" fill="#b8b8b8" stroke="#222" stroke-width="0.6"/>
<circle cx="132.71" cy="299.62" r="1.22" fill="#b8b8b8" stroke="#222" stroke-width="0.6"/>
<circle cx="133.25" cy="298.45" r="1.22" fill="#b8b8b8" stroke="#222" stroke-width="0.6"/>
<circle cx="133.29" cy="298" r="1.22" fill="#b8b8b8" stroke="#222" stroke-width="0.6"/>
<circle cx="135.99" cy="296.33" r="1.22" fill="#b8b8b8" stroke="#222" stroke-width="0.6"/>
<circle cx="133.48" cy="293.96" r="1.22" fill="#b8b8b8" stroke="#222" stroke-width="0.6"/>
<circle cx="131.89" cy="293.9" r="1.22" fill="#b8b8b8" stroke="#222" stroke-width="0.6"/>
<circle cx="134.53" cy="291" r="1.22" fill="#b8b8b8" stroke="#222" stroke-width="0.6"/>
<circle cx="132.49" cy="290.95" r="1.22" fill="#b8b8b8" stroke="#222" stroke-width="0.6"/>
<circle cx="136.36" cy="290.13" r="1.22" fill="#b8b8b8" stroke="#222" stroke-width="0.6"/>
<circle cx="131.58" cy="284.9" r="1.22" fill="#b8b8b8" stroke="#222" stroke-width="0.6"/>
<circle cx="131.86" cy="281.32" r="1.22" fill="#b8b8b8" stroke="#222" stroke-width="0.6"/>
<circle cx="131.32" cy="279.57" r="1.22" fill="#b8b8b8" stroke="#222" stroke-width="0.6"/>
<circle cx="149.92" cy="302.53" r="1.22" fill="#b8b8b8" stroke="#222" stroke-width="0.6"/>
<circle cx="151.82" cy="301.81" r="1.22" fill="#b8b8b8" stroke="#222" stroke-width="0.6"/>
<circle cx="148.34" cy="301.45" r="1.22" fill="#b8b8b8" stroke="#222" stroke-width="0.6"/>
<circle cx="146.31" cy="296.41" r="1.22" fill="#b8b8b8" stroke="#222" stroke-width="0.6"/>
<circle cx="147.11" cy="292.86" r="1.22" fill="#b8b8b8" stroke="#222" stroke-width="0.6"/>
<circle cx="147.99" cy="287.39" r="1.22" fill="#b8b8b8" stroke="#222" stroke-width="0.6"/>
<circle cx="151.44" cy="287.28" r="1.22" fill="#b8b8b8" stroke="#222" stroke-width="0.6"/>
<circle cx="151.78" cy="286.16" r="1.22" fill="#b8b8b8" stroke="#222" stroke-width="0.6"/>
<circle cx="149.75" cy="284.06" r="1.22" fill="#b8b8b8" stroke="#222" stroke-width="0.6"/>
<circle cx="148.49" cy="281.82" r="1.22" fill="#b8b8b8" stroke="#222" stroke-width="0.6"/>
<line x1="32.5" y1="252.1" x2="32.5" y2="309.1" stroke="#2a2a2a" stroke-width="1.1"/>
<line x1="32" y1="308.6" x2="174.5" y2="308.6" stroke="#2a2a2a" stroke-width="1.1"/>
<line x1="29.7" y1="308.6" x2="32.5" y2="308.6" stroke="#2a2a2a" stroke-width="1.1"/>
<text x="28" y="310.87" font-size="6.3" text-anchor="end" textLength="3" lengthAdjust="spacingAndGlyphs">0</text>
<line x1="29.7" y1="297.4" x2="32.5" y2="297.4" stroke="#2a2a2a" stroke-width="1.1"/>
<text x="28" y="299.67" font-size="6.3" text-anchor="end" textLength="3" lengthAdjust="spacingAndGlyphs">5</text>
<line x1="29.7" y1="286.2" x2="32.5" y2="286.2" stroke="#2a2a2a" stroke-width="1.1"/>
<text x="28" y="288.47" font-size="6.3" text-anchor="end" textLength="6" lengthAdjust="spacingAndGlyphs">10</text>
<line x1="29.7" y1="275" x2="32.5" y2="275" stroke="#2a2a2a" stroke-width="1.1"/>
<text x="28" y="277.27" font-size="6.3" text-anchor="end" textLength="6" lengthAdjust="spacingAndGlyphs">15</text>
<line x1="29.7" y1="263.8" x2="32.5" y2="263.8" stroke="#2a2a2a" stroke-width="1.1"/>
<text x="28" y="266.07" font-size="6.3" text-anchor="end" textLength="6" lengthAdjust="spacingAndGlyphs">20</text>
<line x1="29.7" y1="252.6" x2="32.5" y2="252.6" stroke="#2a2a2a" stroke-width="1.1"/>
<text x="28" y="254.87" font-size="6.3" text-anchor="end" textLength="6" lengthAdjust="spacingAndGlyphs">25</text>
<line x1="42.85" y1="308.6" x2="42.85" y2="311.7" stroke="#2a2a2a" stroke-width="0.9"/>
<line x1="58.03" y1="308.6" x2="58.03" y2="311.7" stroke="#2a2a2a" stroke-width="0.9"/>
<line x1="73.21" y1="308.6" x2="73.21" y2="311.7" stroke="#2a2a2a" stroke-width="0.9"/>
<line x1="88.39" y1="308.6" x2="88.39" y2="311.7" stroke="#2a2a2a" stroke-width="0.9"/>
<line x1="103.57" y1="308.6" x2="103.57" y2="311.7" stroke="#2a2a2a" stroke-width="0.9"/>
<line x1="118.75" y1="308.6" x2="118.75" y2="311.7" stroke="#2a2a2a" stroke-width="0.9"/>
<line x1="133.93" y1="308.6" x2="133.93" y2="311.7" stroke="#2a2a2a" stroke-width="0.9"/>
<line x1="149.11" y1="308.6" x2="149.11" y2="311.7" stroke="#2a2a2a" stroke-width="0.9"/>
<line x1="164.29" y1="308.6" x2="164.29" y2="311.7" stroke="#2a2a2a" stroke-width="0.9"/>
<text x="42.85" y="320.4" font-size="6.7" text-anchor="middle" textLength="12.3" lengthAdjust="spacingAndGlyphs">2mo</text>
<text x="58.03" y="320.4" font-size="6.7" text-anchor="middle" textLength="6.4" lengthAdjust="spacingAndGlyphs">1y</text>
<text x="73.21" y="320.4" font-size="6.7" text-anchor="middle" textLength="6.9" lengthAdjust="spacingAndGlyphs">2y</text>
<text x="88.39" y="320.4" font-size="6.7" text-anchor="middle" textLength="12.3" lengthAdjust="spacingAndGlyphs">2mo</text>
<text x="103.57" y="320.4" font-size="6.7" text-anchor="middle" textLength="6.4" lengthAdjust="spacingAndGlyphs">1y</text>
<text x="118.75" y="320.4" font-size="6.7" text-anchor="middle" textLength="6.9" lengthAdjust="spacingAndGlyphs">2y</text>
<text x="133.93" y="320.4" font-size="6.7" text-anchor="middle" textLength="12.3" lengthAdjust="spacingAndGlyphs">2mo</text>
<text x="149.11" y="320.4" font-size="6.7" text-anchor="middle" textLength="6.4" lengthAdjust="spacingAndGlyphs">1y</text>
<text x="164.29" y="320.4" font-size="6.7" text-anchor="middle" textLength="6.9" lengthAdjust="spacingAndGlyphs">2y</text>
<line x1="38.9" y1="323.6" x2="78.2" y2="323.6" stroke="#c6c6c6" stroke-width="1.35"/>
<text x="58.55" y="331.4" font-size="6.7" text-anchor="middle" textLength="23.2" lengthAdjust="spacingAndGlyphs">WT SPF</text>
<line x1="82.3" y1="323.6" x2="123.9" y2="323.6" stroke="#c6c6c6" stroke-width="1.35"/>
<text x="103.1" y="331.4" font-size="6.7" text-anchor="middle" textLength="41.5" lengthAdjust="spacingAndGlyphs">IL-1R1KO SPF</text>
<line x1="129.1" y1="323.6" x2="169.5" y2="323.6" stroke="#c6c6c6" stroke-width="1.35"/>
<text x="149.3" y="331.4" font-size="6.7" text-anchor="middle" textLength="20.8" lengthAdjust="spacingAndGlyphs">WT GF</text>
<text x="164.29" y="306.2" font-size="4.6" text-anchor="middle" textLength="8.2" lengthAdjust="spacingAndGlyphs">N.A.</text>
<line x1="41.7" y1="244.3" x2="132.6" y2="244.3" stroke="#bababa" stroke-width="1.05"/>
<path d="M42.8 241.15V243.25M41.89 241.68L43.71 242.73M41.89 242.73L43.71 241.68" stroke="#333" stroke-width="0.7" fill="none"/>
<path d="M45.85 241.15V243.25M44.94 241.68L46.76 242.73M44.94 242.73L46.76 241.68" stroke="#333" stroke-width="0.7" fill="none"/>
<path d="M48.9 241.15V243.25M47.99 241.68L49.81 242.73M47.99 242.73L49.81 241.68" stroke="#333" stroke-width="0.7" fill="none"/>
<path d="M51.95 241.15V243.25M51.04 241.68L52.86 242.73M51.04 242.73L52.86 241.68" stroke="#333" stroke-width="0.7" fill="none"/>
<line x1="88.4" y1="249.3" x2="132.6" y2="249.3" stroke="#bababa" stroke-width="1.05"/>
<path d="M89.5 246.15V248.25M88.59 246.68L90.41 247.73M88.59 247.73L90.41 246.68" stroke="#333" stroke-width="0.7" fill="none"/>
<path d="M92.55 246.15V248.25M91.64 246.68L93.46 247.73M91.64 247.73L93.46 246.68" stroke="#333" stroke-width="0.7" fill="none"/>
<path d="M95.6 246.15V248.25M94.69 246.68L96.51 247.73M94.69 247.73L96.51 246.68" stroke="#333" stroke-width="0.7" fill="none"/>
<path d="M98.65 246.15V248.25M97.74 246.68L99.56 247.73M97.74 247.73L99.56 246.68" stroke="#333" stroke-width="0.7" fill="none"/>
<line x1="41.7" y1="253.6" x2="72.7" y2="253.6" stroke="#bababa" stroke-width="1.05"/>
<path d="M42.8 250.45V252.55M41.89 250.97L43.71 252.03M41.89 252.03L43.71 250.97" stroke="#333" stroke-width="0.7" fill="none"/>
<path d="M45.85 250.45V252.55M44.94 250.97L46.76 252.03M44.94 252.03L46.76 250.97" stroke="#333" stroke-width="0.7" fill="none"/>
<path d="M48.9 250.45V252.55M47.99 250.97L49.81 252.03M47.99 252.03L49.81 250.97" stroke="#333" stroke-width="0.7" fill="none"/>
<path d="M51.95 250.45V252.55M51.04 250.97L52.86 252.03M51.04 252.03L52.86 250.97" stroke="#333" stroke-width="0.7" fill="none"/>
<line x1="88.4" y1="253.6" x2="118" y2="253.6" stroke="#bababa" stroke-width="1.05"/>
<path d="M89.5 250.45V252.55M88.59 250.97L90.41 252.03M88.59 252.03L90.41 250.97" stroke="#333" stroke-width="0.7" fill="none"/>
<path d="M92.55 250.45V252.55M91.64 250.97L93.46 252.03M91.64 252.03L93.46 250.97" stroke="#333" stroke-width="0.7" fill="none"/>
<path d="M95.6 250.45V252.55M94.69 250.97L96.51 252.03M94.69 252.03L96.51 250.97" stroke="#333" stroke-width="0.7" fill="none"/>
<line x1="41.7" y1="258.2" x2="56.6" y2="258.2" stroke="#bababa" stroke-width="1.05"/>
<path d="M42.8 255.05V257.15M41.89 255.57L43.71 256.62M41.89 256.62L43.71 255.57" stroke="#333" stroke-width="0.7" fill="none"/>
<path d="M45.85 255.05V257.15M44.94 255.57L46.76 256.62M44.94 256.62L46.76 255.57" stroke="#333" stroke-width="0.7" fill="none"/>
<path d="M48.9 255.05V257.15M47.99 255.57L49.81 256.62M47.99 256.62L49.81 255.57" stroke="#333" stroke-width="0.7" fill="none"/>
<path d="M51.95 255.05V257.15M51.04 255.57L52.86 256.62M51.04 256.62L52.86 255.57" stroke="#333" stroke-width="0.7" fill="none"/>
<line x1="88.4" y1="258.2" x2="102.4" y2="258.2" stroke="#bababa" stroke-width="1.05"/>
<path d="M89.5 255.05V257.15M88.59 255.57L90.41 256.62M88.59 256.62L90.41 255.57" stroke="#333" stroke-width="0.7" fill="none"/>
<path d="M92.55 255.05V257.15M91.64 255.57L93.46 256.62M91.64 256.62L93.46 255.57" stroke="#333" stroke-width="0.7" fill="none"/>
<path d="M95.6 255.05V257.15M94.69 255.57L96.51 256.62M94.69 256.62L96.51 255.57" stroke="#333" stroke-width="0.7" fill="none"/>
<path d="M98.65 255.05V257.15M97.74 255.57L99.56 256.62M97.74 256.62L99.56 255.57" stroke="#333" stroke-width="0.7" fill="none"/>
<text x="17.2" y="281" font-size="8.8" text-anchor="middle" textLength="62" lengthAdjust="spacingAndGlyphs" transform="rotate(-90 17.2 281)">WBC (x10<tspan font-size="5" dy="-2.5">9</tspan><tspan dy="2.5"> cells/L)</tspan></text>
<line x1="249.55" y1="252.2" x2="249.55" y2="308.7" stroke="#aaaaaa" stroke-width="0.85" stroke-dasharray="1 1.3"/>
<line x1="295.09" y1="252.2" x2="295.09" y2="308.7" stroke="#aaaaaa" stroke-width="0.85" stroke-dasharray="1 1.3"/>
<rect x="206.6" y="260.05" width="10" height="48.65" fill="#EDB3A6"/>
<rect x="221.78" y="267.05" width="10" height="41.65" fill="#DC6456"/>
<rect x="236.96" y="266.14" width="10" height="42.56" fill="#C8102E"/>
<rect x="252.14" y="261.45" width="10" height="47.25" fill="#AFB5D5"/>
<rect x="267.32" y="263.62" width="10" height="45.08" fill="#7483B1"/>
<rect x="282.5" y="266.14" width="10" height="42.56" fill="#1B4F8C"/>
<rect x="297.68" y="261.45" width="10" height="47.25" fill="#3DB54B"/>
<rect x="312.86" y="261.94" width="10" height="46.76" fill="#0B6B4C"/>
<line x1="211.6" y1="260.05" x2="211.6" y2="257.88" stroke="#151515" stroke-width="0.9"/>
<line x1="209" y1="257.88" x2="214.2" y2="257.88" stroke="#151515" stroke-width="0.9"/>
<line x1="226.78" y1="267.05" x2="226.78" y2="263.2" stroke="#151515" stroke-width="0.9"/>
<line x1="224.18" y1="263.2" x2="229.38" y2="263.2" stroke="#151515" stroke-width="0.9"/>
<line x1="241.96" y1="266.14" x2="241.96" y2="261.8" stroke="#151515" stroke-width="0.9"/>
<line x1="239.36" y1="261.8" x2="244.56" y2="261.8" stroke="#151515" stroke-width="0.9"/>
<line x1="257.14" y1="261.45" x2="257.14" y2="258.3" stroke="#151515" stroke-width="0.9"/>
<line x1="254.54" y1="258.3" x2="259.74" y2="258.3" stroke="#151515" stroke-width="0.9"/>
<line x1="272.32" y1="263.62" x2="272.32" y2="259.42" stroke="#151515" stroke-width="0.9"/>
<line x1="269.72" y1="259.42" x2="274.92" y2="259.42" stroke="#151515" stroke-width="0.9"/>
<line x1="287.5" y1="266.14" x2="287.5" y2="262.5" stroke="#151515" stroke-width="0.9"/>
<line x1="284.9" y1="262.5" x2="290.1" y2="262.5" stroke="#151515" stroke-width="0.9"/>
<line x1="302.68" y1="261.45" x2="302.68" y2="258.3" stroke="#151515" stroke-width="0.9"/>
<line x1="300.08" y1="258.3" x2="305.28" y2="258.3" stroke="#151515" stroke-width="0.9"/>
<line x1="317.86" y1="261.94" x2="317.86" y2="259.7" stroke="#151515" stroke-width="0.9"/>
<line x1="315.26" y1="259.7" x2="320.46" y2="259.7" stroke="#151515" stroke-width="0.9"/>
<circle cx="209.74" cy="262.2" r="1.22" fill="#b8b8b8" stroke="#222" stroke-width="0.6"/>
<circle cx="209.57" cy="261.76" r="1.22" fill="#b8b8b8" stroke="#222" stroke-width="0.6"/>
<circle cx="211.36" cy="261.59" r="1.22" fill="#b8b8b8" stroke="#222" stroke-width="0.6"/>
<circle cx="209.02" cy="261.39" r="1.22" fill="#b8b8b8" stroke="#222" stroke-width="0.6"/>
<circle cx="211.98" cy="260.61" r="1.22" fill="#b8b8b8" stroke="#222" stroke-width="0.6"/>
<circle cx="211.69" cy="260.41" r="1.22" fill="#b8b8b8" stroke="#222" stroke-width="0.6"/>
<circle cx="209.36" cy="260.02" r="1.22" fill="#b8b8b8" stroke="#222" stroke-width="0.6"/>
<circle cx="213.85" cy="259.78" r="1.22" fill="#b8b8b8" stroke="#222" stroke-width="0.6"/>
<circle cx="208.84" cy="259.61" r="1.22" fill="#b8b8b8" stroke="#222" stroke-width="0.6"/>
<circle cx="209.63" cy="259.57" r="1.22" fill="#b8b8b8" stroke="#222" stroke-width="0.6"/>
<circle cx="213.5" cy="259.09" r="1.22" fill="#b8b8b8" stroke="#222" stroke-width="0.6"/>
<circle cx="209.92" cy="257.41" r="1.22" fill="#b8b8b8" stroke="#222" stroke-width="0.6"/>
<circle cx="211.15" cy="257.23" r="1.22" fill="#b8b8b8" stroke="#222" stroke-width="0.6"/>
<circle cx="211.96" cy="257.09" r="1.22" fill="#b8b8b8" stroke="#222" stroke-width="0.6"/>
<circle cx="223.97" cy="279.63" r="1.22" fill="#b8b8b8" stroke="#222" stroke-width="0.6"/>
<circle cx="226.9" cy="278.21" r="1.22" fill="#b8b8b8" stroke="#222" stroke-width="0.6"/>
<circle cx="224.76" cy="277.79" r="1.22" fill="#b8b8b8" stroke="#222" stroke-width="0.6"/>
<circle cx="228.97" cy="277.41" r="1.22" fill="#b8b8b8" stroke="#222" stroke-width="0.6"/>
<circle cx="225.41" cy="275.78" r="1.22" fill="#b8b8b8" stroke="#222" stroke-width="0.6"/>
<circle cx="229.42" cy="273.9" r="1.22" fill="#b8b8b8" stroke="#222" stroke-width="0.6"/>
<circle cx="227.46" cy="272.39" r="1.22" fill="#b8b8b8" stroke="#222" stroke-width="0.6"/>
<circle cx="224.25" cy="270.45" r="1.22" fill="#b8b8b8" stroke="#222" stroke-width="0.6"/>
<circle cx="226.23" cy="270.43" r="1.22" fill="#b8b8b8" stroke="#222" stroke-width="0.6"/>
<circle cx="229.58" cy="270.09" r="1.22" fill="#b8b8b8" stroke="#222" stroke-width="0.6"/>
<circle cx="227.99" cy="269.89" r="1.22" fill="#b8b8b8" stroke="#222" stroke-width="0.6"/>
<circle cx="224.71" cy="269.63" r="1.22" fill="#b8b8b8" stroke="#222" stroke-width="0.6"/>
<circle cx="225.99" cy="269.08" r="1.22" fill="#b8b8b8" stroke="#222" stroke-width="0.6"/>
<circle cx="225.42" cy="268.97" r="1.22" fill="#b8b8b8" stroke="#222" stroke-width="0.6"/>
<circle cx="224.34" cy="267.94" r="1.22" fill="#b8b8b8" stroke="#222" stroke-width="0.6"/>
<circle cx="227.34" cy="267.9" r="1.22" fill="#b8b8b8" stroke="#222" stroke-width="0.6"/>
<circle cx="227.95" cy="267.64" r="1.22" fill="#b8b8b8" stroke="#222" stroke-width="0.6"/>
<circle cx="225.08" cy="267.36" r="1.22" fill="#b8b8b8" stroke="#222" stroke-width="0.6"/>
<circle cx="227.09" cy="265.37" r="1.22" fill="#b8b8b8" stroke="#222" stroke-width="0.6"/>
<circle cx="228.95" cy="265.31" r="1.22" fill="#b8b8b8" stroke="#222" stroke-width="0.6"/>
<circle cx="229.13" cy="263.98" r="1.22" fill="#b8b8b8" stroke="#222" stroke-width="0.6"/>
<circle cx="224.81" cy="263.77" r="1.22" fill="#b8b8b8" stroke="#222" stroke-width="0.6"/>
<circle cx="224.23" cy="262.66" r="1.22" fill="#b8b8b8" stroke="#222" stroke-width="0.6"/>
<circle cx="229.25" cy="262.46" r="1.22" fill="#b8b8b8" stroke="#222" stroke-width="0.6"/>
<circle cx="225.74" cy="262.41" r="1.22" fill="#b8b8b8" stroke="#222" stroke-width="0.6"/>
<circle cx="224.78" cy="258.61" r="1.22" fill="#b8b8b8" stroke="#222" stroke-width="0.6"/>
<circle cx="243.52" cy="281.63" r="1.22" fill="#b8b8b8" stroke="#222" stroke-width="0.6"/>
<circle cx="243.46" cy="280.93" r="1.22" fill="#b8b8b8" stroke="#222" stroke-width="0.6"/>
<circle cx="239.31" cy="280.04" r="1.22" fill="#b8b8b8" stroke="#222" stroke-width="0.6"/>
<circle cx="244.78" cy="276.23" r="1.22" fill="#b8b8b8" stroke="#222" stroke-width="0.6"/>
<circle cx="239.4" cy="276.22" r="1.22" fill="#b8b8b8" stroke="#222" stroke-width="0.6"/>
<circle cx="239.47" cy="275.87" r="1.22" fill="#b8b8b8" stroke="#222" stroke-width="0.6"/>
<circle cx="244.64" cy="275.15" r="1.22" fill="#b8b8b8" stroke="#222" stroke-width="0.6"/>
<circle cx="241.85" cy="272.06" r="1.22" fill="#b8b8b8" stroke="#222" stroke-width="0.6"/>
<circle cx="240.03" cy="271.8" r="1.22" fill="#b8b8b8" stroke="#222" stroke-width="0.6"/>
<circle cx="241.33" cy="271.24" r="1.22" fill="#b8b8b8" stroke="#222" stroke-width="0.6"/>
<circle cx="242.7" cy="270.81" r="1.22" fill="#b8b8b8" stroke="#222" stroke-width="0.6"/>
<circle cx="240.57" cy="270.52" r="1.22" fill="#b8b8b8" stroke="#222" stroke-width="0.6"/>
<circle cx="244.45" cy="270.14" r="1.22" fill="#b8b8b8" stroke="#222" stroke-width="0.6"/>
<circle cx="243.02" cy="269.78" r="1.22" fill="#b8b8b8" stroke="#222" stroke-width="0.6"/>
<circle cx="241.28" cy="268" r="1.22" fill="#b8b8b8" stroke="#222" stroke-width="0.6"/>
<circle cx="241.16" cy="265.28" r="1.22" fill="#b8b8b8" stroke="#222" stroke-width="0.6"/>
<circle cx="239.65" cy="265" r="1.22" fill="#b8b8b8" stroke="#222" stroke-width="0.6"/>
<circle cx="244.87" cy="264.68" r="1.22" fill="#b8b8b8" stroke="#222" stroke-width="0.6"/>
<circle cx="240.8" cy="263.78" r="1.22" fill="#b8b8b8" stroke="#222" stroke-width="0.6"/>
<circle cx="244.58" cy="263.16" r="1.22" fill="#b8b8b8" stroke="#222" stroke-width="0.6"/>
<circle cx="242.2" cy="262.05" r="1.22" fill="#b8b8b8" stroke="#222" stroke-width="0.6"/>
<circle cx="242.18" cy="261.61" r="1.22" fill="#b8b8b8" stroke="#222" stroke-width="0.6"/>
<circle cx="240.01" cy="261.3" r="1.22" fill="#b8b8b8" stroke="#222" stroke-width="0.6"/>
<circle cx="241.98" cy="260.87" r="1.22" fill="#b8b8b8" stroke="#222" stroke-width="0.6"/>
<circle cx="239.55" cy="259.48" r="1.22" fill="#b8b8b8" stroke="#222" stroke-width="0.6"/>
<circle cx="241.65" cy="258.9" r="1.22" fill="#b8b8b8" stroke="#222" stroke-width="0.6"/>
<circle cx="259.77" cy="274.17" r="1.22" fill="#b8b8b8" stroke="#222" stroke-width="0.6"/>
<circle cx="256.21" cy="272.78" r="1.22" fill="#b8b8b8" stroke="#222" stroke-width="0.6"/>
<circle cx="256.99" cy="272.05" r="1.22" fill="#b8b8b8" stroke="#222" stroke-width="0.6"/>
<circle cx="254.42" cy="269.63" r="1.22" fill="#b8b8b8" stroke="#222" stroke-width="0.6"/>
<circle cx="254.27" cy="267.99" r="1.22" fill="#b8b8b8" stroke="#222" stroke-width="0.6"/>
<circle cx="254.82" cy="267.94" r="1.22" fill="#b8b8b8" stroke="#222" stroke-width="0.6"/>
<circle cx="257.4" cy="267.06" r="1.22" fill="#b8b8b8" stroke="#222" stroke-width="0.6"/>
<circle cx="255.71" cy="266.92" r="1.22" fill="#b8b8b8" stroke="#222" stroke-width="0.6"/>
<circle cx="258.9" cy="262.21" r="1.22" fill="#b8b8b8" stroke="#222" stroke-width="0.6"/>
<circle cx="255.01" cy="260.93" r="1.22" fill="#b8b8b8" stroke="#222" stroke-width="0.6"/>
<circle cx="258.07" cy="260.47" r="1.22" fill="#b8b8b8" stroke="#222" stroke-width="0.6"/>
<circle cx="254.27" cy="260.35" r="1.22" fill="#b8b8b8" stroke="#222" stroke-width="0.6"/>
<circle cx="256.29" cy="259.83" r="1.22" fill="#b8b8b8" stroke="#222" stroke-width="0.6"/>
<circle cx="259.79" cy="258.42" r="1.22" fill="#b8b8b8" stroke="#222" stroke-width="0.6"/>
<circle cx="275.31" cy="272.54" r="1.22" fill="#b8b8b8" stroke="#222" stroke-width="0.6"/>
<circle cx="272.34" cy="271.95" r="1.22" fill="#b8b8b8" stroke="#222" stroke-width="0.6"/>
<circle cx="274.44" cy="271.83" r="1.22" fill="#b8b8b8" stroke="#222" stroke-width="0.6"/>
<circle cx="270.91" cy="270.79" r="1.22" fill="#b8b8b8" stroke="#222" stroke-width="0.6"/>
<circle cx="271.57" cy="268.67" r="1.22" fill="#b8b8b8" stroke="#222" stroke-width="0.6"/>
<circle cx="271.86" cy="268.63" r="1.22" fill="#b8b8b8" stroke="#222" stroke-width="0.6"/>
<circle cx="275.14" cy="267.68" r="1.22" fill="#b8b8b8" stroke="#222" stroke-width="0.6"/>
<circle cx="271.54" cy="266.57" r="1.22" fill="#b8b8b8" stroke="#222" stroke-width="0.6"/>
<circle cx="273.88" cy="265.67" r="1.22" fill="#b8b8b8" stroke="#222" stroke-width="0.6"/>
<circle cx="270.21" cy="265.45" r="1.22" fill="#b8b8b8" stroke="#222" stroke-width="0.6"/>
<circle cx="273.87" cy="264.44" r="1.22" fill="#b8b8b8" stroke="#222" stroke-width="0.6"/>
<circle cx="272.16" cy="262.61" r="1.22" fill="#b8b8b8" stroke="#222" stroke-width="0.6"/>
<circle cx="275.27" cy="260.81" r="1.22" fill="#b8b8b8" stroke="#222" stroke-width="0.6"/>
<circle cx="269.42" cy="260.62" r="1.22" fill="#b8b8b8" stroke="#222" stroke-width="0.6"/>
<circle cx="284.65" cy="277.48" r="1.22" fill="#b8b8b8" stroke="#222" stroke-width="0.6"/>
<circle cx="289.79" cy="274.22" r="1.22" fill="#b8b8b8" stroke="#222" stroke-width="0.6"/>
<circle cx="288.16" cy="273.95" r="1.22" fill="#b8b8b8" stroke="#222" stroke-width="0.6"/>
<circle cx="290.14" cy="273.9" r="1.22" fill="#b8b8b8" stroke="#222" stroke-width="0.6"/>
<circle cx="285.87" cy="269.93" r="1.22" fill="#b8b8b8" stroke="#222" stroke-width="0.6"/>
<circle cx="289.14" cy="269.3" r="1.22" fill="#b8b8b8" stroke="#222" stroke-width="0.6"/>
<circle cx="288.79" cy="269" r="1.22" fill="#b8b8b8" stroke="#222" stroke-width="0.6"/>
<circle cx="286.9" cy="267.83" r="1.22" fill="#b8b8b8" stroke="#222" stroke-width="0.6"/>
<circle cx="286.63" cy="267.78" r="1.22" fill="#b8b8b8" stroke="#222" stroke-width="0.6"/>
<circle cx="288.11" cy="267.66" r="1.22" fill="#b8b8b8" stroke="#222" stroke-width="0.6"/>
<circle cx="290.37" cy="266.63" r="1.22" fill="#b8b8b8" stroke="#222" stroke-width="0.6"/>
<circle cx="288.62" cy="265.11" r="1.22" fill="#b8b8b8" stroke="#222" stroke-width="0.6"/>
<circle cx="288.36" cy="263.79" r="1.22" fill="#b8b8b8" stroke="#222" stroke-width="0.6"/>
<circle cx="288.61" cy="263.16" r="1.22" fill="#b8b8b8" stroke="#222" stroke-width="0.6"/>
<circle cx="289.55" cy="263.02" r="1.22" fill="#b8b8b8" stroke="#222" stroke-width="0.6"/>
<circle cx="288.03" cy="261.21" r="1.22" fill="#b8b8b8" stroke="#222" stroke-width="0.6"/>
<circle cx="301.01" cy="270.03" r="1.22" fill="#b8b8b8" stroke="#222" stroke-width="0.6"/>
<circle cx="305.33" cy="268.26" r="1.22" fill="#b8b8b8" stroke="#222" stroke-width="0.6"/>
<circle cx="302.12" cy="267.12" r="1.22" fill="#b8b8b8" stroke="#222" stroke-width="0.6"/>
<circle cx="304.94" cy="264.57" r="1.22" fill="#b8b8b8" stroke="#222" stroke-width="0.6"/>
<circle cx="302.51" cy="263.63" r="1.22" fill="#b8b8b8" stroke="#222" stroke-width="0.6"/>
<circle cx="305.66" cy="263.49" r="1.22" fill="#b8b8b8" stroke="#222" stroke-width="0.6"/>
<circle cx="303.24" cy="263.43" r="1.22" fill="#b8b8b8" stroke="#222" stroke-width="0.6"/>
<circle cx="301.74" cy="263.26" r="1.22" fill="#b8b8b8" stroke="#222" stroke-width="0.6"/>
<circle cx="302.23" cy="260.51" r="1.22" fill="#b8b8b8" stroke="#222" stroke-width="0.6"/>
<circle cx="301.29" cy="259.77" r="1.22" fill="#b8b8b8" stroke="#222" stroke-width="0.6"/>
<circle cx="319.39" cy="265.91" r="1.22" fill="#b8b8b8" stroke="#222" stroke-width="0.6"/>
<circle cx="317.69" cy="265.5" r="1.22" fill="#b8b8b8" stroke="#222" stroke-width="0.6"/>
<circle cx="316.98" cy="265.05" r="1.22" fill="#b8b8b8" stroke="#222" stroke-width="0.6"/>
<circle cx="317.85" cy="264.7" r="1.22" fill="#b8b8b8" stroke="#222" stroke-width="0.6"/>
<circle cx="320.49" cy="264.01" r="1.22" fill="#b8b8b8" stroke="#222" stroke-width="0.6"/>
<circle cx="317.76" cy="263.53" r="1.22" fill="#b8b8b8" stroke="#222" stroke-width="0.6"/>
<circle cx="319.87" cy="262.53" r="1.22" fill="#b8b8b8" stroke="#222" stroke-width="0.6"/>
<circle cx="317.06" cy="261.53" r="1.22" fill="#b8b8b8" stroke="#222" stroke-width="0.6"/>
<circle cx="318.79" cy="260.33" r="1.22" fill="#b8b8b8" stroke="#222" stroke-width="0.6"/>
<circle cx="319.53" cy="260.08" r="1.22" fill="#b8b8b8" stroke="#222" stroke-width="0.6"/>
<line x1="201.25" y1="252.2" x2="201.25" y2="309.2" stroke="#2a2a2a" stroke-width="1.1"/>
<line x1="200.75" y1="308.7" x2="343.25" y2="308.7" stroke="#2a2a2a" stroke-width="1.1"/>
<line x1="198.45" y1="308.7" x2="201.25" y2="308.7" stroke="#2a2a2a" stroke-width="1.1"/>
<text x="196.75" y="310.97" font-size="6.3" text-anchor="end" textLength="6" lengthAdjust="spacingAndGlyphs">60</text>
<line x1="198.45" y1="294.7" x2="201.25" y2="294.7" stroke="#2a2a2a" stroke-width="1.1"/>
<text x="196.75" y="296.97" font-size="6.3" text-anchor="end" textLength="6" lengthAdjust="spacingAndGlyphs">70</text>
<line x1="198.45" y1="280.7" x2="201.25" y2="280.7" stroke="#2a2a2a" stroke-width="1.1"/>
<text x="196.75" y="282.97" font-size="6.3" text-anchor="end" textLength="6" lengthAdjust="spacingAndGlyphs">80</text>
<line x1="198.45" y1="266.7" x2="201.25" y2="266.7" stroke="#2a2a2a" stroke-width="1.1"/>
<text x="196.75" y="268.97" font-size="6.3" text-anchor="end" textLength="6" lengthAdjust="spacingAndGlyphs">90</text>
<line x1="198.45" y1="252.7" x2="201.25" y2="252.7" stroke="#2a2a2a" stroke-width="1.1"/>
<text x="196.75" y="254.97" font-size="6.3" text-anchor="end" textLength="9" lengthAdjust="spacingAndGlyphs">100</text>
<line x1="211.6" y1="308.7" x2="211.6" y2="311.8" stroke="#2a2a2a" stroke-width="0.9"/>
<line x1="226.78" y1="308.7" x2="226.78" y2="311.8" stroke="#2a2a2a" stroke-width="0.9"/>
<line x1="241.96" y1="308.7" x2="241.96" y2="311.8" stroke="#2a2a2a" stroke-width="0.9"/>
<line x1="257.14" y1="308.7" x2="257.14" y2="311.8" stroke="#2a2a2a" stroke-width="0.9"/>
<line x1="272.32" y1="308.7" x2="272.32" y2="311.8" stroke="#2a2a2a" stroke-width="0.9"/>
<line x1="287.5" y1="308.7" x2="287.5" y2="311.8" stroke="#2a2a2a" stroke-width="0.9"/>
<line x1="302.68" y1="308.7" x2="302.68" y2="311.8" stroke="#2a2a2a" stroke-width="0.9"/>
<line x1="317.86" y1="308.7" x2="317.86" y2="311.8" stroke="#2a2a2a" stroke-width="0.9"/>
<line x1="333.04" y1="308.7" x2="333.04" y2="311.8" stroke="#2a2a2a" stroke-width="0.9"/>
<text x="211.6" y="320.5" font-size="6.7" text-anchor="middle" textLength="12.3" lengthAdjust="spacingAndGlyphs">2mo</text>
<text x="226.78" y="320.5" font-size="6.7" text-anchor="middle" textLength="6.4" lengthAdjust="spacingAndGlyphs">1y</text>
<text x="241.96" y="320.5" font-size="6.7" text-anchor="middle" textLength="6.9" lengthAdjust="spacingAndGlyphs">2y</text>
<text x="257.14" y="320.5" font-size="6.7" text-anchor="middle" textLength="12.3" lengthAdjust="spacingAndGlyphs">2mo</text>
<text x="272.32" y="320.5" font-size="6.7" text-anchor="middle" textLength="6.4" lengthAdjust="spacingAndGlyphs">1y</text>
<text x="287.5" y="320.5" font-size="6.7" text-anchor="middle" textLength="6.9" lengthAdjust="spacingAndGlyphs">2y</text>
<text x="302.68" y="320.5" font-size="6.7" text-anchor="middle" textLength="12.3" lengthAdjust="spacingAndGlyphs">2mo</text>
<text x="317.86" y="320.5" font-size="6.7" text-anchor="middle" textLength="6.4" lengthAdjust="spacingAndGlyphs">1y</text>
<text x="333.04" y="320.5" font-size="6.7" text-anchor="middle" textLength="6.9" lengthAdjust="spacingAndGlyphs">2y</text>
<line x1="207.65" y1="323.7" x2="246.95" y2="323.7" stroke="#c6c6c6" stroke-width="1.35"/>
<text x="227.3" y="331.5" font-size="6.7" text-anchor="middle" textLength="23.2" lengthAdjust="spacingAndGlyphs">WT SPF</text>
<line x1="251.05" y1="323.7" x2="292.65" y2="323.7" stroke="#c6c6c6" stroke-width="1.35"/>
<text x="271.85" y="331.5" font-size="6.7" text-anchor="middle" textLength="41.5" lengthAdjust="spacingAndGlyphs">IL-1R1KO SPF</text>
<line x1="297.85" y1="323.7" x2="338.25" y2="323.7" stroke="#c6c6c6" stroke-width="1.35"/>
<text x="318.05" y="331.5" font-size="6.7" text-anchor="middle" textLength="20.8" lengthAdjust="spacingAndGlyphs">WT GF</text>
<text x="333.04" y="306.3" font-size="4.6" text-anchor="middle" textLength="8.2" lengthAdjust="spacingAndGlyphs">N.A.</text>
<line x1="228" y1="239.2" x2="317.7" y2="239.2" stroke="#bababa" stroke-width="1.05"/>
<path d="M229.1 236.05V238.15M228.19 236.57L230.01 237.62M228.19 237.62L230.01 236.57" stroke="#333" stroke-width="0.7" fill="none"/>
<path d="M232.15 236.05V238.15M231.24 236.57L233.06 237.62M231.24 237.62L233.06 236.57" stroke="#333" stroke-width="0.7" fill="none"/>
<line x1="228" y1="243.4" x2="273.9" y2="243.4" stroke="#bababa" stroke-width="1.05"/>
<path d="M229.1 240.25V242.35M228.19 240.78L230.01 241.83M228.19 241.83L230.01 240.78" stroke="#333" stroke-width="0.7" fill="none"/>
<line x1="211.2" y1="248.3" x2="241.8" y2="248.3" stroke="#bababa" stroke-width="1.05"/>
<path d="M212.3 245.15V247.25M211.39 245.68L213.21 246.73M211.39 246.73L213.21 245.68" stroke="#333" stroke-width="0.7" fill="none"/>
<path d="M215.35 245.15V247.25M214.44 245.68L216.26 246.73M214.44 246.73L216.26 245.68" stroke="#333" stroke-width="0.7" fill="none"/>
<path d="M218.4 245.15V247.25M217.49 245.68L219.31 246.73M217.49 246.73L219.31 245.68" stroke="#333" stroke-width="0.7" fill="none"/>
<line x1="257.2" y1="248.6" x2="287.8" y2="248.6" stroke="#bababa" stroke-width="1.05"/>
<path d="M258.3 245.45V247.55M257.39 245.97L259.21 247.03M257.39 247.03L259.21 245.97" stroke="#333" stroke-width="0.7" fill="none"/>
<path d="M261.35 245.45V247.55M260.44 245.97L262.26 247.03M260.44 247.03L262.26 245.97" stroke="#333" stroke-width="0.7" fill="none"/>
<line x1="211.2" y1="252.3" x2="226.5" y2="252.3" stroke="#bababa" stroke-width="1.05"/>
<path d="M212.3 249.15V251.25M211.39 249.68L213.21 250.73M211.39 250.73L213.21 249.68" stroke="#333" stroke-width="0.7" fill="none"/>
<path d="M215.35 249.15V251.25M214.44 249.68L216.26 250.73M214.44 250.73L216.26 249.68" stroke="#333" stroke-width="0.7" fill="none"/>
<path d="M218.4 249.15V251.25M217.49 249.68L219.31 250.73M217.49 250.73L219.31 249.68" stroke="#333" stroke-width="0.7" fill="none"/>
<path d="M221.45 249.15V251.25M220.54 249.68L222.36 250.73M220.54 250.73L222.36 249.68" stroke="#333" stroke-width="0.7" fill="none"/>
<text x="185.3" y="280.9" font-size="8.9" text-anchor="middle" textLength="81.5" lengthAdjust="spacingAndGlyphs" transform="rotate(-90 185.3 280.9)">Lymphocytes (% of WBC)</text>
<line x1="424.55" y1="252.5" x2="424.55" y2="309" stroke="#aaaaaa" stroke-width="0.85" stroke-dasharray="1 1.3"/>
<line x1="470.09" y1="252.5" x2="470.09" y2="309" stroke="#aaaaaa" stroke-width="0.85" stroke-dasharray="1 1.3"/>
<rect x="381.6" y="297.8" width="10" height="11.2" fill="#EDB3A6"/>
<rect x="396.78" y="294.16" width="10" height="14.84" fill="#DC6456"/>
<rect x="411.96" y="293.88" width="10" height="15.12" fill="#C8102E"/>
<rect x="427.14" y="296.68" width="10" height="12.32" fill="#AFB5D5"/>
<rect x="442.32" y="294.16" width="10" height="14.84" fill="#7483B1"/>
<rect x="457.5" y="292.48" width="10" height="16.52" fill="#1B4F8C"/>
<rect x="472.68" y="298.64" width="10" height="10.36" fill="#3DB54B"/>
<rect x="487.86" y="298.64" width="10" height="10.36" fill="#0B6B4C"/>
<line x1="386.6" y1="297.8" x2="386.6" y2="295" stroke="#151515" stroke-width="0.9"/>
<line x1="384" y1="295" x2="389.2" y2="295" stroke="#151515" stroke-width="0.9"/>
<line x1="401.78" y1="294.16" x2="401.78" y2="289.96" stroke="#151515" stroke-width="0.9"/>
<line x1="399.18" y1="289.96" x2="404.38" y2="289.96" stroke="#151515" stroke-width="0.9"/>
<line x1="416.96" y1="293.88" x2="416.96" y2="286.6" stroke="#151515" stroke-width="0.9"/>
<line x1="414.36" y1="286.6" x2="419.56" y2="286.6" stroke="#151515" stroke-width="0.9"/>
<line x1="432.14" y1="296.68" x2="432.14" y2="288" stroke="#151515" stroke-width="0.9"/>
<line x1="429.54" y1="288" x2="434.74" y2="288" stroke="#151515" stroke-width="0.9"/>
<line x1="447.32" y1="294.16" x2="447.32" y2="282.96" stroke="#151515" stroke-width="0.9"/>
<line x1="444.72" y1="282.96" x2="449.92" y2="282.96" stroke="#151515" stroke-width="0.9"/>
<line x1="462.5" y1="292.48" x2="462.5" y2="286.6" stroke="#151515" stroke-width="0.9"/>
<line x1="459.9" y1="286.6" x2="465.1" y2="286.6" stroke="#151515" stroke-width="0.9"/>
<line x1="477.68" y1="298.64" x2="477.68" y2="295" stroke="#151515" stroke-width="0.9"/>
<line x1="475.08" y1="295" x2="480.28" y2="295" stroke="#151515" stroke-width="0.9"/>
<line x1="492.86" y1="298.64" x2="492.86" y2="295.56" stroke="#151515" stroke-width="0.9"/>
<line x1="490.26" y1="295.56" x2="495.46" y2="295.56" stroke="#151515" stroke-width="0.9"/>
<circle cx="385.36" cy="302.06" r="1.22" fill="#b8b8b8" stroke="#222" stroke-width="0.6"/>
<circle cx="386.86" cy="301.78" r="1.22" fill="#b8b8b8" stroke="#222" stroke-width="0.6"/>
<circle cx="384.35" cy="299.83" r="1.22" fill="#b8b8b8" stroke="#222" stroke-width="0.6"/>
<circle cx="383.86" cy="299.67" r="1.22" fill="#b8b8b8" stroke="#222" stroke-width="0.6"/>
<circle cx="383.65" cy="298.33" r="1.22" fill="#b8b8b8" stroke="#222" stroke-width="0.6"/>
<circle cx="387.2" cy="297.78" r="1.22" fill="#b8b8b8" stroke="#222" stroke-width="0.6"/>
<circle cx="386.97" cy="296.71" r="1.22" fill="#b8b8b8" stroke="#222" stroke-width="0.6"/>
<circle cx="388.5" cy="296.67" r="1.22" fill="#b8b8b8" stroke="#222" stroke-width="0.6"/>
<circle cx="388.71" cy="295.86" r="1.22" fill="#b8b8b8" stroke="#222" stroke-width="0.6"/>
<circle cx="386.14" cy="294.71" r="1.22" fill="#b8b8b8" stroke="#222" stroke-width="0.6"/>
<circle cx="388.68" cy="294.13" r="1.22" fill="#b8b8b8" stroke="#222" stroke-width="0.6"/>
<circle cx="384.8" cy="293.9" r="1.22" fill="#b8b8b8" stroke="#222" stroke-width="0.6"/>
<circle cx="388.89" cy="293.85" r="1.22" fill="#b8b8b8" stroke="#222" stroke-width="0.6"/>
<circle cx="385.1" cy="292.55" r="1.22" fill="#b8b8b8" stroke="#222" stroke-width="0.6"/>
<circle cx="389.24" cy="290.8" r="1.22" fill="#b8b8b8" stroke="#222" stroke-width="0.6"/>
<circle cx="401.35" cy="301.71" r="1.22" fill="#b8b8b8" stroke="#222" stroke-width="0.6"/>
<circle cx="399.16" cy="301.32" r="1.22" fill="#b8b8b8" stroke="#222" stroke-width="0.6"/>
<circle cx="399.79" cy="301.09" r="1.22" fill="#b8b8b8" stroke="#222" stroke-width="0.6"/>
<circle cx="399.37" cy="299.94" r="1.22" fill="#b8b8b8" stroke="#222" stroke-width="0.6"/>
<circle cx="402.43" cy="299.79" r="1.22" fill="#b8b8b8" stroke="#222" stroke-width="0.6"/>
<circle cx="398.98" cy="299.68" r="1.22" fill="#b8b8b8" stroke="#222" stroke-width="0.6"/>
<circle cx="398.9" cy="298.31" r="1.22" fill="#b8b8b8" stroke="#222" stroke-width="0.6"/>
<circle cx="402.86" cy="297.5" r="1.22" fill="#b8b8b8" stroke="#222" stroke-width="0.6"/>
<circle cx="401.32" cy="296.3" r="1.22" fill="#b8b8b8" stroke="#222" stroke-width="0.6"/>
<circle cx="398.92" cy="295.99" r="1.22" fill="#b8b8b8" stroke="#222" stroke-width="0.6"/>
<circle cx="404.42" cy="295.52" r="1.22" fill="#b8b8b8" stroke="#222" stroke-width="0.6"/>
<circle cx="401.72" cy="295.52" r="1.22" fill="#b8b8b8" stroke="#222" stroke-width="0.6"/>
<circle cx="404.4" cy="295.41" r="1.22" fill="#b8b8b8" stroke="#222" stroke-width="0.6"/>
<circle cx="402.67" cy="294.42" r="1.22" fill="#b8b8b8" stroke="#222" stroke-width="0.6"/>
<circle cx="402.06" cy="294.05" r="1.22" fill="#b8b8b8" stroke="#222" stroke-width="0.6"/>
<circle cx="401.15" cy="293.63" r="1.22" fill="#b8b8b8" stroke="#222" stroke-width="0.6"/>
<circle cx="399.38" cy="293.61" r="1.22" fill="#b8b8b8" stroke="#222" stroke-width="0.6"/>
<circle cx="404.57" cy="293.25" r="1.22" fill="#b8b8b8" stroke="#222" stroke-width="0.6"/>
<circle cx="401.42" cy="292.45" r="1.22" fill="#b8b8b8" stroke="#222" stroke-width="0.6"/>
<circle cx="400.62" cy="291.88" r="1.22" fill="#b8b8b8" stroke="#222" stroke-width="0.6"/>
<circle cx="399.65" cy="291.23" r="1.22" fill="#b8b8b8" stroke="#222" stroke-width="0.6"/>
<circle cx="402.35" cy="289.93" r="1.22" fill="#b8b8b8" stroke="#222" stroke-width="0.6"/>
<circle cx="404.68" cy="289.79" r="1.22" fill="#b8b8b8" stroke="#222" stroke-width="0.6"/>
<circle cx="401.19" cy="287.66" r="1.22" fill="#b8b8b8" stroke="#222" stroke-width="0.6"/>
<circle cx="418.63" cy="304.87" r="1.22" fill="#b8b8b8" stroke="#222" stroke-width="0.6"/>
<circle cx="415.61" cy="304.69" r="1.22" fill="#b8b8b8" stroke="#222" stroke-width="0.6"/>
<circle cx="417.85" cy="303.6" r="1.22" fill="#b8b8b8" stroke="#222" stroke-width="0.6"/>
<circle cx="419.78" cy="302.98" r="1.22" fill="#b8b8b8" stroke="#222" stroke-width="0.6"/>
<circle cx="417.44" cy="302.37" r="1.22" fill="#b8b8b8" stroke="#222" stroke-width="0.6"/>
<circle cx="416.8" cy="300.85" r="1.22" fill="#b8b8b8" stroke="#222" stroke-width="0.6"/>
<circle cx="414.25" cy="300.47" r="1.22" fill="#b8b8b8" stroke="#222" stroke-width="0.6"/>
<circle cx="415.53" cy="300.34" r="1.22" fill="#b8b8b8" stroke="#222" stroke-width="0.6"/>
<circle cx="419.66" cy="298.66" r="1.22" fill="#b8b8b8" stroke="#222" stroke-width="0.6"/>
<circle cx="414.3" cy="296.45" r="1.22" fill="#b8b8b8" stroke="#222" stroke-width="0.6"/>
<circle cx="414.28" cy="295.01" r="1.22" fill="#b8b8b8" stroke="#222" stroke-width="0.6"/>
<circle cx="417.58" cy="294.47" r="1.22" fill="#b8b8b8" stroke="#222" stroke-width="0.6"/>
<circle cx="415.81" cy="293.98" r="1.22" fill="#b8b8b8" stroke="#222" stroke-width="0.6"/>
<circle cx="417.55" cy="292.27" r="1.22" fill="#b8b8b8" stroke="#222" stroke-width="0.6"/>
<circle cx="415.35" cy="292.03" r="1.22" fill="#b8b8b8" stroke="#222" stroke-width="0.6"/>
<circle cx="415.28" cy="291.74" r="1.22" fill="#b8b8b8" stroke="#222" stroke-width="0.6"/>
<circle cx="415.47" cy="291.56" r="1.22" fill="#b8b8b8" stroke="#222" stroke-width="0.6"/>
<circle cx="418.25" cy="289.75" r="1.22" fill="#b8b8b8" stroke="#222" stroke-width="0.6"/>
<circle cx="418.12" cy="289.23" r="1.22" fill="#b8b8b8" stroke="#222" stroke-width="0.6"/>
<circle cx="414.13" cy="287.82" r="1.22" fill="#b8b8b8" stroke="#222" stroke-width="0.6"/>
<circle cx="418.21" cy="287.49" r="1.22" fill="#b8b8b8" stroke="#222" stroke-width="0.6"/>
<circle cx="418.54" cy="285.73" r="1.22" fill="#b8b8b8" stroke="#222" stroke-width="0.6"/>
<circle cx="416.77" cy="271.2" r="1.22" fill="#b8b8b8" stroke="#222" stroke-width="0.6"/>
<circle cx="414.53" cy="270.36" r="1.22" fill="#b8b8b8" stroke="#222" stroke-width="0.6"/>
<circle cx="431.94" cy="304.78" r="1.22" fill="#b8b8b8" stroke="#222" stroke-width="0.6"/>
<circle cx="430.74" cy="298.83" r="1.22" fill="#b8b8b8" stroke="#222" stroke-width="0.6"/>
<circle cx="433.29" cy="298.43" r="1.22" fill="#b8b8b8" stroke="#222" stroke-width="0.6"/>
<circle cx="430.95" cy="298.15" r="1.22" fill="#b8b8b8" stroke="#222" stroke-width="0.6"/>
<circle cx="432.45" cy="297.79" r="1.22" fill="#b8b8b8" stroke="#222" stroke-width="0.6"/>
<circle cx="434.68" cy="297.7" r="1.22" fill="#b8b8b8" stroke="#222" stroke-width="0.6"/>
<circle cx="433.08" cy="295.2" r="1.22" fill="#b8b8b8" stroke="#222" stroke-width="0.6"/>
<circle cx="431.25" cy="294.74" r="1.22" fill="#b8b8b8" stroke="#222" stroke-width="0.6"/>
<circle cx="429.96" cy="294.7" r="1.22" fill="#b8b8b8" stroke="#222" stroke-width="0.6"/>
<circle cx="432.12" cy="293.91" r="1.22" fill="#b8b8b8" stroke="#222" stroke-width="0.6"/>
<circle cx="429.43" cy="293.28" r="1.22" fill="#b8b8b8" stroke="#222" stroke-width="0.6"/>
<circle cx="433.78" cy="291.17" r="1.22" fill="#b8b8b8" stroke="#222" stroke-width="0.6"/>
<circle cx="431.94" cy="289.54" r="1.22" fill="#b8b8b8" stroke="#222" stroke-width="0.6"/>
<circle cx="431.82" cy="288.35" r="1.22" fill="#b8b8b8" stroke="#222" stroke-width="0.6"/>
<circle cx="430.93" cy="275.96" r="1.22" fill="#b8b8b8" stroke="#222" stroke-width="0.6"/>
<circle cx="433.35" cy="275.4" r="1.22" fill="#b8b8b8" stroke="#222" stroke-width="0.6"/>
<circle cx="444.72" cy="305.43" r="1.22" fill="#b8b8b8" stroke="#222" stroke-width="0.6"/>
<circle cx="450.23" cy="304.32" r="1.22" fill="#b8b8b8" stroke="#222" stroke-width="0.6"/>
<circle cx="447.34" cy="300.66" r="1.22" fill="#b8b8b8" stroke="#222" stroke-width="0.6"/>
<circle cx="444.52" cy="295.68" r="1.22" fill="#b8b8b8" stroke="#222" stroke-width="0.6"/>
<circle cx="446.14" cy="295.26" r="1.22" fill="#b8b8b8" stroke="#222" stroke-width="0.6"/>
<circle cx="448.06" cy="294.97" r="1.22" fill="#b8b8b8" stroke="#222" stroke-width="0.6"/>
<circle cx="449.45" cy="294.13" r="1.22" fill="#b8b8b8" stroke="#222" stroke-width="0.6"/>
<circle cx="449.84" cy="293.6" r="1.22" fill="#b8b8b8" stroke="#222" stroke-width="0.6"/>
<circle cx="446.51" cy="292.65" r="1.22" fill="#b8b8b8" stroke="#222" stroke-width="0.6"/>
<circle cx="449.68" cy="292.12" r="1.22" fill="#b8b8b8" stroke="#222" stroke-width="0.6"/>
<circle cx="447.37" cy="290.92" r="1.22" fill="#b8b8b8" stroke="#222" stroke-width="0.6"/>
<circle cx="447.76" cy="289.95" r="1.22" fill="#b8b8b8" stroke="#222" stroke-width="0.6"/>
<circle cx="449.54" cy="289.93" r="1.22" fill="#b8b8b8" stroke="#222" stroke-width="0.6"/>
<circle cx="448.62" cy="287.42" r="1.22" fill="#b8b8b8" stroke="#222" stroke-width="0.6"/>
<circle cx="447.71" cy="266.44" r="1.22" fill="#b8b8b8" stroke="#222" stroke-width="0.6"/>
<circle cx="444.42" cy="265.6" r="1.22" fill="#b8b8b8" stroke="#222" stroke-width="0.6"/>
<circle cx="461.35" cy="301.47" r="1.22" fill="#b8b8b8" stroke="#222" stroke-width="0.6"/>
<circle cx="463.05" cy="300.96" r="1.22" fill="#b8b8b8" stroke="#222" stroke-width="0.6"/>
<circle cx="462.46" cy="300.34" r="1.22" fill="#b8b8b8" stroke="#222" stroke-width="0.6"/>
<circle cx="461.89" cy="298.87" r="1.22" fill="#b8b8b8" stroke="#222" stroke-width="0.6"/>
<circle cx="460.72" cy="293.94" r="1.22" fill="#b8b8b8" stroke="#222" stroke-width="0.6"/>
<circle cx="462.21" cy="293.87" r="1.22" fill="#b8b8b8" stroke="#222" stroke-width="0.6"/>
<circle cx="460.46" cy="293.77" r="1.22" fill="#b8b8b8" stroke="#222" stroke-width="0.6"/>
<circle cx="463.31" cy="291.51" r="1.22" fill="#b8b8b8" stroke="#222" stroke-width="0.6"/>
<circle cx="460.39" cy="290.42" r="1.22" fill="#b8b8b8" stroke="#222" stroke-width="0.6"/>
<circle cx="460.41" cy="289.39" r="1.22" fill="#b8b8b8" stroke="#222" stroke-width="0.6"/>
<circle cx="465.11" cy="289.21" r="1.22" fill="#b8b8b8" stroke="#222" stroke-width="0.6"/>
<circle cx="459.64" cy="287.41" r="1.22" fill="#b8b8b8" stroke="#222" stroke-width="0.6"/>
<circle cx="461.63" cy="284.48" r="1.22" fill="#b8b8b8" stroke="#222" stroke-width="0.6"/>
<circle cx="462.48" cy="283.89" r="1.22" fill="#b8b8b8" stroke="#222" stroke-width="0.6"/>
<circle cx="460.12" cy="278.2" r="1.22" fill="#b8b8b8" stroke="#222" stroke-width="0.6"/>
<circle cx="461.67" cy="277.64" r="1.22" fill="#b8b8b8" stroke="#222" stroke-width="0.6"/>
<circle cx="477.9" cy="300.12" r="1.22" fill="#b8b8b8" stroke="#222" stroke-width="0.6"/>
<circle cx="480.25" cy="300.02" r="1.22" fill="#b8b8b8" stroke="#222" stroke-width="0.6"/>
<circle cx="476.36" cy="297.66" r="1.22" fill="#b8b8b8" stroke="#222" stroke-width="0.6"/>
<circle cx="477.51" cy="297.39" r="1.22" fill="#b8b8b8" stroke="#222" stroke-width="0.6"/>
<circle cx="476.81" cy="297.05" r="1.22" fill="#b8b8b8" stroke="#222" stroke-width="0.6"/>
<circle cx="476.41" cy="296.39" r="1.22" fill="#b8b8b8" stroke="#222" stroke-width="0.6"/>
<circle cx="480.4" cy="290.52" r="1.22" fill="#b8b8b8" stroke="#222" stroke-width="0.6"/>
<circle cx="495.63" cy="301.58" r="1.22" fill="#b8b8b8" stroke="#222" stroke-width="0.6"/>
<circle cx="494.07" cy="301.13" r="1.22" fill="#b8b8b8" stroke="#222" stroke-width="0.6"/>
<circle cx="491.39" cy="299.73" r="1.22" fill="#b8b8b8" stroke="#222" stroke-width="0.6"/>
<circle cx="494.43" cy="299.59" r="1.22" fill="#b8b8b8" stroke="#222" stroke-width="0.6"/>
<circle cx="492.95" cy="295.58" r="1.22" fill="#b8b8b8" stroke="#222" stroke-width="0.6"/>
<circle cx="492.42" cy="295.39" r="1.22" fill="#b8b8b8" stroke="#222" stroke-width="0.6"/>
<circle cx="490.84" cy="295.18" r="1.22" fill="#b8b8b8" stroke="#222" stroke-width="0.6"/>
<circle cx="494.8" cy="294.73" r="1.22" fill="#b8b8b8" stroke="#222" stroke-width="0.6"/>
<line x1="376.25" y1="252.5" x2="376.25" y2="309.5" stroke="#2a2a2a" stroke-width="1.1"/>
<line x1="375.75" y1="309" x2="515.65" y2="309" stroke="#2a2a2a" stroke-width="1.1"/>
<line x1="373.45" y1="309" x2="376.25" y2="309" stroke="#2a2a2a" stroke-width="1.1"/>
<text x="371.75" y="311.27" font-size="6.3" text-anchor="end" textLength="3" lengthAdjust="spacingAndGlyphs">0</text>
<line x1="373.45" y1="295" x2="376.25" y2="295" stroke="#2a2a2a" stroke-width="1.1"/>
<text x="371.75" y="297.27" font-size="6.3" text-anchor="end" textLength="3" lengthAdjust="spacingAndGlyphs">5</text>
<line x1="373.45" y1="281" x2="376.25" y2="281" stroke="#2a2a2a" stroke-width="1.1"/>
<text x="371.75" y="283.27" font-size="6.3" text-anchor="end" textLength="6" lengthAdjust="spacingAndGlyphs">10</text>
<line x1="373.45" y1="267" x2="376.25" y2="267" stroke="#2a2a2a" stroke-width="1.1"/>
<text x="371.75" y="269.27" font-size="6.3" text-anchor="end" textLength="6" lengthAdjust="spacingAndGlyphs">15</text>
<line x1="373.45" y1="253" x2="376.25" y2="253" stroke="#2a2a2a" stroke-width="1.1"/>
<text x="371.75" y="255.27" font-size="6.3" text-anchor="end" textLength="6" lengthAdjust="spacingAndGlyphs">20</text>
<line x1="386.6" y1="309" x2="386.6" y2="312.1" stroke="#2a2a2a" stroke-width="0.9"/>
<line x1="401.78" y1="309" x2="401.78" y2="312.1" stroke="#2a2a2a" stroke-width="0.9"/>
<line x1="416.96" y1="309" x2="416.96" y2="312.1" stroke="#2a2a2a" stroke-width="0.9"/>
<line x1="432.14" y1="309" x2="432.14" y2="312.1" stroke="#2a2a2a" stroke-width="0.9"/>
<line x1="447.32" y1="309" x2="447.32" y2="312.1" stroke="#2a2a2a" stroke-width="0.9"/>
<line x1="462.5" y1="309" x2="462.5" y2="312.1" stroke="#2a2a2a" stroke-width="0.9"/>
<line x1="477.68" y1="309" x2="477.68" y2="312.1" stroke="#2a2a2a" stroke-width="0.9"/>
<line x1="492.86" y1="309" x2="492.86" y2="312.1" stroke="#2a2a2a" stroke-width="0.9"/>
<line x1="508.04" y1="309" x2="508.04" y2="312.1" stroke="#2a2a2a" stroke-width="0.9"/>
<text x="386.6" y="320.8" font-size="6.7" text-anchor="middle" textLength="12.3" lengthAdjust="spacingAndGlyphs">2mo</text>
<text x="401.78" y="320.8" font-size="6.7" text-anchor="middle" textLength="6.4" lengthAdjust="spacingAndGlyphs">1y</text>
<text x="416.96" y="320.8" font-size="6.7" text-anchor="middle" textLength="6.9" lengthAdjust="spacingAndGlyphs">2y</text>
<text x="432.14" y="320.8" font-size="6.7" text-anchor="middle" textLength="12.3" lengthAdjust="spacingAndGlyphs">2mo</text>
<text x="447.32" y="320.8" font-size="6.7" text-anchor="middle" textLength="6.4" lengthAdjust="spacingAndGlyphs">1y</text>
<text x="462.5" y="320.8" font-size="6.7" text-anchor="middle" textLength="6.9" lengthAdjust="spacingAndGlyphs">2y</text>
<text x="477.68" y="320.8" font-size="6.7" text-anchor="middle" textLength="12.3" lengthAdjust="spacingAndGlyphs">2mo</text>
<text x="492.86" y="320.8" font-size="6.7" text-anchor="middle" textLength="6.4" lengthAdjust="spacingAndGlyphs">1y</text>
<text x="508.04" y="320.8" font-size="6.7" text-anchor="middle" textLength="6.9" lengthAdjust="spacingAndGlyphs">2y</text>
<line x1="382.65" y1="324" x2="421.95" y2="324" stroke="#c6c6c6" stroke-width="1.35"/>
<text x="402.3" y="331.8" font-size="6.7" text-anchor="middle" textLength="23.2" lengthAdjust="spacingAndGlyphs">WT SPF</text>
<line x1="426.05" y1="324" x2="467.65" y2="324" stroke="#c6c6c6" stroke-width="1.35"/>
<text x="446.85" y="331.8" font-size="6.7" text-anchor="middle" textLength="41.5" lengthAdjust="spacingAndGlyphs">IL-1R1KO SPF</text>
<line x1="472.85" y1="324" x2="513.25" y2="324" stroke="#c6c6c6" stroke-width="1.35"/>
<text x="493.05" y="331.8" font-size="6.7" text-anchor="middle" textLength="20.8" lengthAdjust="spacingAndGlyphs">WT GF</text>
<text x="508.04" y="306.6" font-size="4.6" text-anchor="middle" textLength="8.2" lengthAdjust="spacingAndGlyphs">N.A.</text>
<line x1="402.3" y1="239.1" x2="492.2" y2="239.1" stroke="#bababa" stroke-width="1.05"/>
<path d="M403.4 235.95V238.05M402.49 236.47L404.31 237.53M402.49 237.53L404.31 236.47" stroke="#333" stroke-width="0.7" fill="none"/>
<path d="M406.45 235.95V238.05M405.54 236.47L407.36 237.53M405.54 237.53L407.36 236.47" stroke="#333" stroke-width="0.7" fill="none"/>
<line x1="385" y1="247.75" x2="415.4" y2="247.75" stroke="#bababa" stroke-width="1.05"/>
<path d="M386.1 244.6V246.7M385.19 245.12L387.01 246.18M385.19 246.18L387.01 245.12" stroke="#333" stroke-width="0.7" fill="none"/>
<path d="M389.15 244.6V246.7M388.24 245.12L390.06 246.18M388.24 246.18L390.06 245.12" stroke="#333" stroke-width="0.7" fill="none"/>
<line x1="385" y1="253" x2="400.6" y2="253" stroke="#bababa" stroke-width="1.05"/>
<path d="M386.1 249.85V251.95M385.19 250.38L387.01 251.43M385.19 251.43L387.01 250.38" stroke="#333" stroke-width="0.7" fill="none"/>
<path d="M389.15 249.85V251.95M388.24 250.38L390.06 251.43M388.24 251.43L390.06 250.38" stroke="#333" stroke-width="0.7" fill="none"/>
<path d="M392.2 249.85V251.95M391.29 250.38L393.11 251.43M391.29 251.43L393.11 250.38" stroke="#333" stroke-width="0.7" fill="none"/>
<path d="M395.25 249.85V251.95M394.34 250.38L396.16 251.43M394.34 251.43L396.16 250.38" stroke="#333" stroke-width="0.7" fill="none"/>
<text x="359.8" y="280.8" font-size="8.9" text-anchor="middle" textLength="81.5" lengthAdjust="spacingAndGlyphs" transform="rotate(-90 359.8 280.8)">Neutrophils (% of WBC)</text>
<line x1="80.8" y1="375.75" x2="80.8" y2="432.5" stroke="#aaaaaa" stroke-width="0.85" stroke-dasharray="1 1.3"/>
<line x1="126.34" y1="375.75" x2="126.34" y2="432.5" stroke="#aaaaaa" stroke-width="0.85" stroke-dasharray="1 1.3"/>
<rect x="37.85" y="432.36" width="10" height="0.14" fill="#EDB3A6"/>
<rect x="53.03" y="426.88" width="10" height="5.62" fill="#DC6456"/>
<rect x="68.21" y="419.56" width="10" height="12.94" fill="#C8102E"/>
<rect x="83.39" y="432.36" width="10" height="0.14" fill="#AFB5D5"/>
<rect x="98.57" y="429.12" width="10" height="3.38" fill="#7483B1"/>
<rect x="113.75" y="428" width="10" height="4.5" fill="#1B4F8C"/>
<rect x="128.93" y="432.22" width="10" height="0.28" fill="#3DB54B"/>
<rect x="144.11" y="428" width="10" height="4.5" fill="#0B6B4C"/>
<line x1="42.85" y1="432.36" x2="42.85" y2="432.22" stroke="#151515" stroke-width="0.9"/>
<line x1="40.25" y1="432.22" x2="45.45" y2="432.22" stroke="#151515" stroke-width="0.9"/>
<line x1="58.03" y1="426.88" x2="58.03" y2="424.34" stroke="#151515" stroke-width="0.9"/>
<line x1="55.43" y1="424.34" x2="60.63" y2="424.34" stroke="#151515" stroke-width="0.9"/>
<line x1="73.21" y1="419.56" x2="73.21" y2="407.19" stroke="#151515" stroke-width="0.9"/>
<line x1="70.61" y1="407.19" x2="75.81" y2="407.19" stroke="#151515" stroke-width="0.9"/>
<line x1="88.39" y1="432.36" x2="88.39" y2="432.22" stroke="#151515" stroke-width="0.9"/>
<line x1="85.79" y1="432.22" x2="90.99" y2="432.22" stroke="#151515" stroke-width="0.9"/>
<line x1="103.57" y1="429.12" x2="103.57" y2="427.72" stroke="#151515" stroke-width="0.9"/>
<line x1="100.97" y1="427.72" x2="106.17" y2="427.72" stroke="#151515" stroke-width="0.9"/>
<line x1="118.75" y1="428" x2="118.75" y2="426.31" stroke="#151515" stroke-width="0.9"/>
<line x1="116.15" y1="426.31" x2="121.35" y2="426.31" stroke="#151515" stroke-width="0.9"/>
<line x1="133.93" y1="432.22" x2="133.93" y2="432.08" stroke="#151515" stroke-width="0.9"/>
<line x1="131.33" y1="432.08" x2="136.53" y2="432.08" stroke="#151515" stroke-width="0.9"/>
<line x1="149.11" y1="428" x2="149.11" y2="425.47" stroke="#151515" stroke-width="0.9"/>
<line x1="146.51" y1="425.47" x2="151.71" y2="425.47" stroke="#151515" stroke-width="0.9"/>
<circle cx="43.06" cy="432.47" r="1.22" fill="#b8b8b8" stroke="#222" stroke-width="0.6"/>
<circle cx="42.54" cy="432.47" r="1.22" fill="#b8b8b8" stroke="#222" stroke-width="0.6"/>
<circle cx="42.33" cy="432.43" r="1.22" fill="#b8b8b8" stroke="#222" stroke-width="0.6"/>
<circle cx="45.83" cy="432.31" r="1.22" fill="#b8b8b8" stroke="#222" stroke-width="0.6"/>
<circle cx="40.41" cy="432.29" r="1.22" fill="#b8b8b8" stroke="#222" stroke-width="0.6"/>
<circle cx="39.97" cy="432.29" r="1.22" fill="#b8b8b8" stroke="#222" stroke-width="0.6"/>
<circle cx="58.88" cy="428.8" r="1.22" fill="#b8b8b8" stroke="#222" stroke-width="0.6"/>
<circle cx="56.35" cy="428.65" r="1.22" fill="#b8b8b8" stroke="#222" stroke-width="0.6"/>
<circle cx="55.28" cy="427.38" r="1.22" fill="#b8b8b8" stroke="#222" stroke-width="0.6"/>
<circle cx="57.05" cy="427.26" r="1.22" fill="#b8b8b8" stroke="#222" stroke-width="0.6"/>
<circle cx="57.04" cy="425.56" r="1.22" fill="#b8b8b8" stroke="#222" stroke-width="0.6"/>
<circle cx="57.41" cy="424.65" r="1.22" fill="#b8b8b8" stroke="#222" stroke-width="0.6"/>
<circle cx="58.91" cy="424.05" r="1.22" fill="#b8b8b8" stroke="#222" stroke-width="0.6"/>
<circle cx="60.05" cy="422.82" r="1.22" fill="#b8b8b8" stroke="#222" stroke-width="0.6"/>
<circle cx="60.8" cy="422.7" r="1.22" fill="#b8b8b8" stroke="#222" stroke-width="0.6"/>
<circle cx="60.89" cy="422.13" r="1.22" fill="#b8b8b8" stroke="#222" stroke-width="0.6"/>
<circle cx="60.99" cy="420.59" r="1.22" fill="#b8b8b8" stroke="#222" stroke-width="0.6"/>
<circle cx="59.77" cy="420.35" r="1.22" fill="#b8b8b8" stroke="#222" stroke-width="0.6"/>
<circle cx="75.67" cy="426.96" r="1.22" fill="#b8b8b8" stroke="#222" stroke-width="0.6"/>
<circle cx="74.11" cy="426.34" r="1.22" fill="#b8b8b8" stroke="#222" stroke-width="0.6"/>
<circle cx="76.16" cy="423.51" r="1.22" fill="#b8b8b8" stroke="#222" stroke-width="0.6"/>
<circle cx="71.39" cy="421.59" r="1.22" fill="#b8b8b8" stroke="#222" stroke-width="0.6"/>
<circle cx="72.94" cy="420.26" r="1.22" fill="#b8b8b8" stroke="#222" stroke-width="0.6"/>
<circle cx="75.01" cy="415.44" r="1.22" fill="#b8b8b8" stroke="#222" stroke-width="0.6"/>
<circle cx="72.88" cy="404.38" r="1.22" fill="#b8b8b8" stroke="#222" stroke-width="0.6"/>
<circle cx="74.94" cy="390.31" r="1.22" fill="#b8b8b8" stroke="#222" stroke-width="0.6"/>
<circle cx="87.06" cy="432.42" r="1.22" fill="#b8b8b8" stroke="#222" stroke-width="0.6"/>
<circle cx="87.62" cy="432.4" r="1.22" fill="#b8b8b8" stroke="#222" stroke-width="0.6"/>
<circle cx="89.07" cy="432.29" r="1.22" fill="#b8b8b8" stroke="#222" stroke-width="0.6"/>
<circle cx="89.21" cy="432.2" r="1.22" fill="#b8b8b8" stroke="#222" stroke-width="0.6"/>
<circle cx="85.62" cy="432.17" r="1.22" fill="#b8b8b8" stroke="#222" stroke-width="0.6"/>
<circle cx="86.06" cy="432.09" r="1.22" fill="#b8b8b8" stroke="#222" stroke-width="0.6"/>
<circle cx="101.63" cy="432.44" r="1.22" fill="#b8b8b8" stroke="#222" stroke-width="0.6"/>
<circle cx="100.84" cy="430.91" r="1.22" fill="#b8b8b8" stroke="#222" stroke-width="0.6"/>
<circle cx="101.32" cy="430.49" r="1.22" fill="#b8b8b8" stroke="#222" stroke-width="0.6"/>
<circle cx="105.76" cy="428.42" r="1.22" fill="#b8b8b8" stroke="#222" stroke-width="0.6"/>
<circle cx="100.87" cy="427.53" r="1.22" fill="#b8b8b8" stroke="#222" stroke-width="0.6"/>
<circle cx="104.25" cy="427.36" r="1.22" fill="#b8b8b8" stroke="#222" stroke-width="0.6"/>
<circle cx="118.52" cy="430.01" r="1.22" fill="#b8b8b8" stroke="#222" stroke-width="0.6"/>
<circle cx="120.05" cy="428.71" r="1.22" fill="#b8b8b8" stroke="#222" stroke-width="0.6"/>
<circle cx="118.55" cy="428.54" r="1.22" fill="#b8b8b8" stroke="#222" stroke-width="0.6"/>
<circle cx="116.55" cy="428.33" r="1.22" fill="#b8b8b8" stroke="#222" stroke-width="0.6"/>
<circle cx="116.49" cy="427.94" r="1.22" fill="#b8b8b8" stroke="#222" stroke-width="0.6"/>
<circle cx="120.45" cy="427.06" r="1.22" fill="#b8b8b8" stroke="#222" stroke-width="0.6"/>
<circle cx="131.77" cy="432.26" r="1.22" fill="#b8b8b8" stroke="#222" stroke-width="0.6"/>
<circle cx="133.21" cy="432.2" r="1.22" fill="#b8b8b8" stroke="#222" stroke-width="0.6"/>
<circle cx="132.77" cy="432.03" r="1.22" fill="#b8b8b8" stroke="#222" stroke-width="0.6"/>
<circle cx="133.48" cy="432.02" r="1.22" fill="#b8b8b8" stroke="#222" stroke-width="0.6"/>
<circle cx="151.48" cy="427.49" r="1.22" fill="#b8b8b8" stroke="#222" stroke-width="0.6"/>
<circle cx="147.66" cy="427.2" r="1.22" fill="#b8b8b8" stroke="#222" stroke-width="0.6"/>
<circle cx="147.32" cy="426.43" r="1.22" fill="#b8b8b8" stroke="#222" stroke-width="0.6"/>
<circle cx="150.99" cy="426.17" r="1.22" fill="#b8b8b8" stroke="#222" stroke-width="0.6"/>
<line x1="32.5" y1="375.75" x2="32.5" y2="433" stroke="#2a2a2a" stroke-width="1.1"/>
<line x1="32" y1="432.5" x2="174.5" y2="432.5" stroke="#2a2a2a" stroke-width="1.1"/>
<line x1="29.7" y1="432.5" x2="32.5" y2="432.5" stroke="#2a2a2a" stroke-width="1.1"/>
<text x="28.2" y="434.44" font-size="5.4" text-anchor="end" textLength="13.6" lengthAdjust="spacingAndGlyphs">0.000</text>
<line x1="29.7" y1="418.44" x2="32.5" y2="418.44" stroke="#2a2a2a" stroke-width="1.1"/>
<text x="28.2" y="420.38" font-size="5.4" text-anchor="end" textLength="13.6" lengthAdjust="spacingAndGlyphs">0.001</text>
<line x1="29.7" y1="404.38" x2="32.5" y2="404.38" stroke="#2a2a2a" stroke-width="1.1"/>
<text x="28.2" y="406.32" font-size="5.4" text-anchor="end" textLength="13.6" lengthAdjust="spacingAndGlyphs">0.002</text>
<line x1="29.7" y1="390.31" x2="32.5" y2="390.31" stroke="#2a2a2a" stroke-width="1.1"/>
<text x="28.2" y="392.26" font-size="5.4" text-anchor="end" textLength="13.6" lengthAdjust="spacingAndGlyphs">0.003</text>
<line x1="29.7" y1="376.25" x2="32.5" y2="376.25" stroke="#2a2a2a" stroke-width="1.1"/>
<text x="28.2" y="378.19" font-size="5.4" text-anchor="end" textLength="13.6" lengthAdjust="spacingAndGlyphs">0.004</text>
<line x1="42.85" y1="432.5" x2="42.85" y2="435.6" stroke="#2a2a2a" stroke-width="0.9"/>
<line x1="58.03" y1="432.5" x2="58.03" y2="435.6" stroke="#2a2a2a" stroke-width="0.9"/>
<line x1="73.21" y1="432.5" x2="73.21" y2="435.6" stroke="#2a2a2a" stroke-width="0.9"/>
<line x1="88.39" y1="432.5" x2="88.39" y2="435.6" stroke="#2a2a2a" stroke-width="0.9"/>
<line x1="103.57" y1="432.5" x2="103.57" y2="435.6" stroke="#2a2a2a" stroke-width="0.9"/>
<line x1="118.75" y1="432.5" x2="118.75" y2="435.6" stroke="#2a2a2a" stroke-width="0.9"/>
<line x1="133.93" y1="432.5" x2="133.93" y2="435.6" stroke="#2a2a2a" stroke-width="0.9"/>
<line x1="149.11" y1="432.5" x2="149.11" y2="435.6" stroke="#2a2a2a" stroke-width="0.9"/>
<line x1="164.29" y1="432.5" x2="164.29" y2="435.6" stroke="#2a2a2a" stroke-width="0.9"/>
<text x="42.05" y="444.3" font-size="6.7" text-anchor="middle" textLength="12.3" lengthAdjust="spacingAndGlyphs">2mo</text>
<text x="57.23" y="444.3" font-size="6.7" text-anchor="middle" textLength="6.4" lengthAdjust="spacingAndGlyphs">1y</text>
<text x="72.41" y="444.3" font-size="6.7" text-anchor="middle" textLength="6.9" lengthAdjust="spacingAndGlyphs">2y</text>
<text x="87.59" y="444.3" font-size="6.7" text-anchor="middle" textLength="12.3" lengthAdjust="spacingAndGlyphs">2mo</text>
<text x="102.77" y="444.3" font-size="6.7" text-anchor="middle" textLength="6.4" lengthAdjust="spacingAndGlyphs">1y</text>
<text x="117.95" y="444.3" font-size="6.7" text-anchor="middle" textLength="6.9" lengthAdjust="spacingAndGlyphs">2y</text>
<text x="133.13" y="444.3" font-size="6.7" text-anchor="middle" textLength="12.3" lengthAdjust="spacingAndGlyphs">2mo</text>
<text x="148.31" y="444.3" font-size="6.7" text-anchor="middle" textLength="6.4" lengthAdjust="spacingAndGlyphs">1y</text>
<text x="163.49" y="444.3" font-size="6.7" text-anchor="middle" textLength="6.9" lengthAdjust="spacingAndGlyphs">2y</text>
<line x1="36.5" y1="447.3" x2="76.8" y2="447.3" stroke="#c6c6c6" stroke-width="1.35"/>
<text x="56.65" y="455.6" font-size="6.7" text-anchor="middle" textLength="22.6" lengthAdjust="spacingAndGlyphs">WT SPF</text>
<line x1="80.9" y1="447.3" x2="122.7" y2="447.3" stroke="#c6c6c6" stroke-width="1.35"/>
<text x="101.8" y="455.6" font-size="6.7" text-anchor="middle" textLength="40.9" lengthAdjust="spacingAndGlyphs">IL-1R1KO SPF</text>
<line x1="126.5" y1="447.3" x2="167.9" y2="447.3" stroke="#c6c6c6" stroke-width="1.35"/>
<text x="147.2" y="455.6" font-size="6.7" text-anchor="middle" textLength="20.7" lengthAdjust="spacingAndGlyphs">WT GF</text>
<text x="164.29" y="430.1" font-size="4.6" text-anchor="middle" textLength="8.2" lengthAdjust="spacingAndGlyphs">N.A.</text>
<line x1="42.2" y1="362.4" x2="133.2" y2="362.4" stroke="#bababa" stroke-width="1.05"/>
<path d="M43.3 359.25V361.35M42.39 359.77L44.21 360.82M42.39 360.82L44.21 359.77" stroke="#333" stroke-width="0.7" fill="none"/>
<line x1="73" y1="367" x2="118.6" y2="367" stroke="#bababa" stroke-width="1.05"/>
<path d="M74.1 363.85V365.95M73.19 364.38L75.01 365.42M73.19 365.42L75.01 364.38" stroke="#333" stroke-width="0.7" fill="none"/>
<line x1="58" y1="371.2" x2="103.1" y2="371.2" stroke="#bababa" stroke-width="1.05"/>
<path d="M59.1 368.05V370.15M58.19 368.57L60.01 369.62M58.19 369.62L60.01 368.57" stroke="#333" stroke-width="0.7" fill="none"/>
<line x1="41.3" y1="374.9" x2="86.3" y2="374.9" stroke="#bababa" stroke-width="1.05"/>
<path d="M42.4 371.75V373.85M41.49 372.27L43.31 373.32M41.49 373.32L43.31 372.27" stroke="#333" stroke-width="0.7" fill="none"/>
<line x1="41.3" y1="379.3" x2="72" y2="379.3" stroke="#bababa" stroke-width="1.05"/>
<path d="M42.4 376.15V378.25M41.49 376.68L43.31 377.72M41.49 377.72L43.31 376.68" stroke="#333" stroke-width="0.7" fill="none"/>
<path d="M45.45 376.15V378.25M44.54 376.68L46.36 377.72M44.54 377.72L46.36 376.68" stroke="#333" stroke-width="0.7" fill="none"/>
<line x1="41.3" y1="383.9" x2="55.3" y2="383.9" stroke="#bababa" stroke-width="1.05"/>
<path d="M42.4 380.75V382.85M41.49 381.27L43.31 382.32M41.49 382.32L43.31 381.27" stroke="#333" stroke-width="0.7" fill="none"/>
<path d="M45.45 380.75V382.85M44.54 381.27L46.36 382.32M44.54 382.32L46.36 381.27" stroke="#333" stroke-width="0.7" fill="none"/>
<path d="M48.5 380.75V382.85M47.59 381.27L49.41 382.32M47.59 382.32L49.41 381.27" stroke="#333" stroke-width="0.7" fill="none"/>
<path d="M51.55 380.75V382.85M50.64 381.27L52.46 382.32M50.64 382.32L52.46 381.27" stroke="#333" stroke-width="0.7" fill="none"/>
<line x1="58" y1="383.9" x2="72" y2="383.9" stroke="#bababa" stroke-width="1.05"/>
<path d="M59.1 380.75V382.85M58.19 381.27L60.01 382.32M58.19 382.32L60.01 381.27" stroke="#333" stroke-width="0.7" fill="none"/>
<line x1="88" y1="379.3" x2="119.3" y2="379.3" stroke="#bababa" stroke-width="1.05"/>
<path d="M89.1 376.15V378.25M88.19 376.68L90.01 377.72M88.19 377.72L90.01 376.68" stroke="#333" stroke-width="0.7" fill="none"/>
<path d="M92.15 376.15V378.25M91.24 376.68L93.06 377.72M91.24 377.72L93.06 376.68" stroke="#333" stroke-width="0.7" fill="none"/>
<path d="M95.2 376.15V378.25M94.29 376.68L96.11 377.72M94.29 377.72L96.11 376.68" stroke="#333" stroke-width="0.7" fill="none"/>
<line x1="88" y1="383.9" x2="103.1" y2="383.9" stroke="#bababa" stroke-width="1.05"/>
<path d="M89.1 380.75V382.85M88.19 381.27L90.01 382.32M88.19 382.32L90.01 381.27" stroke="#333" stroke-width="0.7" fill="none"/>
<path d="M92.15 380.75V382.85M91.24 381.27L93.06 382.32M91.24 382.32L93.06 381.27" stroke="#333" stroke-width="0.7" fill="none"/>
<path d="M95.2 380.75V382.85M94.29 381.27L96.11 382.32M94.29 382.32L96.11 381.27" stroke="#333" stroke-width="0.7" fill="none"/>
<line x1="134" y1="383.9" x2="148.2" y2="383.9" stroke="#bababa" stroke-width="1.05"/>
<path d="M135.1 380.75V382.85M134.19 381.27L136.01 382.32M134.19 382.32L136.01 381.27" stroke="#333" stroke-width="0.7" fill="none"/>
<path d="M138.15 380.75V382.85M137.24 381.27L139.06 382.32M137.24 382.32L139.06 381.27" stroke="#333" stroke-width="0.7" fill="none"/>
<text x="93.75" y="351.2" font-size="6.6" text-anchor="middle" textLength="123.3" lengthAdjust="spacingAndGlyphs">Frequency of LKS CD34<tspan font-size="3.6" dy="-2">-</tspan><tspan dy="2">Flt3</tspan><tspan font-size="3.6" dy="-2">-</tspan><tspan dy="2">CD48</tspan><tspan font-size="3.6" dy="-2">-</tspan><tspan dy="2">CD150</tspan><tspan font-size="3.6" dy="-2">+</tspan></text>
<text x="11" y="404.4" font-size="8.8" text-anchor="middle" textLength="97.8" lengthAdjust="spacingAndGlyphs" transform="rotate(-90 11 404.4)">Frequency in live BM cells (%)</text>
<line x1="249.8" y1="376" x2="249.8" y2="432.6" stroke="#aaaaaa" stroke-width="0.85" stroke-dasharray="1 1.3"/>
<line x1="295.34" y1="376" x2="295.34" y2="432.6" stroke="#aaaaaa" stroke-width="0.85" stroke-dasharray="1 1.3"/>
<rect x="206.85" y="430.08" width="10" height="2.52" fill="#EDB3A6"/>
<rect x="222.03" y="423.34" width="10" height="9.26" fill="#DC6456"/>
<rect x="237.21" y="414.79" width="10" height="17.81" fill="#C8102E"/>
<rect x="252.39" y="430.5" width="10" height="2.1" fill="#AFB5D5"/>
<rect x="267.57" y="422.78" width="10" height="9.82" fill="#7483B1"/>
<rect x="282.75" y="422.36" width="10" height="10.24" fill="#1B4F8C"/>
<rect x="297.93" y="426.15" width="10" height="6.45" fill="#3DB54B"/>
<rect x="313.11" y="415.49" width="10" height="17.11" fill="#0B6B4C"/>
<line x1="211.85" y1="430.08" x2="211.85" y2="428.67" stroke="#151515" stroke-width="0.9"/>
<line x1="209.25" y1="428.67" x2="214.45" y2="428.67" stroke="#151515" stroke-width="0.9"/>
<line x1="227.03" y1="423.34" x2="227.03" y2="419.28" stroke="#151515" stroke-width="0.9"/>
<line x1="224.43" y1="419.28" x2="229.63" y2="419.28" stroke="#151515" stroke-width="0.9"/>
<line x1="242.21" y1="414.79" x2="242.21" y2="398.94" stroke="#151515" stroke-width="0.9"/>
<line x1="239.61" y1="398.94" x2="244.81" y2="398.94" stroke="#151515" stroke-width="0.9"/>
<line x1="257.39" y1="430.5" x2="257.39" y2="429.09" stroke="#151515" stroke-width="0.9"/>
<line x1="254.79" y1="429.09" x2="259.99" y2="429.09" stroke="#151515" stroke-width="0.9"/>
<line x1="272.57" y1="422.78" x2="272.57" y2="414.37" stroke="#151515" stroke-width="0.9"/>
<line x1="269.97" y1="414.37" x2="275.17" y2="414.37" stroke="#151515" stroke-width="0.9"/>
<line x1="287.75" y1="422.36" x2="287.75" y2="411.98" stroke="#151515" stroke-width="0.9"/>
<line x1="285.15" y1="411.98" x2="290.35" y2="411.98" stroke="#151515" stroke-width="0.9"/>
<line x1="302.93" y1="426.15" x2="302.93" y2="424.19" stroke="#151515" stroke-width="0.9"/>
<line x1="300.33" y1="424.19" x2="305.53" y2="424.19" stroke="#151515" stroke-width="0.9"/>
<line x1="318.11" y1="415.49" x2="318.11" y2="401.04" stroke="#151515" stroke-width="0.9"/>
<line x1="315.51" y1="401.04" x2="320.71" y2="401.04" stroke="#151515" stroke-width="0.9"/>
<circle cx="208.91" cy="431.47" r="1.22" fill="#b8b8b8" stroke="#222" stroke-width="0.6"/>
<circle cx="213.23" cy="430.52" r="1.22" fill="#b8b8b8" stroke="#222" stroke-width="0.6"/>
<circle cx="213.91" cy="430.35" r="1.22" fill="#b8b8b8" stroke="#222" stroke-width="0.6"/>
<circle cx="213.87" cy="429.19" r="1.22" fill="#b8b8b8" stroke="#222" stroke-width="0.6"/>
<circle cx="214.57" cy="429.18" r="1.22" fill="#b8b8b8" stroke="#222" stroke-width="0.6"/>
<circle cx="210.06" cy="428.25" r="1.22" fill="#b8b8b8" stroke="#222" stroke-width="0.6"/>
<circle cx="209.34" cy="428.08" r="1.22" fill="#b8b8b8" stroke="#222" stroke-width="0.6"/>
<circle cx="209.57" cy="427.44" r="1.22" fill="#b8b8b8" stroke="#222" stroke-width="0.6"/>
<circle cx="226.89" cy="429.54" r="1.22" fill="#b8b8b8" stroke="#222" stroke-width="0.6"/>
<circle cx="228.91" cy="429.31" r="1.22" fill="#b8b8b8" stroke="#222" stroke-width="0.6"/>
<circle cx="226.7" cy="428.92" r="1.22" fill="#b8b8b8" stroke="#222" stroke-width="0.6"/>
<circle cx="228.24" cy="427.73" r="1.22" fill="#b8b8b8" stroke="#222" stroke-width="0.6"/>
<circle cx="224.58" cy="426.71" r="1.22" fill="#b8b8b8" stroke="#222" stroke-width="0.6"/>
<circle cx="224.4" cy="426.52" r="1.22" fill="#b8b8b8" stroke="#222" stroke-width="0.6"/>
<circle cx="228" cy="425.11" r="1.22" fill="#b8b8b8" stroke="#222" stroke-width="0.6"/>
<circle cx="224.32" cy="422.42" r="1.22" fill="#b8b8b8" stroke="#222" stroke-width="0.6"/>
<circle cx="225.84" cy="421" r="1.22" fill="#b8b8b8" stroke="#222" stroke-width="0.6"/>
<circle cx="226.34" cy="419.52" r="1.22" fill="#b8b8b8" stroke="#222" stroke-width="0.6"/>
<circle cx="225.19" cy="418.07" r="1.22" fill="#b8b8b8" stroke="#222" stroke-width="0.6"/>
<circle cx="224.25" cy="417.33" r="1.22" fill="#b8b8b8" stroke="#222" stroke-width="0.6"/>
<circle cx="243.55" cy="418.9" r="1.22" fill="#b8b8b8" stroke="#222" stroke-width="0.6"/>
<circle cx="240.38" cy="415.55" r="1.22" fill="#b8b8b8" stroke="#222" stroke-width="0.6"/>
<circle cx="244.31" cy="414.18" r="1.22" fill="#b8b8b8" stroke="#222" stroke-width="0.6"/>
<circle cx="242.27" cy="407.07" r="1.22" fill="#b8b8b8" stroke="#222" stroke-width="0.6"/>
<circle cx="242.84" cy="404.37" r="1.22" fill="#b8b8b8" stroke="#222" stroke-width="0.6"/>
<circle cx="244.14" cy="404.3" r="1.22" fill="#b8b8b8" stroke="#222" stroke-width="0.6"/>
<circle cx="243.09" cy="382.11" r="1.22" fill="#b8b8b8" stroke="#222" stroke-width="0.6"/>
<circle cx="254.89" cy="431.8" r="1.22" fill="#b8b8b8" stroke="#222" stroke-width="0.6"/>
<circle cx="258.67" cy="431.03" r="1.22" fill="#b8b8b8" stroke="#222" stroke-width="0.6"/>
<circle cx="260.27" cy="430.78" r="1.22" fill="#b8b8b8" stroke="#222" stroke-width="0.6"/>
<circle cx="255.65" cy="430.62" r="1.22" fill="#b8b8b8" stroke="#222" stroke-width="0.6"/>
<circle cx="259.07" cy="430.22" r="1.22" fill="#b8b8b8" stroke="#222" stroke-width="0.6"/>
<circle cx="257.9" cy="429.97" r="1.22" fill="#b8b8b8" stroke="#222" stroke-width="0.6"/>
<circle cx="257.29" cy="429.55" r="1.22" fill="#b8b8b8" stroke="#222" stroke-width="0.6"/>
<circle cx="259.83" cy="428.51" r="1.22" fill="#b8b8b8" stroke="#222" stroke-width="0.6"/>
<circle cx="272.22" cy="431.1" r="1.22" fill="#b8b8b8" stroke="#222" stroke-width="0.6"/>
<circle cx="272.27" cy="428.15" r="1.22" fill="#b8b8b8" stroke="#222" stroke-width="0.6"/>
<circle cx="275" cy="423.11" r="1.22" fill="#b8b8b8" stroke="#222" stroke-width="0.6"/>
<circle cx="269.6" cy="415.44" r="1.22" fill="#b8b8b8" stroke="#222" stroke-width="0.6"/>
<circle cx="274.55" cy="414.54" r="1.22" fill="#b8b8b8" stroke="#222" stroke-width="0.6"/>
<circle cx="271.09" cy="409.32" r="1.22" fill="#b8b8b8" stroke="#222" stroke-width="0.6"/>
<circle cx="272.86" cy="405.78" r="1.22" fill="#b8b8b8" stroke="#222" stroke-width="0.6"/>
<circle cx="270.34" cy="405.47" r="1.22" fill="#b8b8b8" stroke="#222" stroke-width="0.6"/>
<circle cx="289.04" cy="427.05" r="1.22" fill="#b8b8b8" stroke="#222" stroke-width="0.6"/>
<circle cx="287.8" cy="424.05" r="1.22" fill="#b8b8b8" stroke="#222" stroke-width="0.6"/>
<circle cx="285.86" cy="419.94" r="1.22" fill="#b8b8b8" stroke="#222" stroke-width="0.6"/>
<circle cx="290.66" cy="417.97" r="1.22" fill="#b8b8b8" stroke="#222" stroke-width="0.6"/>
<circle cx="288.47" cy="416.65" r="1.22" fill="#b8b8b8" stroke="#222" stroke-width="0.6"/>
<circle cx="286.94" cy="411.38" r="1.22" fill="#b8b8b8" stroke="#222" stroke-width="0.6"/>
<circle cx="284.88" cy="411.17" r="1.22" fill="#b8b8b8" stroke="#222" stroke-width="0.6"/>
<circle cx="287.81" cy="409.39" r="1.22" fill="#b8b8b8" stroke="#222" stroke-width="0.6"/>
<circle cx="305.02" cy="429.05" r="1.22" fill="#b8b8b8" stroke="#222" stroke-width="0.6"/>
<circle cx="301.86" cy="428.71" r="1.22" fill="#b8b8b8" stroke="#222" stroke-width="0.6"/>
<circle cx="305.71" cy="428.06" r="1.22" fill="#b8b8b8" stroke="#222" stroke-width="0.6"/>
<circle cx="304.8" cy="427.95" r="1.22" fill="#b8b8b8" stroke="#222" stroke-width="0.6"/>
<circle cx="301.55" cy="427.05" r="1.22" fill="#b8b8b8" stroke="#222" stroke-width="0.6"/>
<circle cx="300.85" cy="425.79" r="1.22" fill="#b8b8b8" stroke="#222" stroke-width="0.6"/>
<circle cx="303.36" cy="424.44" r="1.22" fill="#b8b8b8" stroke="#222" stroke-width="0.6"/>
<circle cx="302.77" cy="423.7" r="1.22" fill="#b8b8b8" stroke="#222" stroke-width="0.6"/>
<circle cx="316.01" cy="426.34" r="1.22" fill="#b8b8b8" stroke="#222" stroke-width="0.6"/>
<circle cx="319.83" cy="422.64" r="1.22" fill="#b8b8b8" stroke="#222" stroke-width="0.6"/>
<circle cx="317.64" cy="420.14" r="1.22" fill="#b8b8b8" stroke="#222" stroke-width="0.6"/>
<circle cx="315.62" cy="417.24" r="1.22" fill="#b8b8b8" stroke="#222" stroke-width="0.6"/>
<circle cx="320.82" cy="413.87" r="1.22" fill="#b8b8b8" stroke="#222" stroke-width="0.6"/>
<circle cx="319.91" cy="408.5" r="1.22" fill="#b8b8b8" stroke="#222" stroke-width="0.6"/>
<circle cx="318.76" cy="394.03" r="1.22" fill="#b8b8b8" stroke="#222" stroke-width="0.6"/>
<line x1="201.5" y1="376" x2="201.5" y2="433.1" stroke="#2a2a2a" stroke-width="1.1"/>
<line x1="201" y1="432.6" x2="343.5" y2="432.6" stroke="#2a2a2a" stroke-width="1.1"/>
<line x1="198.7" y1="432.6" x2="201.5" y2="432.6" stroke="#2a2a2a" stroke-width="1.1"/>
<text x="197.2" y="434.54" font-size="5.4" text-anchor="end" textLength="16.32" lengthAdjust="spacingAndGlyphs">0.0000</text>
<line x1="198.7" y1="418.58" x2="201.5" y2="418.58" stroke="#2a2a2a" stroke-width="1.1"/>
<text x="197.2" y="420.52" font-size="5.4" text-anchor="end" textLength="16.32" lengthAdjust="spacingAndGlyphs">0.0001</text>
<line x1="198.7" y1="404.55" x2="201.5" y2="404.55" stroke="#2a2a2a" stroke-width="1.1"/>
<text x="197.2" y="406.49" font-size="5.4" text-anchor="end" textLength="16.32" lengthAdjust="spacingAndGlyphs">0.0002</text>
<line x1="198.7" y1="390.53" x2="201.5" y2="390.53" stroke="#2a2a2a" stroke-width="1.1"/>
<text x="197.2" y="392.47" font-size="5.4" text-anchor="end" textLength="16.32" lengthAdjust="spacingAndGlyphs">0.0003</text>
<line x1="198.7" y1="376.5" x2="201.5" y2="376.5" stroke="#2a2a2a" stroke-width="1.1"/>
<text x="197.2" y="378.44" font-size="5.4" text-anchor="end" textLength="16.32" lengthAdjust="spacingAndGlyphs">0.0004</text>
<line x1="211.85" y1="432.6" x2="211.85" y2="435.7" stroke="#2a2a2a" stroke-width="0.9"/>
<line x1="227.03" y1="432.6" x2="227.03" y2="435.7" stroke="#2a2a2a" stroke-width="0.9"/>
<line x1="242.21" y1="432.6" x2="242.21" y2="435.7" stroke="#2a2a2a" stroke-width="0.9"/>
<line x1="257.39" y1="432.6" x2="257.39" y2="435.7" stroke="#2a2a2a" stroke-width="0.9"/>
<line x1="272.57" y1="432.6" x2="272.57" y2="435.7" stroke="#2a2a2a" stroke-width="0.9"/>
<line x1="287.75" y1="432.6" x2="287.75" y2="435.7" stroke="#2a2a2a" stroke-width="0.9"/>
<line x1="302.93" y1="432.6" x2="302.93" y2="435.7" stroke="#2a2a2a" stroke-width="0.9"/>
<line x1="318.11" y1="432.6" x2="318.11" y2="435.7" stroke="#2a2a2a" stroke-width="0.9"/>
<line x1="333.29" y1="432.6" x2="333.29" y2="435.7" stroke="#2a2a2a" stroke-width="0.9"/>
<text x="211.05" y="444.4" font-size="6.7" text-anchor="middle" textLength="12.3" lengthAdjust="spacingAndGlyphs">2mo</text>
<text x="226.23" y="444.4" font-size="6.7" text-anchor="middle" textLength="6.4" lengthAdjust="spacingAndGlyphs">1y</text>
<text x="241.41" y="444.4" font-size="6.7" text-anchor="middle" textLength="6.9" lengthAdjust="spacingAndGlyphs">2y</text>
<text x="256.59" y="444.4" font-size="6.7" text-anchor="middle" textLength="12.3" lengthAdjust="spacingAndGlyphs">2mo</text>
<text x="271.77" y="444.4" font-size="6.7" text-anchor="middle" textLength="6.4" lengthAdjust="spacingAndGlyphs">1y</text>
<text x="286.95" y="444.4" font-size="6.7" text-anchor="middle" textLength="6.9" lengthAdjust="spacingAndGlyphs">2y</text>
<text x="302.13" y="444.4" font-size="6.7" text-anchor="middle" textLength="12.3" lengthAdjust="spacingAndGlyphs">2mo</text>
<text x="317.31" y="444.4" font-size="6.7" text-anchor="middle" textLength="6.4" lengthAdjust="spacingAndGlyphs">1y</text>
<text x="332.49" y="444.4" font-size="6.7" text-anchor="middle" textLength="6.9" lengthAdjust="spacingAndGlyphs">2y</text>
<line x1="205.5" y1="447.4" x2="245.8" y2="447.4" stroke="#c6c6c6" stroke-width="1.35"/>
<text x="225.65" y="455.7" font-size="6.7" text-anchor="middle" textLength="22.6" lengthAdjust="spacingAndGlyphs">WT SPF</text>
<line x1="249.9" y1="447.4" x2="291.7" y2="447.4" stroke="#c6c6c6" stroke-width="1.35"/>
<text x="270.8" y="455.7" font-size="6.7" text-anchor="middle" textLength="40.9" lengthAdjust="spacingAndGlyphs">IL-1R1KO SPF</text>
<line x1="295.5" y1="447.4" x2="336.9" y2="447.4" stroke="#c6c6c6" stroke-width="1.35"/>
<text x="316.2" y="455.7" font-size="6.7" text-anchor="middle" textLength="20.7" lengthAdjust="spacingAndGlyphs">WT GF</text>
<text x="333.29" y="430.2" font-size="4.6" text-anchor="middle" textLength="8.2" lengthAdjust="spacingAndGlyphs">N.A.</text>
<line x1="212" y1="365.6" x2="303.2" y2="365.6" stroke="#bababa" stroke-width="1.05"/>
<path d="M213.1 362.45V364.55M212.19 362.98L214.01 364.02M212.19 364.02L214.01 362.98" stroke="#333" stroke-width="0.7" fill="none"/>
<line x1="258" y1="369.1" x2="303.2" y2="369.1" stroke="#bababa" stroke-width="1.05"/>
<path d="M259.1 365.95V368.05M258.19 366.48L260.01 367.52M258.19 367.52L260.01 366.48" stroke="#333" stroke-width="0.7" fill="none"/>
<line x1="212" y1="373.3" x2="256.5" y2="373.3" stroke="#bababa" stroke-width="1.05"/>
<path d="M213.1 370.15V372.25M212.19 370.68L214.01 371.72M212.19 371.72L214.01 370.68" stroke="#333" stroke-width="0.7" fill="none"/>
<line x1="212" y1="377.75" x2="242.7" y2="377.75" stroke="#bababa" stroke-width="1.05"/>
<path d="M213.1 374.6V376.7M212.19 375.12L214.01 376.17M212.19 376.17L214.01 375.12" stroke="#333" stroke-width="0.7" fill="none"/>
<line x1="212" y1="382.6" x2="227.1" y2="382.6" stroke="#bababa" stroke-width="1.05"/>
<path d="M213.1 379.45V381.55M212.19 379.98L214.01 381.02M212.19 381.02L214.01 379.98" stroke="#333" stroke-width="0.7" fill="none"/>
<path d="M216.15 379.45V381.55M215.24 379.98L217.06 381.02M215.24 381.02L217.06 379.98" stroke="#333" stroke-width="0.7" fill="none"/>
<line x1="258" y1="377.75" x2="289.4" y2="377.75" stroke="#bababa" stroke-width="1.05"/>
<path d="M259.1 374.6V376.7M258.19 375.12L260.01 376.17M258.19 376.17L260.01 375.12" stroke="#333" stroke-width="0.7" fill="none"/>
<path d="M262.15 374.6V376.7M261.24 375.12L263.06 376.17M261.24 376.17L263.06 375.12" stroke="#333" stroke-width="0.7" fill="none"/>
<line x1="258" y1="382.6" x2="273.8" y2="382.6" stroke="#bababa" stroke-width="1.05"/>
<path d="M259.1 379.45V381.55M258.19 379.98L260.01 381.02M258.19 381.02L260.01 379.98" stroke="#333" stroke-width="0.7" fill="none"/>
<path d="M262.15 379.45V381.55M261.24 379.98L263.06 381.02M261.24 381.02L263.06 379.98" stroke="#333" stroke-width="0.7" fill="none"/>
<text x="268.25" y="351.2" font-size="6.6" text-anchor="middle" textLength="128.7" lengthAdjust="spacingAndGlyphs">Frequency of LKS CD34<tspan font-size="3.6" dy="-2">+</tspan><tspan dy="2">Flt3</tspan><tspan font-size="3.6" dy="-2">-</tspan><tspan dy="2">CD48</tspan><tspan font-size="3.6" dy="-2">-</tspan><tspan dy="2">CD150</tspan><tspan font-size="3.6" dy="-2">+</tspan></text>
<text x="178.4" y="404.4" font-size="8.8" text-anchor="middle" textLength="97.8" lengthAdjust="spacingAndGlyphs" transform="rotate(-90 178.4 404.4)">Frequency in live BM cells (%)</text>
<line x1="424.55" y1="377.4" x2="424.55" y2="432.5" stroke="#aaaaaa" stroke-width="0.85" stroke-dasharray="1 1.3"/>
<line x1="470.09" y1="377.4" x2="470.09" y2="432.5" stroke="#aaaaaa" stroke-width="0.85" stroke-dasharray="1 1.3"/>
<rect x="381.6" y="432.28" width="10" height="0.22" fill="#EDB3A6"/>
<rect x="396.78" y="427.91" width="10" height="4.59" fill="#DC6456"/>
<rect x="411.96" y="415.9" width="10" height="16.6" fill="#C8102E"/>
<rect x="427.14" y="432.06" width="10" height="0.44" fill="#AFB5D5"/>
<rect x="442.32" y="430.32" width="10" height="2.18" fill="#7483B1"/>
<rect x="457.5" y="428.57" width="10" height="3.93" fill="#1B4F8C"/>
<rect x="472.68" y="432.06" width="10" height="0.44" fill="#3DB54B"/>
<rect x="487.86" y="430.32" width="10" height="2.18" fill="#0B6B4C"/>
<line x1="386.6" y1="432.28" x2="386.6" y2="432.06" stroke="#151515" stroke-width="0.9"/>
<line x1="384" y1="432.06" x2="389.2" y2="432.06" stroke="#151515" stroke-width="0.9"/>
<line x1="401.78" y1="427.91" x2="401.78" y2="424.86" stroke="#151515" stroke-width="0.9"/>
<line x1="399.18" y1="424.86" x2="404.38" y2="424.86" stroke="#151515" stroke-width="0.9"/>
<line x1="416.96" y1="415.9" x2="416.96" y2="401.05" stroke="#151515" stroke-width="0.9"/>
<line x1="414.36" y1="401.05" x2="419.56" y2="401.05" stroke="#151515" stroke-width="0.9"/>
<line x1="432.14" y1="432.06" x2="432.14" y2="431.84" stroke="#151515" stroke-width="0.9"/>
<line x1="429.54" y1="431.84" x2="434.74" y2="431.84" stroke="#151515" stroke-width="0.9"/>
<line x1="447.32" y1="430.32" x2="447.32" y2="428.57" stroke="#151515" stroke-width="0.9"/>
<line x1="444.72" y1="428.57" x2="449.92" y2="428.57" stroke="#151515" stroke-width="0.9"/>
<line x1="462.5" y1="428.57" x2="462.5" y2="425.95" stroke="#151515" stroke-width="0.9"/>
<line x1="459.9" y1="425.95" x2="465.1" y2="425.95" stroke="#151515" stroke-width="0.9"/>
<line x1="477.68" y1="432.06" x2="477.68" y2="431.84" stroke="#151515" stroke-width="0.9"/>
<line x1="475.08" y1="431.84" x2="480.28" y2="431.84" stroke="#151515" stroke-width="0.9"/>
<line x1="492.86" y1="430.32" x2="492.86" y2="428.79" stroke="#151515" stroke-width="0.9"/>
<line x1="490.26" y1="428.79" x2="495.46" y2="428.79" stroke="#151515" stroke-width="0.9"/>
<circle cx="386.77" cy="432.3" r="1.22" fill="#b8b8b8" stroke="#222" stroke-width="0.6"/>
<circle cx="386.27" cy="432.26" r="1.22" fill="#b8b8b8" stroke="#222" stroke-width="0.6"/>
<circle cx="389.26" cy="432.13" r="1.22" fill="#b8b8b8" stroke="#222" stroke-width="0.6"/>
<circle cx="387.41" cy="432.13" r="1.22" fill="#b8b8b8" stroke="#222" stroke-width="0.6"/>
<circle cx="385.41" cy="432" r="1.22" fill="#b8b8b8" stroke="#222" stroke-width="0.6"/>
<circle cx="385.46" cy="431.87" r="1.22" fill="#b8b8b8" stroke="#222" stroke-width="0.6"/>
<circle cx="399.89" cy="430.78" r="1.22" fill="#b8b8b8" stroke="#222" stroke-width="0.6"/>
<circle cx="399.44" cy="428.85" r="1.22" fill="#b8b8b8" stroke="#222" stroke-width="0.6"/>
<circle cx="398.98" cy="428.81" r="1.22" fill="#b8b8b8" stroke="#222" stroke-width="0.6"/>
<circle cx="404.02" cy="428.13" r="1.22" fill="#b8b8b8" stroke="#222" stroke-width="0.6"/>
<circle cx="403.26" cy="427.54" r="1.22" fill="#b8b8b8" stroke="#222" stroke-width="0.6"/>
<circle cx="402.14" cy="426.67" r="1.22" fill="#b8b8b8" stroke="#222" stroke-width="0.6"/>
<circle cx="399.52" cy="425.6" r="1.22" fill="#b8b8b8" stroke="#222" stroke-width="0.6"/>
<circle cx="399.67" cy="425.11" r="1.22" fill="#b8b8b8" stroke="#222" stroke-width="0.6"/>
<circle cx="399.5" cy="424.18" r="1.22" fill="#b8b8b8" stroke="#222" stroke-width="0.6"/>
<circle cx="400.68" cy="424.05" r="1.22" fill="#b8b8b8" stroke="#222" stroke-width="0.6"/>
<circle cx="399.13" cy="421.24" r="1.22" fill="#b8b8b8" stroke="#222" stroke-width="0.6"/>
<circle cx="400.43" cy="419.64" r="1.22" fill="#b8b8b8" stroke="#222" stroke-width="0.6"/>
<circle cx="418.64" cy="426.14" r="1.22" fill="#b8b8b8" stroke="#222" stroke-width="0.6"/>
<circle cx="414.63" cy="422.66" r="1.22" fill="#b8b8b8" stroke="#222" stroke-width="0.6"/>
<circle cx="419.2" cy="417.97" r="1.22" fill="#b8b8b8" stroke="#222" stroke-width="0.6"/>
<circle cx="414.05" cy="417.37" r="1.22" fill="#b8b8b8" stroke="#222" stroke-width="0.6"/>
<circle cx="417.21" cy="415.93" r="1.22" fill="#b8b8b8" stroke="#222" stroke-width="0.6"/>
<circle cx="416.62" cy="405.84" r="1.22" fill="#b8b8b8" stroke="#222" stroke-width="0.6"/>
<circle cx="415.85" cy="391" r="1.22" fill="#b8b8b8" stroke="#222" stroke-width="0.6"/>
<circle cx="430.7" cy="432.39" r="1.22" fill="#b8b8b8" stroke="#222" stroke-width="0.6"/>
<circle cx="434.4" cy="432.08" r="1.22" fill="#b8b8b8" stroke="#222" stroke-width="0.6"/>
<circle cx="434.91" cy="432.07" r="1.22" fill="#b8b8b8" stroke="#222" stroke-width="0.6"/>
<circle cx="432.03" cy="432.06" r="1.22" fill="#b8b8b8" stroke="#222" stroke-width="0.6"/>
<circle cx="429.26" cy="431.97" r="1.22" fill="#b8b8b8" stroke="#222" stroke-width="0.6"/>
<circle cx="431.52" cy="431.96" r="1.22" fill="#b8b8b8" stroke="#222" stroke-width="0.6"/>
<circle cx="447.84" cy="430.93" r="1.22" fill="#b8b8b8" stroke="#222" stroke-width="0.6"/>
<circle cx="447.39" cy="429.6" r="1.22" fill="#b8b8b8" stroke="#222" stroke-width="0.6"/>
<circle cx="449.42" cy="429.21" r="1.22" fill="#b8b8b8" stroke="#222" stroke-width="0.6"/>
<circle cx="448.07" cy="428.61" r="1.22" fill="#b8b8b8" stroke="#222" stroke-width="0.6"/>
<circle cx="448.65" cy="428.25" r="1.22" fill="#b8b8b8" stroke="#222" stroke-width="0.6"/>
<circle cx="445.69" cy="428.11" r="1.22" fill="#b8b8b8" stroke="#222" stroke-width="0.6"/>
<circle cx="444.87" cy="427.13" r="1.22" fill="#b8b8b8" stroke="#222" stroke-width="0.6"/>
<circle cx="445.94" cy="426.74" r="1.22" fill="#b8b8b8" stroke="#222" stroke-width="0.6"/>
<circle cx="460.33" cy="430.96" r="1.22" fill="#b8b8b8" stroke="#222" stroke-width="0.6"/>
<circle cx="459.74" cy="429.97" r="1.22" fill="#b8b8b8" stroke="#222" stroke-width="0.6"/>
<circle cx="459.62" cy="429.96" r="1.22" fill="#b8b8b8" stroke="#222" stroke-width="0.6"/>
<circle cx="464.18" cy="427.93" r="1.22" fill="#b8b8b8" stroke="#222" stroke-width="0.6"/>
<circle cx="464.25" cy="427.3" r="1.22" fill="#b8b8b8" stroke="#222" stroke-width="0.6"/>
<circle cx="460.87" cy="426.34" r="1.22" fill="#b8b8b8" stroke="#222" stroke-width="0.6"/>
<circle cx="460.18" cy="426.1" r="1.22" fill="#b8b8b8" stroke="#222" stroke-width="0.6"/>
<circle cx="461.7" cy="424.12" r="1.22" fill="#b8b8b8" stroke="#222" stroke-width="0.6"/>
<circle cx="479.85" cy="432.49" r="1.22" fill="#b8b8b8" stroke="#222" stroke-width="0.6"/>
<circle cx="478.39" cy="431.94" r="1.22" fill="#b8b8b8" stroke="#222" stroke-width="0.6"/>
<circle cx="476.64" cy="431.88" r="1.22" fill="#b8b8b8" stroke="#222" stroke-width="0.6"/>
<circle cx="475.45" cy="431.74" r="1.22" fill="#b8b8b8" stroke="#222" stroke-width="0.6"/>
<circle cx="490.64" cy="431.36" r="1.22" fill="#b8b8b8" stroke="#222" stroke-width="0.6"/>
<circle cx="494.66" cy="431.09" r="1.22" fill="#b8b8b8" stroke="#222" stroke-width="0.6"/>
<circle cx="493.13" cy="429.84" r="1.22" fill="#b8b8b8" stroke="#222" stroke-width="0.6"/>
<circle cx="492.62" cy="429.4" r="1.22" fill="#b8b8b8" stroke="#222" stroke-width="0.6"/>
<circle cx="493.7" cy="429.19" r="1.22" fill="#b8b8b8" stroke="#222" stroke-width="0.6"/>
<line x1="376.25" y1="377.4" x2="376.25" y2="433" stroke="#2a2a2a" stroke-width="1.1"/>
<line x1="375.75" y1="432.5" x2="515.65" y2="432.5" stroke="#2a2a2a" stroke-width="1.1"/>
<line x1="373.45" y1="432.5" x2="376.25" y2="432.5" stroke="#2a2a2a" stroke-width="1.1"/>
<text x="371.95" y="434.44" font-size="5.4" text-anchor="end" textLength="16.32" lengthAdjust="spacingAndGlyphs">0.0000</text>
<line x1="373.45" y1="421.58" x2="376.25" y2="421.58" stroke="#2a2a2a" stroke-width="1.1"/>
<text x="371.95" y="423.52" font-size="5.4" text-anchor="end" textLength="16.32" lengthAdjust="spacingAndGlyphs">0.0005</text>
<line x1="373.45" y1="410.66" x2="376.25" y2="410.66" stroke="#2a2a2a" stroke-width="1.1"/>
<text x="371.95" y="412.6" font-size="5.4" text-anchor="end" textLength="16.32" lengthAdjust="spacingAndGlyphs">0.0010</text>
<line x1="373.45" y1="399.74" x2="376.25" y2="399.74" stroke="#2a2a2a" stroke-width="1.1"/>
<text x="371.95" y="401.68" font-size="5.4" text-anchor="end" textLength="16.32" lengthAdjust="spacingAndGlyphs">0.0015</text>
<line x1="373.45" y1="388.82" x2="376.25" y2="388.82" stroke="#2a2a2a" stroke-width="1.1"/>
<text x="371.95" y="390.76" font-size="5.4" text-anchor="end" textLength="16.32" lengthAdjust="spacingAndGlyphs">0.0020</text>
<line x1="373.45" y1="377.9" x2="376.25" y2="377.9" stroke="#2a2a2a" stroke-width="1.1"/>
<text x="371.95" y="379.84" font-size="5.4" text-anchor="end" textLength="16.32" lengthAdjust="spacingAndGlyphs">0.0025</text>
<line x1="386.6" y1="432.5" x2="386.6" y2="435.6" stroke="#2a2a2a" stroke-width="0.9"/>
<line x1="401.78" y1="432.5" x2="401.78" y2="435.6" stroke="#2a2a2a" stroke-width="0.9"/>
<line x1="416.96" y1="432.5" x2="416.96" y2="435.6" stroke="#2a2a2a" stroke-width="0.9"/>
<line x1="432.14" y1="432.5" x2="432.14" y2="435.6" stroke="#2a2a2a" stroke-width="0.9"/>
<line x1="447.32" y1="432.5" x2="447.32" y2="435.6" stroke="#2a2a2a" stroke-width="0.9"/>
<line x1="462.5" y1="432.5" x2="462.5" y2="435.6" stroke="#2a2a2a" stroke-width="0.9"/>
<line x1="477.68" y1="432.5" x2="477.68" y2="435.6" stroke="#2a2a2a" stroke-width="0.9"/>
<line x1="492.86" y1="432.5" x2="492.86" y2="435.6" stroke="#2a2a2a" stroke-width="0.9"/>
<line x1="508.04" y1="432.5" x2="508.04" y2="435.6" stroke="#2a2a2a" stroke-width="0.9"/>
<text x="385.8" y="444.3" font-size="6.7" text-anchor="middle" textLength="12.3" lengthAdjust="spacingAndGlyphs">2mo</text>
<text x="400.98" y="444.3" font-size="6.7" text-anchor="middle" textLength="6.4" lengthAdjust="spacingAndGlyphs">1y</text>
<text x="416.16" y="444.3" font-size="6.7" text-anchor="middle" textLength="6.9" lengthAdjust="spacingAndGlyphs">2y</text>
<text x="431.34" y="444.3" font-size="6.7" text-anchor="middle" textLength="12.3" lengthAdjust="spacingAndGlyphs">2mo</text>
<text x="446.52" y="444.3" font-size="6.7" text-anchor="middle" textLength="6.4" lengthAdjust="spacingAndGlyphs">1y</text>
<text x="461.7" y="444.3" font-size="6.7" text-anchor="middle" textLength="6.9" lengthAdjust="spacingAndGlyphs">2y</text>
<text x="476.88" y="444.3" font-size="6.7" text-anchor="middle" textLength="12.3" lengthAdjust="spacingAndGlyphs">2mo</text>
<text x="492.06" y="444.3" font-size="6.7" text-anchor="middle" textLength="6.4" lengthAdjust="spacingAndGlyphs">1y</text>
<text x="507.24" y="444.3" font-size="6.7" text-anchor="middle" textLength="6.9" lengthAdjust="spacingAndGlyphs">2y</text>
<line x1="380.25" y1="447.3" x2="420.55" y2="447.3" stroke="#c6c6c6" stroke-width="1.35"/>
<text x="400.4" y="455.6" font-size="6.7" text-anchor="middle" textLength="22.6" lengthAdjust="spacingAndGlyphs">WT SPF</text>
<line x1="424.65" y1="447.3" x2="466.45" y2="447.3" stroke="#c6c6c6" stroke-width="1.35"/>
<text x="445.55" y="455.6" font-size="6.7" text-anchor="middle" textLength="40.9" lengthAdjust="spacingAndGlyphs">IL-1R1KO SPF</text>
<line x1="470.25" y1="447.3" x2="511.65" y2="447.3" stroke="#c6c6c6" stroke-width="1.35"/>
<text x="490.95" y="455.6" font-size="6.7" text-anchor="middle" textLength="20.7" lengthAdjust="spacingAndGlyphs">WT GF</text>
<text x="508.04" y="430.1" font-size="4.6" text-anchor="middle" textLength="8.2" lengthAdjust="spacingAndGlyphs">N.A.</text>
<line x1="418" y1="369.1" x2="461.8" y2="369.1" stroke="#bababa" stroke-width="1.05"/>
<path d="M419.1 365.95V368.05M418.19 366.48L420.01 367.52M418.19 367.52L420.01 366.48" stroke="#333" stroke-width="0.7" fill="none"/>
<line x1="402.3" y1="374" x2="445.5" y2="374" stroke="#bababa" stroke-width="1.05"/>
<path d="M403.4 370.85V372.95M402.49 371.38L404.31 372.42M402.49 372.42L404.31 371.38" stroke="#333" stroke-width="0.7" fill="none"/>
<line x1="386" y1="380.2" x2="415.4" y2="380.2" stroke="#bababa" stroke-width="1.05"/>
<path d="M387.1 377.05V379.15M386.19 377.57L388.01 378.62M386.19 378.62L388.01 377.57" stroke="#333" stroke-width="0.7" fill="none"/>
<path d="M390.15 377.05V379.15M389.24 377.57L391.06 378.62M389.24 378.62L391.06 377.57" stroke="#333" stroke-width="0.7" fill="none"/>
<line x1="386" y1="384.7" x2="398.8" y2="384.7" stroke="#bababa" stroke-width="1.05"/>
<path d="M387.1 381.55V383.65M386.19 382.07L388.01 383.12M386.19 383.12L388.01 382.07" stroke="#333" stroke-width="0.7" fill="none"/>
<path d="M390.15 381.55V383.65M389.24 382.07L391.06 383.12M389.24 383.12L391.06 382.07" stroke="#333" stroke-width="0.7" fill="none"/>
<path d="M393.2 381.55V383.65M392.29 382.07L394.11 383.12M392.29 383.12L394.11 382.07" stroke="#333" stroke-width="0.7" fill="none"/>
<line x1="401.6" y1="384.7" x2="415.4" y2="384.7" stroke="#bababa" stroke-width="1.05"/>
<path d="M402.7 381.55V383.65M401.79 382.07L403.61 383.12M401.79 383.12L403.61 382.07" stroke="#333" stroke-width="0.7" fill="none"/>
<line x1="432.7" y1="380.2" x2="461.8" y2="380.2" stroke="#bababa" stroke-width="1.05"/>
<path d="M433.8 377.05V379.15M432.89 377.57L434.71 378.62M432.89 378.62L434.71 377.57" stroke="#333" stroke-width="0.7" fill="none"/>
<path d="M436.85 377.05V379.15M435.94 377.57L437.76 378.62M435.94 378.62L437.76 377.57" stroke="#333" stroke-width="0.7" fill="none"/>
<path d="M439.9 377.05V379.15M438.99 377.57L440.81 378.62M438.99 378.62L440.81 377.57" stroke="#333" stroke-width="0.7" fill="none"/>
<path d="M442.95 377.05V379.15M442.04 377.57L443.86 378.62M442.04 378.62L443.86 377.57" stroke="#333" stroke-width="0.7" fill="none"/>
<line x1="432.7" y1="384.7" x2="445.5" y2="384.7" stroke="#bababa" stroke-width="1.05"/>
<path d="M433.8 381.55V383.65M432.89 382.07L434.71 383.12M432.89 383.12L434.71 382.07" stroke="#333" stroke-width="0.7" fill="none"/>
<path d="M436.85 381.55V383.65M435.94 382.07L437.76 383.12M435.94 383.12L437.76 382.07" stroke="#333" stroke-width="0.7" fill="none"/>
<path d="M439.9 381.55V383.65M438.99 382.07L440.81 383.12M438.99 383.12L440.81 382.07" stroke="#333" stroke-width="0.7" fill="none"/>
<path d="M442.95 381.55V383.65M442.04 382.07L443.86 383.12M442.04 383.12L443.86 382.07" stroke="#333" stroke-width="0.7" fill="none"/>
<line x1="477" y1="384.7" x2="489.5" y2="384.7" stroke="#bababa" stroke-width="1.05"/>
<path d="M478.1 381.55V383.65M477.19 382.07L479.01 383.12M477.19 383.12L479.01 382.07" stroke="#333" stroke-width="0.7" fill="none"/>
<path d="M481.15 381.55V383.65M480.24 382.07L482.06 383.12M480.24 383.12L482.06 382.07" stroke="#333" stroke-width="0.7" fill="none"/>
<text x="429.1" y="351.2" font-size="6.6" text-anchor="middle" textLength="164.4" lengthAdjust="spacingAndGlyphs">Frequency of LKS CD34<tspan font-size="3.6" dy="-2">-</tspan><tspan dy="2">Flt3</tspan><tspan font-size="3.6" dy="-2">-</tspan><tspan dy="2">CD48</tspan><tspan font-size="3.6" dy="-2">-</tspan><tspan dy="2">CD150</tspan><tspan font-size="3.6" dy="-2">+</tspan><tspan dy="2">EPCR</tspan><tspan font-size="3.6" dy="-2">+</tspan><tspan dy="2">CD41</tspan><tspan font-size="3.6" dy="-2">-</tspan></text>
<text x="351.8" y="404.4" font-size="8.8" text-anchor="middle" textLength="97.8" lengthAdjust="spacingAndGlyphs" transform="rotate(-90 351.8 404.4)">Frequency in live BM cells (%)</text>
<text x="23.8" y="475.6" font-size="6.6" textLength="140.2" lengthAdjust="spacingAndGlyphs">Cell cycle analysis: LKS CD34<tspan font-size="3.6" dy="-2">-</tspan><tspan dy="2">Flt3</tspan><tspan font-size="3.6" dy="-2">-</tspan><tspan dy="2">CD48</tspan><tspan font-size="3.6" dy="-2">-</tspan><tspan dy="2">CD150</tspan><tspan font-size="3.6" dy="-2">+</tspan></text>
<line x1="81.5" y1="489" x2="81.5" y2="574.3" stroke="#1a1a1a" stroke-width="1.0" stroke-dasharray="1 0.7"/>
<line x1="128.5" y1="489" x2="128.5" y2="574.3" stroke="#1a1a1a" stroke-width="1.0" stroke-dasharray="1 0.7"/>
<rect x="37.25" y="522.83" width="10" height="51.47" fill="#F7B923"/>
<rect x="37.25" y="507.77" width="10" height="15.06" fill="#B4621F"/>
<rect x="37.25" y="506.13" width="10" height="1.64" fill="#4B2A12"/>
<rect x="52.8" y="514.31" width="10" height="59.99" fill="#F7B923"/>
<rect x="52.8" y="507.77" width="10" height="6.54" fill="#B4621F"/>
<rect x="52.8" y="506.13" width="10" height="1.64" fill="#4B2A12"/>
<rect x="68.35" y="515.68" width="10" height="58.62" fill="#F7B923"/>
<rect x="68.35" y="507.77" width="10" height="7.91" fill="#B4621F"/>
<rect x="68.35" y="506.13" width="10" height="1.64" fill="#4B2A12"/>
<rect x="83.9" y="520.72" width="10" height="53.58" fill="#F7B923"/>
<rect x="83.9" y="507.77" width="10" height="12.95" fill="#B4621F"/>
<rect x="83.9" y="506.13" width="10" height="1.64" fill="#4B2A12"/>
<rect x="99.45" y="521.81" width="10" height="52.49" fill="#F7B923"/>
<rect x="99.45" y="507.77" width="10" height="14.04" fill="#B4621F"/>
<rect x="99.45" y="506.13" width="10" height="1.64" fill="#4B2A12"/>
<rect x="115" y="515.2" width="10" height="59.1" fill="#F7B923"/>
<rect x="115" y="507.77" width="10" height="7.43" fill="#B4621F"/>
<rect x="115" y="506.13" width="10" height="1.64" fill="#4B2A12"/>
<rect x="130.55" y="526.58" width="10" height="47.72" fill="#F7B923"/>
<rect x="130.55" y="507.77" width="10" height="18.81" fill="#B4621F"/>
<rect x="130.55" y="506.13" width="10" height="1.64" fill="#4B2A12"/>
<rect x="146.1" y="519.43" width="10" height="54.87" fill="#F7B923"/>
<rect x="146.1" y="507.77" width="10" height="11.66" fill="#B4621F"/>
<rect x="146.1" y="506.13" width="10" height="1.64" fill="#4B2A12"/>
<line x1="42.25" y1="522.83" x2="42.25" y2="517.45" stroke="#3a2a1a" stroke-width="0.9"/>
<line x1="40.05" y1="517.45" x2="44.45" y2="517.45" stroke="#3a2a1a" stroke-width="0.9"/>
<line x1="42.25" y1="506.13" x2="42.25" y2="501.63" stroke="#3a2a1a" stroke-width="0.9"/>
<line x1="40.05" y1="501.63" x2="44.45" y2="501.63" stroke="#3a2a1a" stroke-width="0.9"/>
<line x1="57.8" y1="514.31" x2="57.8" y2="512.95" stroke="#3a2a1a" stroke-width="0.9"/>
<line x1="55.6" y1="512.95" x2="60" y2="512.95" stroke="#3a2a1a" stroke-width="0.9"/>
<line x1="57.8" y1="506.13" x2="57.8" y2="504.77" stroke="#3a2a1a" stroke-width="0.9"/>
<line x1="55.6" y1="504.77" x2="60" y2="504.77" stroke="#3a2a1a" stroke-width="0.9"/>
<line x1="73.35" y1="515.68" x2="73.35" y2="514.31" stroke="#3a2a1a" stroke-width="0.9"/>
<line x1="71.15" y1="514.31" x2="75.55" y2="514.31" stroke="#3a2a1a" stroke-width="0.9"/>
<line x1="73.35" y1="506.13" x2="73.35" y2="504.77" stroke="#3a2a1a" stroke-width="0.9"/>
<line x1="71.15" y1="504.77" x2="75.55" y2="504.77" stroke="#3a2a1a" stroke-width="0.9"/>
<line x1="88.9" y1="520.72" x2="88.9" y2="518.4" stroke="#3a2a1a" stroke-width="0.9"/>
<line x1="86.7" y1="518.4" x2="91.1" y2="518.4" stroke="#3a2a1a" stroke-width="0.9"/>
<line x1="88.9" y1="506.13" x2="88.9" y2="504.09" stroke="#3a2a1a" stroke-width="0.9"/>
<line x1="86.7" y1="504.09" x2="91.1" y2="504.09" stroke="#3a2a1a" stroke-width="0.9"/>
<line x1="104.45" y1="521.81" x2="104.45" y2="517.72" stroke="#3a2a1a" stroke-width="0.9"/>
<line x1="102.25" y1="517.72" x2="106.65" y2="517.72" stroke="#3a2a1a" stroke-width="0.9"/>
<line x1="104.45" y1="506.13" x2="104.45" y2="501.36" stroke="#3a2a1a" stroke-width="0.9"/>
<line x1="102.25" y1="501.36" x2="106.65" y2="501.36" stroke="#3a2a1a" stroke-width="0.9"/>
<line x1="120" y1="515.2" x2="120" y2="513.63" stroke="#3a2a1a" stroke-width="0.9"/>
<line x1="117.8" y1="513.63" x2="122.2" y2="513.63" stroke="#3a2a1a" stroke-width="0.9"/>
<line x1="120" y1="506.13" x2="120" y2="504.09" stroke="#3a2a1a" stroke-width="0.9"/>
<line x1="117.8" y1="504.09" x2="122.2" y2="504.09" stroke="#3a2a1a" stroke-width="0.9"/>
<line x1="135.55" y1="526.58" x2="135.55" y2="521.13" stroke="#3a2a1a" stroke-width="0.9"/>
<line x1="133.35" y1="521.13" x2="137.75" y2="521.13" stroke="#3a2a1a" stroke-width="0.9"/>
<line x1="135.55" y1="506.13" x2="135.55" y2="499.66" stroke="#3a2a1a" stroke-width="0.9"/>
<line x1="133.35" y1="499.66" x2="137.75" y2="499.66" stroke="#3a2a1a" stroke-width="0.9"/>
<line x1="151.1" y1="519.43" x2="151.1" y2="517.04" stroke="#3a2a1a" stroke-width="0.9"/>
<line x1="148.9" y1="517.04" x2="153.3" y2="517.04" stroke="#3a2a1a" stroke-width="0.9"/>
<line x1="151.1" y1="506.13" x2="151.1" y2="504.09" stroke="#3a2a1a" stroke-width="0.9"/>
<line x1="148.9" y1="504.09" x2="153.3" y2="504.09" stroke="#3a2a1a" stroke-width="0.9"/>
<line x1="32" y1="492" x2="32" y2="574.8" stroke="#2a2a2a" stroke-width="1.1"/>
<line x1="31.5" y1="574.3" x2="177" y2="574.3" stroke="#2a2a2a" stroke-width="1.1"/>
<line x1="29" y1="574.3" x2="32" y2="574.3" stroke="#2a2a2a" stroke-width="1.1"/>
<text x="26" y="576.78" font-size="6.9" text-anchor="end" textLength="3.3" lengthAdjust="spacingAndGlyphs">0</text>
<line x1="29" y1="560.67" x2="32" y2="560.67" stroke="#2a2a2a" stroke-width="1.1"/>
<text x="26" y="563.15" font-size="6.9" text-anchor="end" textLength="6.6" lengthAdjust="spacingAndGlyphs">20</text>
<line x1="29" y1="547.03" x2="32" y2="547.03" stroke="#2a2a2a" stroke-width="1.1"/>
<text x="26" y="549.52" font-size="6.9" text-anchor="end" textLength="6.6" lengthAdjust="spacingAndGlyphs">40</text>
<line x1="29" y1="533.4" x2="32" y2="533.4" stroke="#2a2a2a" stroke-width="1.1"/>
<text x="26" y="535.88" font-size="6.9" text-anchor="end" textLength="6.6" lengthAdjust="spacingAndGlyphs">60</text>
<line x1="29" y1="519.77" x2="32" y2="519.77" stroke="#2a2a2a" stroke-width="1.1"/>
<text x="26" y="522.25" font-size="6.9" text-anchor="end" textLength="6.6" lengthAdjust="spacingAndGlyphs">80</text>
<line x1="29" y1="506.13" x2="32" y2="506.13" stroke="#2a2a2a" stroke-width="1.1"/>
<text x="26" y="508.62" font-size="6.9" text-anchor="end" textLength="9.9" lengthAdjust="spacingAndGlyphs">100</text>
<line x1="29" y1="492.5" x2="32" y2="492.5" stroke="#2a2a2a" stroke-width="1.1"/>
<text x="26" y="494.98" font-size="6.9" text-anchor="end" textLength="9.9" lengthAdjust="spacingAndGlyphs">120</text>
<line x1="42.25" y1="574.3" x2="42.25" y2="577.4" stroke="#2a2a2a" stroke-width="0.9"/>
<line x1="57.8" y1="574.3" x2="57.8" y2="577.4" stroke="#2a2a2a" stroke-width="0.9"/>
<line x1="73.35" y1="574.3" x2="73.35" y2="577.4" stroke="#2a2a2a" stroke-width="0.9"/>
<line x1="88.9" y1="574.3" x2="88.9" y2="577.4" stroke="#2a2a2a" stroke-width="0.9"/>
<line x1="104.45" y1="574.3" x2="104.45" y2="577.4" stroke="#2a2a2a" stroke-width="0.9"/>
<line x1="120" y1="574.3" x2="120" y2="577.4" stroke="#2a2a2a" stroke-width="0.9"/>
<line x1="135.55" y1="574.3" x2="135.55" y2="577.4" stroke="#2a2a2a" stroke-width="0.9"/>
<line x1="151.1" y1="574.3" x2="151.1" y2="577.4" stroke="#2a2a2a" stroke-width="0.9"/>
<line x1="166.65" y1="574.3" x2="166.65" y2="577.4" stroke="#2a2a2a" stroke-width="0.9"/>
<text x="39.95" y="583.6" font-size="5.7" text-anchor="middle" textLength="10.1" lengthAdjust="spacingAndGlyphs">2mo</text>
<text x="55.5" y="583.6" font-size="5.7" text-anchor="middle" textLength="6" lengthAdjust="spacingAndGlyphs">1y</text>
<text x="71.05" y="583.6" font-size="5.7" text-anchor="middle" textLength="6.5" lengthAdjust="spacingAndGlyphs">2y</text>
<text x="86.6" y="583.6" font-size="5.7" text-anchor="middle" textLength="10.1" lengthAdjust="spacingAndGlyphs">2mo</text>
<text x="102.15" y="583.6" font-size="5.7" text-anchor="middle" textLength="6" lengthAdjust="spacingAndGlyphs">1y</text>
<text x="117.7" y="583.6" font-size="5.7" text-anchor="middle" textLength="6.5" lengthAdjust="spacingAndGlyphs">2y</text>
<text x="133.25" y="583.6" font-size="5.7" text-anchor="middle" textLength="10.1" lengthAdjust="spacingAndGlyphs">2mo</text>
<text x="148.8" y="583.6" font-size="5.7" text-anchor="middle" textLength="6" lengthAdjust="spacingAndGlyphs">1y</text>
<text x="164.35" y="583.6" font-size="5.7" text-anchor="middle" textLength="6.5" lengthAdjust="spacingAndGlyphs">2y</text>
<line x1="34.6" y1="585.8" x2="74.4" y2="585.8" stroke="#a5a5a5" stroke-width="1"/>
<text x="54.5" y="593.3" font-size="6.7" text-anchor="middle" textLength="23.35" lengthAdjust="spacingAndGlyphs">WT SPF</text>
<line x1="80.6" y1="585.8" x2="121.8" y2="585.8" stroke="#a5a5a5" stroke-width="1"/>
<text x="101.2" y="593.3" font-size="6.7" text-anchor="middle" textLength="40.6" lengthAdjust="spacingAndGlyphs">IL-1R1KO SPF</text>
<line x1="126.7" y1="585.8" x2="165.6" y2="585.8" stroke="#a5a5a5" stroke-width="1"/>
<text x="146.15" y="593.3" font-size="6.7" text-anchor="middle" textLength="20.5" lengthAdjust="spacingAndGlyphs">WT GF</text>
<text x="167.35" y="567.7" font-size="5.6" text-anchor="middle" textLength="11" lengthAdjust="spacingAndGlyphs">N.A.</text>
<line x1="57.2" y1="486.2" x2="151" y2="486.2" stroke="#a0a0a0" stroke-width="1"/>
<path d="M104.1 481.55V483.65M103.19 482.07L105.01 483.12M103.19 483.12L105.01 482.07" stroke="#333" stroke-width="0.7" fill="none"/>
<line x1="57.2" y1="490.3" x2="104" y2="490.3" stroke="#a0a0a0" stroke-width="1"/>
<path d="M80.6 487.55V489.65M79.69 488.08L81.51 489.12M79.69 489.12L81.51 488.08" stroke="#333" stroke-width="0.7" fill="none"/>
<line x1="42" y1="495.2" x2="71.9" y2="495.2" stroke="#a0a0a0" stroke-width="1"/>
<path d="M56.95 492.75V494.85M56.04 493.28L57.86 494.32M56.04 494.32L57.86 493.28" stroke="#333" stroke-width="0.7" fill="none"/>
<line x1="42" y1="498.9" x2="56.3" y2="498.9" stroke="#a0a0a0" stroke-width="1"/>
<path d="M49.15 496.05V498.15M48.24 496.57L50.06 497.62M48.24 497.62L50.06 496.57" stroke="#333" stroke-width="0.7" fill="none"/>
<line x1="89" y1="495.2" x2="119.7" y2="495.2" stroke="#a0a0a0" stroke-width="1"/>
<path d="M104.35 492.75V494.85M103.44 493.28L105.26 494.32M103.44 494.32L105.26 493.28" stroke="#333" stroke-width="0.7" fill="none"/>
<line x1="105" y1="498.9" x2="119.2" y2="498.9" stroke="#a0a0a0" stroke-width="1"/>
<path d="M112.1 496.05V498.15M111.19 496.57L113.01 497.62M111.19 497.62L113.01 496.57" stroke="#333" stroke-width="0.7" fill="none"/>
<text x="11.9" y="533.3" font-size="9.6" text-anchor="middle" textLength="96.5" lengthAdjust="spacingAndGlyphs" transform="rotate(-90 11.9 533.3)">Cell cycle stage frequency (%)</text>
<rect x="176.7" y="496.3" width="8.5" height="3.1" fill="#4B2A12"/>
<text x="188" y="500.3" font-size="7" textLength="25.7" lengthAdjust="spacingAndGlyphs">G2-S-M</text>
<rect x="176.7" y="504.1" width="8.5" height="3.1" fill="#B4621F"/>
<text x="188" y="508.1" font-size="7" textLength="8.3" lengthAdjust="spacingAndGlyphs">G1</text>
<rect x="176.7" y="512.1" width="8.5" height="3.1" fill="#F7B923"/>
<text x="188" y="516.1" font-size="7" textLength="8.6" lengthAdjust="spacingAndGlyphs">G0</text>
<rect x="0.5" y="0.5" width="519" height="600" fill="none" stroke="#111" stroke-width="1.2"/>
</svg>
</body></html>
